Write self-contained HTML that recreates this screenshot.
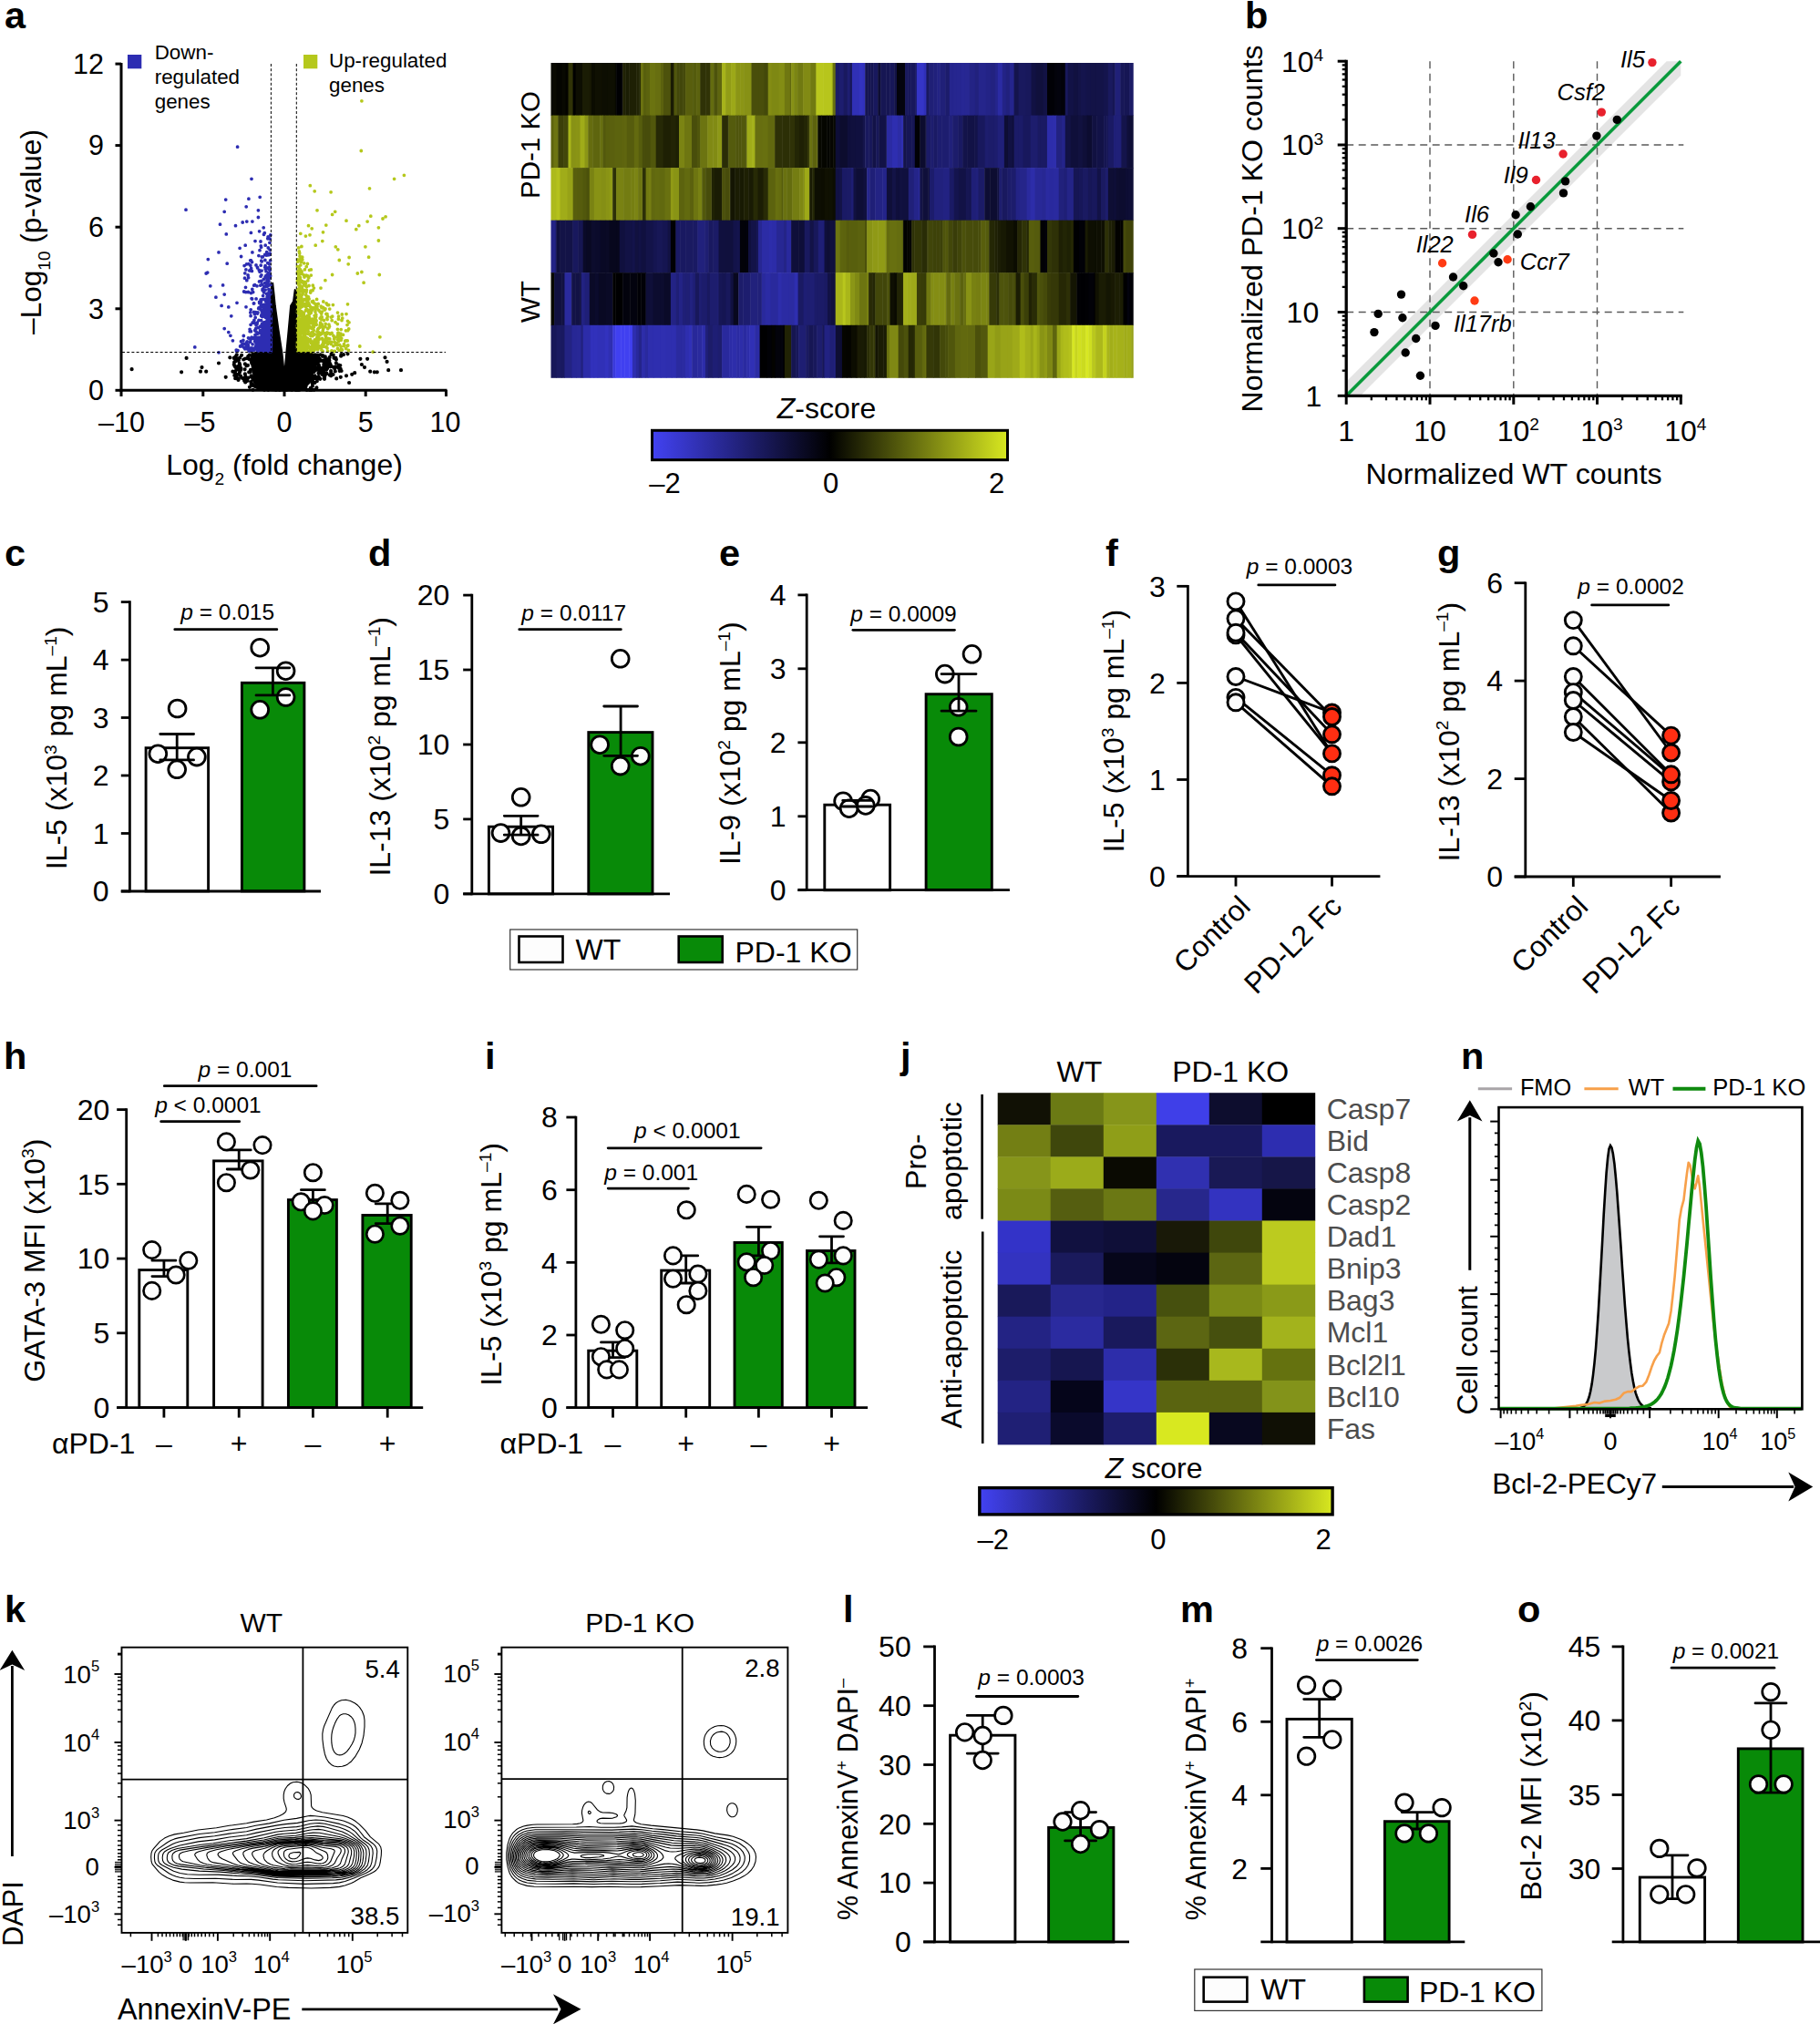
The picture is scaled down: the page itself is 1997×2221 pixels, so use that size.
<!DOCTYPE html>
<html><head><meta charset="utf-8"><title>Figure</title>
<style>html,body{margin:0;padding:0;background:#fff}svg{display:block}text{font-family:"Liberation Sans", sans-serif}</style>
</head><body>
<svg width="1997" height="2221" viewBox="0 0 1997 2221" fill="#000">
<rect width="1997" height="2221" fill="#fff"/>
<g>
<text x="5" y="31" font-size="41.5" font-weight="bold">a</text>
<path d="M297.9 314.4L299.2 310.7L300.5 322.3L301.8 335.5L305.5 361.9L309.5 388.2L312.1 412.6L314.2 388.2L316.7 361.9L319.1 335.5L322 330.9L323.7 318.1L325.3 322.3L325.3 386.9L342.4 387.6L345.1 396.2L343.7 408L339.8 419.9L331.9 427.5L318.7 428.6L300.2 428.6L284.4 427.5L279.1 419.9L277.8 408L275.2 394.8L276.5 387.6L297.9 386.9Z" fill="#000" stroke="#000" stroke-width="2" stroke-linejoin="round"/>
<path d="M272.2 391.2h0M258.1 402.4h0M258.4 391.3h0M259.6 395h0M270.4 401.4h0M277.1 398.8h0M264 412.6h0M271.9 400.9h0M258.1 394.4h0M264.2 405.9h0M275.6 412.4h0M269.2 416.1h0M280 393.1h0M260.3 402.4h0M274.9 408h0M273.2 408.4h0M276.6 421.1h0M258.1 407.6h0M276.2 398.6h0M257.2 401.1h0M258.1 409.4h0M266 414.9h0M269.7 416.6h0M263.3 400.8h0M279.4 394.2h0M262.2 402.6h0M256.8 399.9h0M279.3 413.2h0M272.8 390.7h0M277.5 416.4h0M259.2 406.1h0M261.7 393.5h0M256.7 392.9h0M257.3 411.9h0M262.7 398.8h0M276.9 422.8h0M258.7 391.7h0M276.4 394.4h0M269.2 393.5h0M269.2 419.4h0M262.9 399.4h0M269.3 413.2h0M276 422.2h0M276.1 414h0M265.1 389.8h0M262.9 408.7h0M278.9 423.5h0M261.9 395.3h0M271.5 417.8h0M272.2 414.7h0M278.3 416.1h0M260.9 410.9h0M279.8 402.9h0M273.9 394.5h0M278.2 416.9h0M280 412.2h0M259.8 389.3h0M269.2 418h0M276.3 396.1h0M262.4 405.6h0M259.8 413.8h0M270.6 417.5h0M268.6 405.3h0M267.2 394.5h0M260.8 402h0M264.4 404h0M259.2 404.1h0M275 405.9h0M278.4 404.3h0M268.9 410.4h0M268.1 417.8h0M279.1 398h0M276.6 393.6h0M258.4 395.4h0M275.3 419h0M272.4 393.5h0M261.9 415.8h0M280.2 418.5h0M268.9 399.4h0M273.8 389.6h0M257.1 397.6h0M258.2 415.2h0M259.2 396.1h0M263.1 392.6h0M276.1 397.7h0M343.7 419.5h0M351.8 409.1h0M342.9 390.8h0M355.6 400.3h0M342.7 420.6h0M353.7 411.1h0M342.8 417.8h0M342.6 418.1h0M348.9 399.2h0M351.3 415.8h0M345.5 393.1h0M350.6 395.9h0M343.1 394.3h0M342.4 395.8h0M346.2 398.6h0M358.7 396.2h0M350 394.2h0M346.8 389.5h0M345.2 389.4h0M357.4 403.1h0M344.3 404.5h0M374.1 390.7h0M362 398.9h0M349.9 413.8h0M347.7 404.6h0M355.6 415.1h0M346.7 415.2h0M356.3 405.6h0M347.9 399.6h0M342.4 393.3h0M342.6 414h0M345.3 394.2h0M342.8 417.3h0M366 403h0M345.7 396.7h0M345.9 403.6h0M343.8 403.7h0M345.4 420h0M351.2 396h0M346.2 400.3h0M341.8 402h0M349.4 404h0M344.4 405.5h0M341.8 398h0M342.9 402.4h0M342.3 389.7h0M346.1 396.3h0M352.2 404h0M358.2 405.5h0M356.7 411.8h0M347.6 399h0M343.7 413h0M354 390.1h0M363.2 409h0M353.5 409.3h0M361.6 392.2h0M350.6 403.8h0M363.1 407h0M362.5 402.3h0M368.3 402.4h0M355.8 395h0M342.1 393.4h0M347.1 392.2h0M363.2 401.5h0M353.5 406.3h0M355.3 402h0M341.8 416.2h0M358.1 401.6h0M350.9 408.2h0M342.6 413.8h0M345.2 391.3h0M345.4 412.4h0M344.5 413.2h0M349.8 400.3h0M349.5 409.4h0M359.1 404.2h0M354 391h0M343.7 397.4h0M357.9 396.6h0M351.7 389.3h0M342.5 398h0M355 407.6h0M355.1 396.7h0M350.4 402.6h0M349.2 392.5h0M368.4 392.8h0M374.4 389.2h0M349.1 413.7h0M348.8 397.1h0M344.6 419.9h0M344.6 407.9h0M343.6 406.4h0M343.5 416.3h0M350.2 415.2h0M356.2 395h0M368.8 398.3h0M342.1 389h0M349.8 402.4h0M346 393.4h0M346.8 398.9h0M363.5 388.9h0M358.3 410.1h0M343.3 419.9h0M326.5 427.8h0M295.3 424.7h0M302.9 427.8h0M317.4 424.5h0M305.5 423.8h0M277.4 422.2h0M335.5 423.9h0M342.9 423.5h0M293.5 425.9h0M287.9 424.7h0M344.5 427.8h0M333.8 427h0M341.3 427.8h0M314.4 427.8h0M277.5 427.8h0M307.1 427.8h0M321.4 423.9h0M277.5 427.8h0M283.3 425.6h0M299.2 424h0M328.4 427.8h0M293.1 427.3h0M296.1 426.4h0M303 422.8h0M285.8 423.1h0M340.8 425.8h0M290.1 427.8h0M347.4 425.4h0M284.2 423h0M280.5 424.4h0M280.6 423.4h0M292.9 426.5h0M339.4 427.8h0M304.3 425h0M312.6 424.7h0M298.8 421.8h0M294.3 427.8h0M283.1 425.9h0M320.3 427.8h0M289.8 423.7h0M292.2 424.9h0M306.8 427.8h0M336.5 427.8h0M275.5 421.5h0M326.2 427.8h0M308.8 426.6h0M273.9 424.8h0M342.3 427.8h0M337 427.8h0M292.2 422.2h0M285.3 426h0M324.2 427.8h0M327.1 427.2h0M330.3 425.4h0M314.6 421.6h0M331.6 423.4h0M341.8 427.2h0M296.3 422.4h0M292.4 427.1h0M325.4 422.3h0M144.6 405.2h0M204.6 392.9h0M199.1 408.3h0M221.5 403.1h0M220 407.7h0M226.2 407.7h0M240 398.5h0M247.7 413.8h0M383.1 420h0M395.4 393.8h0M403.1 393.8h0M396.9 400h0M400 403.1h0M406.2 407.7h0M410.8 408.3h0M413.8 408.3h0M422.5 392.3h0M424.6 396.9h0M426.2 406.2h0M440 406.2h0M381.5 388.3h0M376.9 389.2h0M389.2 409.2h0M386.2 410.8h0M380 412.3h0M373.8 413.8h0M369.2 415.4h0M363.1 412.3h0M252.3 392.3h0M255.4 407.7h0M261.5 416.9h0M359.6 401.6h0M356.1 413.5h0M355.7 403.6h0M373.3 401h0M359.5 397.5h0M356.8 405.4h0M368.9 394.4h0M356.3 399.5h0M356.1 414h0M361.4 395.7h0M355.1 411.8h0M349.9 410h0M345.7 395.2h0M346.9 414.7h0M349.5 395.9h0M346.8 397.4h0M367.3 404.6h0M372.7 407.1h0M361.8 411.6h0M347.8 418.2h0M358.2 394h0M367.8 407.5h0M356.8 391.4h0M371.5 403.8h0M363.2 412.3h0M346.2 390.7h0M348.8 389.6h0M366.5 402.9h0M348.5 394h0M350.5 407.3h0M365.5 411h0M356 415.8h0M358.2 399.2h0M352.7 395.7h0M374.6 407h0M366.5 392.8h0M350.5 393.5h0M355.7 409.3h0M346.8 405.9h0M365.7 389.7h0M358.4 409.7h0M362.5 399.9h0M371.8 400.7h0M355.3 399.9h0M373.7 404.9h0" stroke="#000" stroke-width="4.2" stroke-linecap="round" fill="none"/>
<path d="M260.6 161.2h0M276 196.3h0M204 230.2h0M247.7 219.1h0M272.9 218.2h0M285.2 216.3h0M270.2 226.8h0M246.2 232.3h0M283.4 230.8h0M283.4 238.5h0M241.5 246.2h0M258.5 247.7h0M266.2 244h0M270.8 243.1h0M276.9 243.1h0M248.3 256.9h0M275.4 255.4h0M284.6 253.8h0M289.2 249.8h0M240 276.9h0M228.3 284.6h0M227.7 299.1h0M226.2 300h0M230.8 313.8h0M249.2 289.2h0M264.6 281.5h0M263.1 272.3h0M269.2 269.2h0M244.6 312.9h0M246.2 323.1h0M236.9 326.2h0M243.1 335.4h0M250.8 336.9h0M253.8 346.8h0M260 332.3h0M246.2 360.6h0M250.8 364.6h0M252.9 368.3h0M255.4 373.8h0M213.8 380.9h0M240 386.8h0M280 264.6h0M276.9 276.9h0M273.8 296.9h0M270.8 307.7h0M267.7 320h0M296.6 367h0M292.5 379.3h0M297.2 376.6h0M290.9 378.9h0M297.1 368.3h0M291.9 378.2h0M271.7 379.2h0M293.2 371.9h0M295.1 345.7h0M290.4 379.9h0M293.6 342.6h0M294.8 349.8h0M267.3 368.5h0M294.8 372.1h0M267.9 381.6h0M296.8 384.1h0M270.8 375.6h0M286.5 373.7h0M293.3 381h0M294.1 374.8h0M293 342.4h0M291.7 384.3h0M292.7 322.5h0M292.8 328.7h0M292.1 343.8h0M296.9 384.7h0M272.3 378.2h0M274.7 375.2h0M284.9 376.1h0M297.3 350.3h0M294.7 369.5h0M266.9 373.4h0M291.8 368.6h0M295.3 345h0M280.2 348.5h0M293.4 376h0M282.2 383.5h0M283.5 378.5h0M297 365.5h0M296.5 383.1h0M285.1 370.8h0M292 361.3h0M283.7 338.6h0M296 339.6h0M289 373.9h0M295.1 378.5h0M295.7 331.6h0M293.4 373h0M290.3 379h0M291 342.8h0M273 384.6h0M296.1 380.3h0M288.7 318.9h0M277.4 370.7h0M288.4 361.4h0M292.8 381.8h0M294.4 362.7h0M295.1 385.3h0M286.1 380.5h0M295.1 345.9h0M296.7 382.9h0M289.4 360.1h0M295.6 355.8h0M294 376.4h0M293.6 364.7h0M292 335.6h0M292.9 380.1h0M295.1 385.5h0M291.9 342.6h0M276.1 370.1h0M297.2 365.5h0M273.5 383.3h0M292.7 368h0M294 367.2h0M296.2 368.7h0M263.6 380.1h0M296.8 320.3h0M274.1 361.3h0M295.6 347h0M292.2 338.7h0M295.3 379.4h0M290.1 373.5h0M294.5 353.3h0M296.9 364.9h0M296.9 340h0M288.3 365.6h0M293.7 372h0M291.8 358.7h0M291.6 385h0M290.7 378.9h0M282.3 370.3h0M291 382.8h0M291.8 383.2h0M290.3 384.6h0M296.5 352.5h0M290.2 384.2h0M280.6 380.2h0M295.5 346.7h0M296.7 374.8h0M295.6 328.8h0M280.6 381.7h0M272.4 379.8h0M290.3 376h0M295.3 381.2h0M286.1 329h0M282.1 382.5h0M287.3 374.4h0M289.3 363.9h0M292.4 345.6h0M288.8 374.4h0M291.5 380.7h0M296.8 342.7h0M286.5 376.2h0M297 381.6h0M291.7 367.6h0M295.9 379.2h0M297.1 385.5h0M296.2 374.5h0M288.7 363.3h0M287.7 369.5h0M270 378.6h0M296.3 360.1h0M282.2 372.7h0M297.2 359.7h0M293.1 359.6h0M274.2 384.5h0M292.2 378.8h0M282.4 385.3h0M269.3 381.8h0M288.1 367.9h0M280.7 380.8h0M293.8 384.4h0M282.2 354.1h0M278.9 351.4h0M283.9 370.5h0M296.2 379h0M293.3 350.9h0M278.9 354.4h0M289.3 371.3h0M290 377.9h0M264.1 379.5h0M297.2 378.1h0M293.4 332.5h0M294.6 325.9h0M285.6 358.2h0M291.1 339.7h0M278.1 371.2h0M289 376.4h0M287.7 383.6h0M295.8 384.9h0M271.2 375h0M297 384.5h0M287.4 355.7h0M296.7 363.2h0M280.5 342.7h0M296.6 334.9h0M268.8 382.8h0M296.1 384.7h0M280.8 360.4h0M287.4 377.1h0M296.3 350.1h0M293.5 371.8h0M294.4 377.3h0M292.8 375.9h0M290.4 337.8h0M297 372.3h0M282.7 374.9h0M289.7 379.5h0M296.4 342.7h0M297.3 380h0M259.6 385.5h0M290.6 345.7h0M290.6 374.9h0M294.3 313.4h0M294.9 355.5h0M296.2 360.3h0M282 355.7h0M287.5 374.6h0M292.4 330.2h0M275.6 385h0M294.3 327.6h0M292.6 331.6h0M291.2 366.6h0M283.5 359.6h0M293.4 381.4h0M286.6 351.7h0M291.6 348.4h0M296 370.1h0M294.6 380.3h0M285.3 339.1h0M295.6 378.5h0M290 381.2h0M296.3 303.4h0M284.3 371.3h0M287.3 382.8h0M292.5 384.7h0M281.8 356h0M287.4 370h0M288.2 372.6h0M273.7 371.5h0M283.6 371.9h0M284.7 332.5h0M285.4 337.7h0M287.2 370.5h0M287.5 383h0M282.2 354.3h0M294.5 371.8h0M287.7 372.4h0M271 380.5h0M282.4 373.3h0M261 384.6h0M295.6 347.5h0M290.1 382.9h0M289.6 354h0M287.2 341.4h0M292.1 311.5h0M285.9 373.1h0M296.7 377.6h0M297.2 372h0M285.5 374.7h0M294.8 351.7h0M289.9 379.4h0M292.4 379.6h0M282.5 344.1h0M291.1 364.9h0M264.5 374.7h0M280.4 343.2h0M293.9 365.7h0M279.6 374.6h0M294.2 373.8h0M291.8 380.5h0M284.7 377.3h0M293.8 369.2h0M287.3 358.6h0M295.8 341h0M297.2 385.3h0M286.8 378.4h0M295.8 378.9h0M293.1 381.5h0M281.8 381h0M288.1 347.5h0M275.1 346.7h0M295.1 356h0M283.9 371.1h0M289.3 377.9h0M295.8 368.6h0M291.1 381.7h0M290.5 366.2h0M297.3 339.6h0M289.1 358.2h0M292.7 372h0M296.5 360.2h0M297 362h0M270.8 375.6h0M290.3 369h0M297 353.9h0M293.2 336h0M291 366.9h0M295 371.3h0M289.3 341.7h0M279.9 372.7h0M294.2 367.9h0M286.8 346.3h0M293.6 376.7h0M287.4 347.2h0M284.6 331.3h0M296.8 376.7h0M295.2 321.9h0M286.7 346.6h0M288 361.6h0M285.5 362.9h0M295 358.1h0M283.1 382.9h0M297 348.3h0M286.8 374.1h0M282 364.9h0M293.8 371.9h0M291.8 359.9h0M296.8 364.6h0M296.1 344h0M272.5 370.8h0M292.5 363.2h0M290.9 372.3h0M287.1 379.6h0M297.2 385.5h0M277.2 382.2h0M284.8 378.7h0M295.3 384.3h0M285 337.1h0M296.5 360.8h0M291.2 318.1h0M297.2 359.3h0M296.5 376.3h0M295.5 336.2h0M296.7 374.1h0M291.6 357.3h0M281.5 374.3h0M287.5 372.1h0M289 376.9h0M293.3 362.3h0M279.7 362.6h0M291.8 330.7h0M285.9 362.5h0M281 377.3h0M294.3 371.9h0M279.6 343.8h0M288.9 377.6h0M281.1 356.7h0M293.1 383.4h0M281.5 380h0M270.8 378.9h0M286.1 369.9h0M294.4 350.8h0M291.2 383.3h0M282.7 379h0M290.9 363.3h0M295.2 380.6h0M292.9 364.8h0M290.1 381.6h0M292.7 382.8h0M282 381.4h0M293.1 367.2h0M290.7 364.6h0M282.4 371.7h0M282.9 342.8h0M294.4 384.6h0M295.4 383.4h0M289.3 334.4h0M288.3 372.9h0M265.7 378.2h0M292.4 370.7h0M296.9 378.2h0M296.8 346.9h0M295.8 350.4h0M286.1 376.7h0M283.3 382.8h0M294.4 382.3h0M295.5 378.8h0M286.1 385.3h0M295.2 384.7h0M294.9 317.5h0M275.6 381.8h0M296.3 319.4h0M287.5 370.5h0M280.2 369.3h0M295.8 379.3h0M285 365.4h0M277.1 377.8h0M295.6 377.7h0M293.3 381h0M293.5 327.1h0M259.3 384.1h0M286.4 379.7h0M294 378.1h0M271.7 383h0M274.9 384.1h0M281.1 375.2h0M297.3 340.9h0M295.3 371.3h0M294.9 364.4h0M295.4 348.7h0M295.2 383.5h0M288 368.5h0M295 361.9h0M280.8 363.7h0M296.7 352.6h0M284.7 384.2h0M293.3 339.4h0M290.6 385.2h0M290.9 334.1h0M295.3 341h0M295.6 374h0M297.3 367.2h0M290.2 382.4h0M285 373.6h0M296.7 333.9h0M290.6 367.6h0M289.7 385.1h0M294.8 380.6h0M294.5 343h0M296.3 355.5h0M297.1 362.7h0M290 355.2h0M277.2 354h0M296 368.6h0M294.1 382.4h0M295.9 363.2h0M295.7 364.3h0M295.5 341.8h0M292.5 371.9h0M289.9 373h0M282.5 375.3h0M293.3 371.3h0M278.7 384.2h0M291.9 360.5h0M289.8 383.8h0M290.4 385.1h0M287.4 344.1h0M276 384.7h0M294.3 357.2h0M289.6 320.9h0M294.5 367.2h0M267.5 377.1h0M287 382.4h0M291.1 366.5h0M296 382.1h0M292.2 377.1h0M296.4 365.8h0M288 364.5h0M295.1 354.6h0M289.5 361.8h0M293.6 378.7h0M290.2 373.5h0M297.2 374.7h0M294.6 365.2h0M282.7 381.3h0M277 371.1h0M292.5 371.1h0M296.2 379.2h0M284.1 381.4h0M293 357.4h0M278.6 342.5h0M284 351.5h0M290.9 347.1h0M273 382.2h0M297.3 349.3h0M292 347.2h0M288.1 373.7h0M291.3 353.4h0M292.4 365.3h0M293.5 346.9h0M290.5 370.9h0M293.7 381.7h0M288.7 383.3h0M293.5 339.2h0M265.8 379.9h0M273.4 385.3h0M289.1 368.4h0M282.6 366.2h0M290.1 367.4h0M292.4 374.5h0M293 311.6h0M290 383h0M292.3 365h0M291.6 361.1h0M293.2 366.7h0M295.5 376h0M280 367.6h0M275.1 356.3h0M275.7 371.9h0M293.9 367.7h0M295.3 380.6h0M288.2 374.7h0M287.3 384.5h0M282 376.4h0M297.3 376.5h0M288.6 358h0M290.5 365.4h0M287 366.6h0M288.9 372.3h0M295.6 349.9h0M296.3 380.9h0M280.2 361.8h0M296.7 385.3h0M293.5 354.1h0M295.5 377.8h0M274.2 363.7h0M291.4 373.4h0M275.4 363.7h0M291.6 361.4h0M296.9 318.7h0M293.6 328.2h0M293.7 362.5h0M292.4 353.9h0M293.7 333.4h0M281.8 378.6h0M292.9 380.4h0M293.9 365h0M289.8 373.4h0M296.7 382.3h0M293 378.6h0M294 378.8h0M286.5 375.1h0M285.2 383.2h0M279.5 382.2h0M279.4 344.7h0M293 353.5h0M265.9 379.8h0M290.4 379.2h0M295.9 354.9h0M274.6 363.4h0M294.5 362.1h0M277 382.3h0M289.6 377.7h0M292.5 358.8h0M293.6 373.2h0M295.4 337.9h0M286.6 382.7h0M292.9 368.2h0M296.6 376.3h0M293.3 294.1h0M288.7 316.8h0M270.6 289.8h0M293.1 326h0M296.1 296.8h0M277.7 320.6h0M285 298.2h0M276.6 328h0M272.4 320.5h0M278.7 332.9h0M293.6 279.9h0M275.6 294.4h0M295.8 343.1h0M292.2 331.7h0M288.1 318.4h0M295.8 323.5h0M278.4 333h0M272.6 304.7h0M276.1 327.6h0M284.3 296.4h0M286.8 346h0M272.7 289.7h0M288.6 342.9h0M272.1 302h0M295.6 328.3h0M293.7 288.6h0M290.8 279.7h0M275.2 339.8h0M276.8 317.5h0M275.2 285.9h0M288.8 339.5h0M269.5 315.3h0M269.9 295.9h0M275.5 285.8h0M278.7 313.2h0M295.4 295.4h0M284.5 308.9h0M270 336.8h0M274.8 342.9h0M276.5 287.6h0M289.3 306.4h0M268.8 299.8h0M281.1 327.9h0M295.2 320.1h0M285 331.4h0M287.9 336.1h0M276.4 297.4h0M290 328.5h0M282 313.8h0M269.8 320.6h0M288.2 281.9h0M292.8 305.2h0M287.2 286.9h0M281 290.9h0M292 297.7h0M279.6 312.6h0M274.7 285.8h0M293.6 325.1h0M286.5 331.1h0M295.2 325.7h0M291.2 295.2h0M283.9 337.9h0M287.5 312.1h0M286.4 333.9h0M294.8 345.3h0M268.1 291.6h0M294.5 294h0M268.5 305.2h0M293.8 310.6h0M295.5 325.6h0M295.9 266.3h0M288.1 317.3h0M288.6 324.6h0M291 304.1h0M296.1 274.1h0M286.2 291.2h0M295.5 279.5h0M292.2 280.1h0M296.2 262.2h0M297 312.5h0M292.7 314.3h0M296.3 278.1h0M294.4 279.4h0M294.9 299.3h0M287.1 297.1h0M295.6 323.7h0M290.3 255.7h0M275.4 321.5h0M291.1 292.8h0M295.2 279.4h0M291.2 269.2h0M294.1 259.9h0M282.6 293.9h0M295.8 293.2h0M295.9 278.3h0M286.8 286.2h0M286.3 269.8h0M296 305.1h0M296.6 285.9h0M286.1 303.2h0M286.9 301.8h0M286.4 308.5h0M297 322.2h0M286 265h0M288.4 317.4h0M296 300.8h0M287.5 328.6h0M296.7 302.8h0M293.8 261.8h0M289.5 257.3h0M289.9 314.4h0M290.8 293.2h0M293.5 301.3h0M290.9 285.5h0M294.9 308.4h0M291.1 291.7h0M292.4 279.9h0M295.3 289.6h0M294.3 272h0M286.6 271.2h0M290.8 310.5h0M274.8 291.2h0M293 307.5h0M292.7 276.6h0M282.4 293.3h0M285.8 313.2h0M291.9 302.5h0M293.9 302.4h0M285 274.7h0M295.1 311.6h0M283.9 280.6h0M287.4 282h0M286.9 308.8h0M296.5 302.3h0M296.8 257.9h0M290.7 279.4h0" stroke="#2d2db2" stroke-width="3.8" stroke-linecap="round" fill="none"/>
<path d="M396.9 110.8h0M396.3 165.5h0M443.4 192.3h0M432.6 196.3h0M340.3 203.7h0M345.2 209.8h0M363.1 210.8h0M405.5 206.8h0M348 230.8h0M367.7 232.3h0M364.6 235.4h0M380 242.2h0M406.8 237.2h0M423.1 237.8h0M420 240h0M403.1 243.1h0M393.8 247.7h0M390.8 251.7h0M415.4 249.8h0M357.8 247.1h0M354.5 254.8h0M338.5 247.7h0M342.2 250.8h0M415.4 264h0M400.9 270.8h0M404.6 282.2h0M383.1 282.5h0M382.2 289.8h0M396.9 298.5h0M392.3 300h0M416.3 301.5h0M399.1 310.2h0M416.9 369.8h0M394.8 380h0M409.2 386.2h0M329.8 256.3h0M335.4 259.1h0M340 257.8h0M346.2 269.2h0M353.8 264.6h0M368.3 270.8h0M370.8 273.8h0M372.3 285.5h0M364.6 301.5h0M356.9 307.7h0M381.5 333.8h0M380 344.6h0M381.5 352.3h0M373.8 366.2h0M369.2 376.9h0M332.7 379.2h0M326.4 309.2h0M337.4 302.6h0M329.6 377h0M326.6 340.4h0M330.3 379.4h0M343.5 331.8h0M330.8 379.4h0M330.7 371.7h0M331.5 331.6h0M326.8 360.2h0M345.5 348.5h0M358.8 364.9h0M328.3 374.8h0M327.3 350.3h0M326.8 368.1h0M340.7 385.5h0M348 338.7h0M330.1 352.7h0M332.5 373.1h0M338.6 332.6h0M328.3 375h0M335.6 372.6h0M327.3 373.7h0M345 383.7h0M336.9 374.9h0M360.6 365.7h0M330.3 372.9h0M326.7 379.3h0M333 382.9h0M331.6 359.2h0M334.8 360.4h0M327.7 379.6h0M335.2 382h0M329.6 382.6h0M329.6 365.2h0M329.2 359.8h0M334.4 358.7h0M332.2 383.3h0M348.7 361.4h0M342.2 381.9h0M340.7 382.3h0M331.9 379.9h0M335.6 340.4h0M343.1 383.8h0M331.6 385.1h0M329 374.8h0M332.6 319h0M349.4 360.5h0M349.3 380h0M331 341.9h0M345.9 381.6h0M341.3 295.9h0M326.8 357.5h0M335.3 336.3h0M355.4 351.5h0M328.7 367.7h0M336.1 382h0M327.6 336.7h0M335.4 375.2h0M331.7 380.9h0M335 350.1h0M359.6 385.2h0M328.2 364.5h0M344.4 384.5h0M345.5 351.1h0M333.6 380.4h0M331.9 323h0M327.2 373.5h0M351.5 358.6h0M328.4 372h0M336 370.7h0M326.4 359.4h0M326.6 367h0M326.9 380.8h0M329.9 375.9h0M329.7 360.1h0M335.6 340.9h0M343 355.2h0M331.4 375.6h0M330.4 341.9h0M334.3 355h0M335.3 369.8h0M330.9 373.8h0M333.7 371.7h0M329.3 372.6h0M326.4 323.5h0M332.9 360.1h0M328.4 383.5h0M330.5 346.3h0M357.4 373h0M336.1 383.1h0M343 368.7h0M327.1 365.5h0M330 376.6h0M328.4 376.1h0M329.1 370.1h0M336.7 325.1h0M328.8 345.5h0M336.6 383.1h0M349.7 373h0M328.7 362.3h0M337.8 307.9h0M330.8 343.6h0M332.2 351.1h0M327 369.4h0M337.4 373.3h0M336.5 376.6h0M326.5 306.9h0M375.5 383.9h0M340.8 373.5h0M328.2 380.9h0M327.4 334.6h0M335 358.7h0M338.3 357.7h0M341.5 376.6h0M342.5 340.2h0M330 363.1h0M327.9 385.3h0M338.3 340.5h0M377.4 377.8h0M327.4 384.8h0M327 364.5h0M328.6 300.4h0M328.1 379.7h0M354.9 380.2h0M343.2 377.2h0M334.1 354.9h0M344.4 366.9h0M352.5 382.2h0M327.1 354.2h0M348.7 383.7h0M332.2 309.3h0M337.4 377.9h0M329.7 368.4h0M328.9 342.4h0M335.8 380.4h0M349.1 376.2h0M345.7 375.5h0M333.8 318.4h0M339.2 358h0M336 320.6h0M350.4 372.1h0M348.6 379.5h0M330.3 384.9h0M367.4 385.3h0M328.2 345.2h0M328.4 350.8h0M331 309.6h0M329.3 338h0M326.8 364.3h0M332.6 382.3h0M378.9 374.1h0M327.8 365.3h0M332.6 379.6h0M328.1 345h0M327.7 372.4h0M354.5 372.6h0M329.9 379.7h0M327.1 384.3h0M332.2 360.9h0M326.5 350.3h0M335.1 361.5h0M332 374h0M366.8 370.8h0M332.2 380.9h0M326.4 357.2h0M329.6 357h0M329.4 378.9h0M347.1 339.1h0M326.9 349.7h0M338 361.5h0M366.3 385.6h0M347.9 364h0M329.3 355.5h0M331.7 347.8h0M334.7 356.8h0M330.7 355.5h0M329.2 356.9h0M353.2 366.2h0M334.6 366h0M328.1 306.1h0M334.7 362.9h0M329.4 379.9h0M333.2 354.6h0M331.7 331.5h0M327.8 380.5h0M327.6 372.2h0M334.6 367.3h0M333 365.9h0M342.3 380.7h0M331.5 363.3h0M331.5 373h0M326.5 378.8h0M327 379.7h0M329.9 373.7h0M346.5 382.7h0M348.3 378.8h0M344 356.4h0M326.8 367.9h0M340.3 375h0M338 335.1h0M331.8 359.4h0M328.7 277.8h0M331.6 352.4h0M327.2 342.8h0M334.7 364.8h0M342.2 384.8h0M333.3 366.8h0M332.3 366.1h0M332.8 365.1h0M345.9 351.9h0M332.1 384.4h0M335.4 341.1h0M327.7 378h0M345.4 382.4h0M342 360.4h0M339.1 348h0M327 350h0M349.4 380.8h0M334.5 385.4h0M329.9 376.4h0M329.6 326.2h0M334.4 369.1h0M330.4 324.5h0M348.1 376.6h0M326.9 362.3h0M333.3 365.2h0M331.4 336.6h0M354.6 361h0M330.6 362.5h0M335.7 373.8h0M344.2 375.2h0M344.5 358.4h0M357 367.8h0M327 368.4h0M326.9 325.4h0M336.5 379.6h0M335.6 336.7h0M338.9 351.5h0M329 330.3h0M354.4 378.6h0M327.5 339.1h0M332.3 353h0M352.8 350.5h0M327 349.5h0M346.6 375.1h0M336.1 374h0M328.2 311.9h0M347 380.6h0M331.7 354.6h0M335.2 382.6h0M340.9 368.6h0M327.7 332.1h0M334.7 375.2h0M341.9 364.8h0M327.4 365.5h0M336.5 362h0M328 376h0M347.3 377.8h0M326.7 357.9h0M331.1 298h0M326.9 373.3h0M329.5 344.5h0M343.7 374.9h0M335.5 382.6h0M343.7 358.2h0M326.7 363.8h0M338 381.3h0M331.2 371.4h0M328.3 380h0M330.9 329.6h0M333.7 380.7h0M350 381.8h0M334.9 381.8h0M328.3 362.4h0M331.5 378.9h0M328.9 381.5h0M349.3 364.5h0M326.5 298.6h0M343.9 360h0M329.3 343.6h0M329.8 384.7h0M334.5 375.1h0M327.3 359.4h0M336.5 339.1h0M327.1 377.1h0M372 384.3h0M339.5 334.5h0M345 366.8h0M326.5 300.1h0M332.2 382.8h0M341.2 351.2h0M331.1 381h0M329.1 373.4h0M343.9 365.8h0M343.3 313.2h0M337.7 378.9h0M347.3 338.8h0M340.5 372.6h0M364.2 351.7h0M328 332.1h0M352.7 344.2h0M344.5 358.5h0M345.9 339.1h0M330.3 287.3h0M359 381.9h0M343.7 376.8h0M329.3 378.9h0M329.4 365h0M339.3 348h0M343.5 337.7h0M327.4 353.6h0M331 358.2h0M344 385.5h0M326.5 382.1h0M332.4 357.5h0M330.9 378.3h0M347.2 356.3h0M327.4 376h0M332.9 352.8h0M327.8 350.8h0M345.7 379.4h0M361.8 372h0M351.1 357h0M332 364.6h0M346.2 380.2h0M326.3 379.8h0M333.1 335.3h0M331.2 382.4h0M348.6 363.7h0M327.2 355.9h0M361.8 372h0M337.5 371.3h0M339 313.5h0M346.5 350.7h0M333 343.4h0M341 343.6h0M330.7 381.1h0M351.2 380.9h0M336 384.2h0M341.8 354.5h0M342.4 375.2h0M344.7 351.4h0M363.3 348.1h0M330 380.3h0M345.9 337.7h0M328 363.6h0M328.3 344.9h0M330.5 383.9h0M331.7 282.2h0M328.7 374.4h0M328.8 373.9h0M327.6 376.5h0M331.8 285.1h0M328.9 313h0M346.7 354.9h0M330.6 380.6h0M333.5 360.8h0M342 375.8h0M354.3 362.8h0M337.5 376.5h0M326.8 332.5h0M331.2 300.3h0M329.5 383.4h0M342 351.2h0M344.8 382h0M339.5 340.4h0M357.9 344.5h0M331.9 335.9h0M328.6 323.3h0M334.6 352h0M327.9 373.1h0M332.3 364.5h0M338.7 359.5h0M335.9 375.9h0M343.7 330.3h0M338.8 343.1h0M352 316.1h0M345.6 353.9h0M327.9 348.7h0M337 375.9h0M336.7 332.9h0M329 377.9h0M331.3 349.2h0M346.8 373.7h0M337.5 381.1h0M327 367.7h0M344.8 384.4h0M327.6 377.9h0M331 373.4h0M329.1 337.8h0M346.8 335.4h0M326.7 339.9h0M334.2 368.9h0M337.5 346.5h0M332.1 363.8h0M329.2 324.3h0M374.4 383.4h0M327.9 367.3h0M340.1 367.2h0M328.7 370h0M328.8 345.2h0M332.8 378.9h0M328.8 376.2h0M340.6 383.6h0M326.5 325.2h0M337.5 376.3h0M328.3 355.3h0M330.4 384.2h0M331.3 316.1h0M333.1 382.3h0M328.2 340h0M333.6 333.3h0M327.6 360.5h0M329 376.8h0M353.2 348h0M370.5 368.2h0M331.8 334.9h0M327.9 385.2h0M336.2 371.2h0M346.2 338.8h0M326.8 318.9h0M327.2 373.8h0M350.6 365.5h0M328.9 377.2h0M331.7 382.3h0M327.8 378.8h0M336.2 354.9h0M332.8 383.5h0M327 366.3h0M338.9 347.7h0M338.1 349.9h0M328 312.9h0M327.1 377.3h0M329.2 370.5h0M345.8 355.1h0M326.8 382.6h0M344.5 384.4h0M329.4 304.7h0M338.8 304.8h0M354.5 376.4h0M326.5 342.7h0M344.8 380.2h0M327.6 338.7h0M354.1 385.5h0M335.4 333.4h0M337.2 358.2h0M327.2 383.9h0M330.2 370.3h0M341.7 384.9h0M345 367h0M338.1 378.6h0M327.6 271.9h0M331.2 382.6h0M347.6 328.4h0M331.5 374.7h0M328.1 357.3h0M342.8 385.4h0M327.7 349.8h0M334.6 367.2h0M336.9 353.9h0M341.1 337.3h0M346.7 347.4h0M339.1 328.1h0M349.9 379.6h0M332.9 348.4h0M330.3 372.6h0M327.5 367.9h0M338.2 304h0M329.9 376.9h0M326.6 377.7h0M354.8 373.5h0M343.1 318.7h0M334.8 382.3h0M330.6 355.7h0M334.8 353.8h0M357.5 369.7h0M329 375.3h0M326.5 376.5h0M377.6 379.7h0M339.4 350h0M342 376.9h0M326.6 350h0M329.7 284.5h0M336.4 353.2h0M339.6 374.6h0M327.1 385.2h0M328.1 382h0M342.8 379.7h0M330.4 369.7h0M332.9 346.1h0M356.5 372.9h0M326.7 332.1h0M348 336.4h0M330 385.3h0M352.7 380.4h0M336.2 352.8h0M328.1 382.5h0M331.7 353.6h0M329.2 383.6h0M347.8 381.4h0M331.4 346.7h0M343.7 376.8h0M334.6 382h0M344.2 375.4h0M342.6 377.9h0M329.1 370.9h0M337.8 366.3h0M326.9 352.6h0M329.3 384.7h0M327.7 366.9h0M327.4 381.8h0M328.5 377.7h0M327.7 383.5h0M333.4 302h0M327.2 378h0M335.6 323.7h0M348.2 382.1h0M334.7 377.3h0M348.8 378.4h0M329.8 307.4h0M341.1 383.3h0M330.6 378.6h0M331.4 381.7h0M333.7 379.6h0M338.2 363.7h0M333.5 344.7h0M329.3 364.6h0M338.1 380.9h0M359 344.7h0M331.5 314.9h0M329.2 358h0M327.3 378.2h0M332.8 381h0M341.8 359.1h0M332.1 351.1h0M359.6 377.6h0M334.4 295.8h0M346.5 378.8h0M333.2 377.8h0M330.7 369.8h0M338.7 384.9h0M328.3 332.2h0M336.8 376.6h0M335.6 347.9h0M329.4 381.7h0M328.1 381.1h0M336.1 319.6h0M329.3 380.1h0M333.1 369.7h0M338.5 325.9h0M329.8 299.2h0M326.9 310.9h0M326.5 375.2h0M334.8 328.3h0M338.2 363.8h0M329.5 353.1h0M344.4 316.1h0M328.7 383.2h0M363.8 375.3h0M349.7 372.2h0M371.4 350.2h0M359.5 347.2h0M367.2 375.4h0M373.4 372.4h0M381.2 373.9h0M371.2 365.2h0M372.6 378.4h0M347.8 370.5h0M344.3 362.6h0M341.7 352.6h0M364.1 365.4h0M357.8 375.7h0M339 347.3h0M354.8 331h0M375.7 349.2h0M372.6 368.6h0M375 351.5h0M338.9 355.3h0M350.4 381.6h0M346 346.2h0M348.5 370.6h0M382.5 384.5h0M353.2 356h0M356.9 358.5h0M340.7 380.9h0M342.3 350.2h0M350 340.7h0M353.5 357.7h0M345.1 346.3h0M370.4 372.6h0M374.2 380.3h0M346.8 345.5h0M373.7 372.5h0M368 353.6h0M346.8 352.6h0M366.6 371.9h0M357.2 355.4h0M339.6 344.5h0M351.2 349.3h0M352.2 348h0M345.3 372.8h0M375.3 345h0M373.8 368.1h0M370.5 382.5h0M342.2 382.8h0M345 332.8h0M358.9 374.4h0M360.9 356.1h0M370.3 355.6h0M343 381.6h0M359.9 371.3h0M348.2 367.6h0M358.2 333h0M365.9 379.7h0M366.8 369.8h0M359.1 350.5h0M341.3 343h0M357.8 380.8h0M342.4 331h0M351.1 342.1h0M343 381.6h0M346 342.2h0M353.4 378.6h0M381.8 379h0M351.1 359.2h0M371.1 378.3h0M381.2 379.5h0M353.4 371.6h0M376.5 367.4h0M371.6 366.2h0M357 339h0M364 385h0M365.4 334.6h0M352.9 337.5h0M350.1 364.9h0M354 364.2h0M348.4 334h0M349.2 333.5h0M374.7 371.3h0M362.4 366.5h0M353.7 337.8h0M377.6 377.7h0M371.6 347.2h0M340.4 336.3h0M358.6 366.4h0M353.5 371.5h0M352.9 384.1h0M348.4 381.6h0M371.4 374.4h0M356.2 340.1h0M352.1 349.8h0M359.3 334.6h0M352.2 336.1h0M343 352.3h0M361.5 358.2h0M354.5 365h0M369.4 378.5h0M339.8 352.1h0M370.4 361.3h0M361.7 339.1h0M354.2 373h0M374.2 373.2h0M382.7 361h0M351.7 367h0M346.6 354.6h0M368.2 377.5h0M383 353.8h0M346.4 334h0M379.6 373.9h0M360.7 334.7h0M381 356.6h0M363.3 377.5h0M374.2 361.6h0M349.8 370h0M361.2 359.1h0M338.5 366.3h0M371.8 372.2h0M361.4 375.7h0M378.7 374.2h0M370.5 343.1h0M370.1 370.2h0M379.7 382.6h0M358 380.7h0M358.8 349.4h0M353.3 342.1h0M347.1 376.5h0M365.9 368.4h0M348 380.8h0M352.4 357h0M359.7 360.7h0M347.1 352h0M345.8 381.5h0M381.6 362.7h0M357.3 365.7h0M355.8 377h0M363.9 385.2h0M370.9 365.5h0M379.5 362.8h0M351.6 354.2h0M354.6 337.3h0M364.7 347.2h0M346.4 379.1h0M374.1 384.1h0M336.7 330h0M327.1 317.3h0M326.4 292.3h0M329.4 335.2h0M328.6 309.3h0M331.8 308.6h0M339.5 296.3h0M327.9 328.6h0M336.2 292.7h0M333.6 288.8h0M328 321.9h0M330.3 326.2h0M329.2 318.1h0M326.7 287.2h0M327 305.6h0M336.4 318.3h0M337.8 330.8h0M326.8 333.3h0M335 313.5h0M327.6 303h0M326.8 311.1h0M327.4 323h0M328.3 276h0M333.3 311.8h0M334.7 309.4h0M329 329.4h0M327 333h0M326.9 319.1h0M327.5 333.6h0M329.1 330.4h0M335.8 334.4h0M329 299.6h0M328.1 323.6h0M327 328.8h0M327.2 324h0M327.1 305.3h0M332.8 319.8h0M327.4 297.4h0M341.3 302.1h0M329.5 309.5h0M326.8 285h0M331.2 323.6h0M329 281.2h0M337.2 328h0M329.7 330.8h0M327 319.6h0M327.7 321.5h0M332.4 328.9h0M335.5 311.3h0M340.7 321h0M327.9 335.1h0M326.9 323.2h0M329.8 290.9h0M328.2 294.2h0M329.6 295.9h0M328.2 323h0M341 319.2h0M326.6 335.1h0M327.3 331.4h0M334 304.1h0M337.4 289.4h0M331.6 335.5h0M328.7 314.7h0M329.9 335.2h0M336.2 302.2h0M326.4 333h0M333.9 329h0M327.6 304.4h0M328 308.7h0M331.4 331.7h0M327.7 331.8h0M330.9 270.5h0M327.1 308.1h0M328.2 319.8h0M327 333.9h0M330.1 326.7h0M329.3 313.4h0M328.6 334.9h0M326.6 328.6h0M332.3 321.8h0M327.5 332.5h0M328.4 317.9h0M327.4 297.1h0M328.9 303.6h0M330.2 334.6h0M326.7 333.5h0M330.8 326.5h0M329.4 319.8h0M327 328.7h0M336.5 314.7h0" stroke="#b5c81c" stroke-width="3.8" stroke-linecap="round" fill="none"/>
<path d="M297.4 70L297.4 387" stroke="#000" stroke-width="1" stroke-dasharray="3 2.2"/>
<path d="M325.3 70L325.3 387" stroke="#000" stroke-width="1" stroke-dasharray="3 2.2"/>
<path d="M134 386.5L489 386.5" stroke="#000" stroke-width="1" stroke-dasharray="3 2.2"/>
<path d="M133 69L133 429.8" stroke="#000" stroke-width="3"/>
<path d="M131.5 428.3L490.5 428.3" stroke="#000" stroke-width="3"/>
<path d="M126.5 70.1L133 70.1" stroke="#000" stroke-width="3"/>
<path d="M126.5 159.6L133 159.6" stroke="#000" stroke-width="3"/>
<path d="M126.5 249.2L133 249.2" stroke="#000" stroke-width="3"/>
<path d="M126.5 338.8L133 338.8" stroke="#000" stroke-width="3"/>
<path d="M126.5 428.3L133 428.3" stroke="#000" stroke-width="3"/>
<text x="114" y="80.9" font-size="30.5" text-anchor="end">12</text>
<text x="114" y="170.4" font-size="30.5" text-anchor="end">9</text>
<text x="114" y="260" font-size="30.5" text-anchor="end">6</text>
<text x="114" y="349.6" font-size="30.5" text-anchor="end">3</text>
<text x="114" y="439.1" font-size="30.5" text-anchor="end">0</text>
<path d="M133 428L133 435" stroke="#000" stroke-width="3"/>
<path d="M222.8 428L222.8 435" stroke="#000" stroke-width="3"/>
<path d="M312 428L312 435" stroke="#000" stroke-width="3"/>
<path d="M401.2 428L401.2 435" stroke="#000" stroke-width="3"/>
<path d="M489.5 428L489.5 435" stroke="#000" stroke-width="3"/>
<text x="133.5" y="473.5" font-size="30.5" text-anchor="middle">–10</text>
<text x="219.4" y="473.5" font-size="30.5" text-anchor="middle">–5</text>
<text x="312" y="473.5" font-size="30.5" text-anchor="middle">0</text>
<text x="401.2" y="473.5" font-size="30.5" text-anchor="middle">5</text>
<text x="488.5" y="473.5" font-size="30.5" text-anchor="middle">10</text>
<text x="312" y="521" font-size="32" text-anchor="middle">Log<tspan dy="10.6" font-size="19.2">2</tspan><tspan dy="-10.6"> (fold change)</tspan></text>
<text font-size="31.6" text-anchor="middle" transform="translate(45 254.5) rotate(-90)">–Log<tspan dy="10.4" font-size="19">10</tspan><tspan dy="-10.4"> (p-value)</tspan></text>
<rect x="140" y="60" width="15.3" height="15.3" fill="#2d2db2"/>
<text x="169.7" y="64.8" font-size="22.4" >Down-</text>
<text x="169.7" y="92.1" font-size="22.4" >regulated</text>
<text x="169.7" y="119.4" font-size="22.4" >genes</text>
<rect x="333" y="60" width="15.3" height="15.3" fill="#b5c81c"/>
<text x="361" y="74" font-size="22.4" >Up-regulated</text>
<text x="361" y="101" font-size="22.4" >genes</text>
<rect x="604.5" y="69" width="6.5" height="58" fill="#090a01"/>
<rect x="610.5" y="69" width="6.5" height="58" fill="#040500"/>
<rect x="616.5" y="69" width="4.5" height="58" fill="#080901"/>
<rect x="620.5" y="69" width="3.5" height="58" fill="#040400"/>
<rect x="623.5" y="69" width="4.5" height="58" fill="#303307"/>
<rect x="627.5" y="69" width="1.6" height="58" fill="#303307"/>
<rect x="628.6" y="69" width="3.5" height="58" fill="#000000"/>
<rect x="631.6" y="69" width="7.8" height="58" fill="#0d0e02"/>
<rect x="638.9" y="69" width="8.5" height="58" fill="#1a1c04"/>
<rect x="646.9" y="69" width="2.4" height="58" fill="#181903"/>
<rect x="648.8" y="69" width="4.5" height="58" fill="#0b0c01"/>
<rect x="652.8" y="69" width="8.5" height="58" fill="#0f1002"/>
<rect x="660.8" y="69" width="6.5" height="58" fill="#0d0e02"/>
<rect x="666.8" y="69" width="8.5" height="58" fill="#0e0f02"/>
<rect x="674.8" y="69" width="1.8" height="58" fill="#070801"/>
<rect x="676.1" y="69" width="6.5" height="58" fill="#000003"/>
<rect x="682.1" y="69" width="1.6" height="58" fill="#010105"/>
<rect x="683.2" y="69" width="3.5" height="58" fill="#212305"/>
<rect x="686.2" y="69" width="4.5" height="58" fill="#1b1e04"/>
<rect x="690.2" y="69" width="8.5" height="58" fill="#1e2004"/>
<rect x="698.2" y="69" width="3.5" height="58" fill="#212405"/>
<rect x="701.2" y="69" width="2.3" height="58" fill="#242705"/>
<rect x="703" y="69" width="3.5" height="58" fill="#6a7110"/>
<rect x="706" y="69" width="3.5" height="58" fill="#585f0d"/>
<rect x="709" y="69" width="4.5" height="58" fill="#5c630e"/>
<rect x="713" y="69" width="6.5" height="58" fill="#6b7310"/>
<rect x="719" y="69" width="6.5" height="58" fill="#676e10"/>
<rect x="725" y="69" width="3.5" height="58" fill="#5b610e"/>
<rect x="728" y="69" width="8.3" height="58" fill="#4d520c"/>
<rect x="735.9" y="69" width="4.1" height="58" fill="#1a1b04"/>
<rect x="739.4" y="69" width="3.5" height="58" fill="#50560c"/>
<rect x="742.4" y="69" width="3.5" height="58" fill="#43480a"/>
<rect x="745.4" y="69" width="4.5" height="58" fill="#41460a"/>
<rect x="749.4" y="69" width="3.2" height="58" fill="#44490a"/>
<rect x="752.1" y="69" width="8.5" height="58" fill="#585e0d"/>
<rect x="760.1" y="69" width="4.5" height="58" fill="#545b0d"/>
<rect x="764.1" y="69" width="4.5" height="58" fill="#5b620e"/>
<rect x="768.1" y="69" width="0.7" height="58" fill="#585f0d"/>
<rect x="768.3" y="69" width="6.5" height="58" fill="#2f3207"/>
<rect x="774.3" y="69" width="5.6" height="58" fill="#303307"/>
<rect x="779.4" y="69" width="4.5" height="58" fill="#646c0f"/>
<rect x="783.4" y="69" width="4.5" height="58" fill="#4d530c"/>
<rect x="787.4" y="69" width="5.2" height="58" fill="#5e650e"/>
<rect x="792.1" y="69" width="4.5" height="58" fill="#a7b31a"/>
<rect x="796.1" y="69" width="6.5" height="58" fill="#919c16"/>
<rect x="802.1" y="69" width="5.5" height="58" fill="#9ca818"/>
<rect x="807.1" y="69" width="5.5" height="58" fill="#8b9515"/>
<rect x="812.1" y="69" width="4.5" height="58" fill="#8b9515"/>
<rect x="816.1" y="69" width="8.5" height="58" fill="#879115"/>
<rect x="824.1" y="69" width="0.9" height="58" fill="#858f15"/>
<rect x="824.5" y="69" width="8.5" height="58" fill="#494e0b"/>
<rect x="832.5" y="69" width="6.5" height="58" fill="#494e0b"/>
<rect x="838.5" y="69" width="4.7" height="58" fill="#43480a"/>
<rect x="842.7" y="69" width="4.5" height="58" fill="#838c14"/>
<rect x="846.7" y="69" width="8.5" height="58" fill="#7e8813"/>
<rect x="854.7" y="69" width="6.7" height="58" fill="#838d14"/>
<rect x="860.9" y="69" width="6.5" height="58" fill="#6f7711"/>
<rect x="866.9" y="69" width="1.6" height="58" fill="#61680f"/>
<rect x="868.1" y="69" width="3.5" height="58" fill="#879115"/>
<rect x="871.1" y="69" width="4.5" height="58" fill="#7b8513"/>
<rect x="875.1" y="69" width="6.5" height="58" fill="#707911"/>
<rect x="881.1" y="69" width="8.5" height="58" fill="#818a14"/>
<rect x="889.1" y="69" width="6.5" height="58" fill="#717a11"/>
<rect x="895.1" y="69" width="0.8" height="58" fill="#747c12"/>
<rect x="895.4" y="69" width="8.5" height="58" fill="#b9c71d"/>
<rect x="903.4" y="69" width="8.5" height="58" fill="#b7c51c"/>
<rect x="911.4" y="69" width="2.7" height="58" fill="#b3c11c"/>
<rect x="913.6" y="69" width="3.7" height="58" fill="#676f10"/>
<rect x="916.7" y="69" width="4.5" height="58" fill="#1b1b66"/>
<rect x="920.7" y="69" width="5.5" height="58" fill="#1d1d6f"/>
<rect x="925.7" y="69" width="4.5" height="58" fill="#19195f"/>
<rect x="929.7" y="69" width="3.5" height="58" fill="#1e1e72"/>
<rect x="932.7" y="69" width="2.7" height="58" fill="#171759"/>
<rect x="934.9" y="69" width="8.5" height="58" fill="#3030b6"/>
<rect x="942.9" y="69" width="4.5" height="58" fill="#3333bf"/>
<rect x="946.9" y="69" width="2.7" height="58" fill="#3131ba"/>
<rect x="949.2" y="69" width="3.5" height="58" fill="#15154f"/>
<rect x="952.2" y="69" width="3.5" height="58" fill="#151551"/>
<rect x="955.2" y="69" width="3.5" height="58" fill="#151551"/>
<rect x="958.2" y="69" width="5.5" height="58" fill="#18185d"/>
<rect x="963.2" y="69" width="3.5" height="58" fill="#0d0d34"/>
<rect x="966.2" y="69" width="6.5" height="58" fill="#161653"/>
<rect x="972.2" y="69" width="4.5" height="58" fill="#161653"/>
<rect x="976.2" y="69" width="5.5" height="58" fill="#171758"/>
<rect x="981.2" y="69" width="3.3" height="58" fill="#121246"/>
<rect x="984" y="69" width="3.5" height="58" fill="#03030b"/>
<rect x="987" y="69" width="6.5" height="58" fill="#04040f"/>
<rect x="993" y="69" width="0.6" height="58" fill="#03030e"/>
<rect x="993.1" y="69" width="3.5" height="58" fill="#19195f"/>
<rect x="996.1" y="69" width="3.5" height="58" fill="#18185b"/>
<rect x="999.1" y="69" width="5.5" height="58" fill="#18185b"/>
<rect x="1004.1" y="69" width="2.2" height="58" fill="#19195f"/>
<rect x="1005.8" y="69" width="8.5" height="58" fill="#3535c6"/>
<rect x="1013.8" y="69" width="3.2" height="58" fill="#3030b7"/>
<rect x="1016.4" y="69" width="3.5" height="58" fill="#19195f"/>
<rect x="1019.4" y="69" width="5.5" height="58" fill="#1f1f76"/>
<rect x="1024.4" y="69" width="4.5" height="58" fill="#20207b"/>
<rect x="1028.4" y="69" width="3.5" height="58" fill="#232384"/>
<rect x="1031.4" y="69" width="6.5" height="58" fill="#202078"/>
<rect x="1037.4" y="69" width="4.8" height="58" fill="#1c1c6b"/>
<rect x="1041.8" y="69" width="4.5" height="58" fill="#25258d"/>
<rect x="1045.8" y="69" width="4.5" height="58" fill="#26268f"/>
<rect x="1049.8" y="69" width="5.5" height="58" fill="#262690"/>
<rect x="1054.8" y="69" width="4.5" height="58" fill="#272794"/>
<rect x="1058.8" y="69" width="5.5" height="58" fill="#272792"/>
<rect x="1063.8" y="69" width="6.5" height="58" fill="#232385"/>
<rect x="1069.8" y="69" width="4.5" height="58" fill="#21217d"/>
<rect x="1073.8" y="69" width="8.5" height="58" fill="#25258b"/>
<rect x="1081.8" y="69" width="5.5" height="58" fill="#232386"/>
<rect x="1086.8" y="69" width="5.5" height="58" fill="#222280"/>
<rect x="1091.8" y="69" width="3.5" height="58" fill="#25258b"/>
<rect x="1094.8" y="69" width="5.5" height="58" fill="#2b2ba3"/>
<rect x="1099.8" y="69" width="4.5" height="58" fill="#232386"/>
<rect x="1103.8" y="69" width="4.5" height="58" fill="#21217d"/>
<rect x="1107.8" y="69" width="5.3" height="58" fill="#25258d"/>
<rect x="1112.6" y="69" width="5.5" height="58" fill="#14144d"/>
<rect x="1117.6" y="69" width="8.5" height="58" fill="#19195e"/>
<rect x="1125.6" y="69" width="6.5" height="58" fill="#18185b"/>
<rect x="1131.6" y="69" width="5.5" height="58" fill="#111143"/>
<rect x="1136.6" y="69" width="8.5" height="58" fill="#10103c"/>
<rect x="1144.6" y="69" width="4.9" height="58" fill="#121244"/>
<rect x="1149" y="69" width="8.5" height="58" fill="#010106"/>
<rect x="1157" y="69" width="3.5" height="58" fill="#03030b"/>
<rect x="1160" y="69" width="4.5" height="58" fill="#03030d"/>
<rect x="1164" y="69" width="3.5" height="58" fill="#02020a"/>
<rect x="1167" y="69" width="2.3" height="58" fill="#03030d"/>
<rect x="1168.8" y="69" width="3.5" height="58" fill="#18185b"/>
<rect x="1171.8" y="69" width="6.5" height="58" fill="#121246"/>
<rect x="1177.8" y="69" width="5.5" height="58" fill="#111140"/>
<rect x="1182.8" y="69" width="3.5" height="58" fill="#131347"/>
<rect x="1185.8" y="69" width="6.5" height="58" fill="#14144d"/>
<rect x="1191.8" y="69" width="5.5" height="58" fill="#131349"/>
<rect x="1196.8" y="69" width="6.5" height="58" fill="#131347"/>
<rect x="1202.8" y="69" width="8.5" height="58" fill="#131348"/>
<rect x="1210.8" y="69" width="5.5" height="58" fill="#14144d"/>
<rect x="1215.8" y="69" width="5.5" height="58" fill="#19195e"/>
<rect x="1220.8" y="69" width="3.1" height="58" fill="#161654"/>
<rect x="1223.4" y="69" width="6.5" height="58" fill="#202078"/>
<rect x="1229.4" y="69" width="4.5" height="58" fill="#171757"/>
<rect x="1233.4" y="69" width="6.5" height="58" fill="#161654"/>
<rect x="1239.4" y="69" width="4.3" height="58" fill="#1b1b66"/>
<rect x="604.5" y="126.6" width="3.5" height="58" fill="#5e650e"/>
<rect x="607.5" y="126.6" width="5.4" height="58" fill="#6c7411"/>
<rect x="612.4" y="126.6" width="6.5" height="58" fill="#3b3f09"/>
<rect x="618.4" y="126.6" width="5.5" height="58" fill="#42470a"/>
<rect x="623.4" y="126.6" width="0.6" height="58" fill="#43480a"/>
<rect x="623.5" y="126.6" width="3.5" height="58" fill="#aab71a"/>
<rect x="626.5" y="126.6" width="5.5" height="58" fill="#889215"/>
<rect x="631.5" y="126.6" width="5.5" height="58" fill="#8a9415"/>
<rect x="636.5" y="126.6" width="5.5" height="58" fill="#a0ac19"/>
<rect x="641.5" y="126.6" width="4.3" height="58" fill="#8b9616"/>
<rect x="645.3" y="126.6" width="5.5" height="58" fill="#656c0f"/>
<rect x="650.3" y="126.6" width="8.5" height="58" fill="#5e650e"/>
<rect x="658.3" y="126.6" width="3.5" height="58" fill="#676f10"/>
<rect x="661.3" y="126.6" width="0.7" height="58" fill="#687010"/>
<rect x="661.5" y="126.6" width="3.5" height="58" fill="#53590d"/>
<rect x="664.5" y="126.6" width="4.5" height="58" fill="#585f0d"/>
<rect x="668.5" y="126.6" width="6.5" height="58" fill="#5a600e"/>
<rect x="674.5" y="126.6" width="8.5" height="58" fill="#5c630e"/>
<rect x="682.5" y="126.6" width="2.8" height="58" fill="#5e650e"/>
<rect x="684.8" y="126.6" width="3.5" height="58" fill="#5f660f"/>
<rect x="687.8" y="126.6" width="8.5" height="58" fill="#565c0d"/>
<rect x="695.8" y="126.6" width="5.5" height="58" fill="#636a0f"/>
<rect x="700.8" y="126.6" width="4.5" height="58" fill="#565d0d"/>
<rect x="704.8" y="126.6" width="4.2" height="58" fill="#484d0b"/>
<rect x="708.6" y="126.6" width="5.5" height="58" fill="#474c0b"/>
<rect x="713.6" y="126.6" width="6.6" height="58" fill="#51570c"/>
<rect x="719.7" y="126.6" width="8.5" height="58" fill="#262906"/>
<rect x="727.7" y="126.6" width="8.5" height="58" fill="#1e2004"/>
<rect x="735.7" y="126.6" width="6.5" height="58" fill="#222405"/>
<rect x="741.7" y="126.6" width="3.8" height="58" fill="#1d2004"/>
<rect x="745" y="126.6" width="6.5" height="58" fill="#7b8413"/>
<rect x="751" y="126.6" width="8.5" height="58" fill="#6e7611"/>
<rect x="759" y="126.6" width="6.5" height="58" fill="#494e0b"/>
<rect x="765" y="126.6" width="3.5" height="58" fill="#50560c"/>
<rect x="768" y="126.6" width="0.8" height="58" fill="#60670f"/>
<rect x="768.3" y="126.6" width="8.5" height="58" fill="#6c7411"/>
<rect x="776.3" y="126.6" width="6.5" height="58" fill="#808914"/>
<rect x="782.3" y="126.6" width="5.5" height="58" fill="#818b14"/>
<rect x="787.3" y="126.6" width="5.2" height="58" fill="#8d9816"/>
<rect x="792.1" y="126.6" width="6.5" height="58" fill="#2a2d06"/>
<rect x="798.1" y="126.6" width="1.6" height="58" fill="#292c06"/>
<rect x="799.2" y="126.6" width="8.5" height="58" fill="#545b0d"/>
<rect x="807.2" y="126.6" width="3.5" height="58" fill="#4f550c"/>
<rect x="810.2" y="126.6" width="3.5" height="58" fill="#4f550c"/>
<rect x="813.2" y="126.6" width="5.5" height="58" fill="#52580c"/>
<rect x="818.2" y="126.6" width="1.7" height="58" fill="#4c520c"/>
<rect x="819.4" y="126.6" width="6.5" height="58" fill="#a0ac19"/>
<rect x="825.4" y="126.6" width="3.5" height="58" fill="#a4b119"/>
<rect x="828.4" y="126.6" width="0.6" height="58" fill="#909a16"/>
<rect x="828.5" y="126.6" width="8.5" height="58" fill="#676e10"/>
<rect x="836.5" y="126.6" width="6.5" height="58" fill="#687010"/>
<rect x="842.5" y="126.6" width="8.3" height="58" fill="#61680f"/>
<rect x="850.2" y="126.6" width="8.5" height="58" fill="#2d3007"/>
<rect x="858.2" y="126.6" width="8.5" height="58" fill="#2c2f06"/>
<rect x="866.2" y="126.6" width="6.3" height="58" fill="#2f3207"/>
<rect x="872" y="126.6" width="5.5" height="58" fill="#232605"/>
<rect x="877" y="126.6" width="5.5" height="58" fill="#1e2004"/>
<rect x="882" y="126.6" width="4.5" height="58" fill="#232605"/>
<rect x="886" y="126.6" width="2.7" height="58" fill="#353908"/>
<rect x="888.2" y="126.6" width="3.5" height="58" fill="#697110"/>
<rect x="891.2" y="126.6" width="5.5" height="58" fill="#5c620e"/>
<rect x="896.2" y="126.6" width="1.6" height="58" fill="#666d10"/>
<rect x="897.3" y="126.6" width="4.5" height="58" fill="#070801"/>
<rect x="901.3" y="126.6" width="6.5" height="58" fill="#050600"/>
<rect x="907.3" y="126.6" width="3.5" height="58" fill="#040500"/>
<rect x="910.3" y="126.6" width="4.5" height="58" fill="#060601"/>
<rect x="914.3" y="126.6" width="2.9" height="58" fill="#080901"/>
<rect x="916.7" y="126.6" width="5.5" height="58" fill="#0e0e37"/>
<rect x="921.7" y="126.6" width="8.5" height="58" fill="#0c0c2e"/>
<rect x="929.7" y="126.6" width="3.5" height="58" fill="#0f0f3b"/>
<rect x="932.7" y="126.6" width="6.5" height="58" fill="#10103d"/>
<rect x="938.7" y="126.6" width="8.5" height="58" fill="#10103f"/>
<rect x="946.7" y="126.6" width="2.9" height="58" fill="#14144b"/>
<rect x="949.2" y="126.6" width="4.5" height="58" fill="#19195e"/>
<rect x="953.2" y="126.6" width="4.5" height="58" fill="#18185a"/>
<rect x="957.2" y="126.6" width="4.5" height="58" fill="#121247"/>
<rect x="961.2" y="126.6" width="3.5" height="58" fill="#171758"/>
<rect x="964.2" y="126.6" width="8.5" height="58" fill="#121246"/>
<rect x="972.2" y="126.6" width="1.2" height="58" fill="#14144d"/>
<rect x="972.9" y="126.6" width="6.5" height="58" fill="#2b2ba3"/>
<rect x="978.9" y="126.6" width="6.5" height="58" fill="#2e2eb0"/>
<rect x="984.9" y="126.6" width="4.5" height="58" fill="#2c2ca5"/>
<rect x="988.9" y="126.6" width="2.7" height="58" fill="#2f2fb2"/>
<rect x="991.1" y="126.6" width="3.5" height="58" fill="#14144b"/>
<rect x="994.1" y="126.6" width="6.5" height="58" fill="#161655"/>
<rect x="1000.1" y="126.6" width="4.2" height="58" fill="#161655"/>
<rect x="1003.8" y="126.6" width="4.5" height="58" fill="#010106"/>
<rect x="1007.8" y="126.6" width="2" height="58" fill="#010104"/>
<rect x="1009.3" y="126.6" width="6.5" height="58" fill="#0c0c2e"/>
<rect x="1015.3" y="126.6" width="1.6" height="58" fill="#0e0e36"/>
<rect x="1016.4" y="126.6" width="5.5" height="58" fill="#1b1b67"/>
<rect x="1021.4" y="126.6" width="3.5" height="58" fill="#1d1d6e"/>
<rect x="1024.4" y="126.6" width="4.5" height="58" fill="#1a1a64"/>
<rect x="1028.4" y="126.6" width="5.5" height="58" fill="#1d1d6f"/>
<rect x="1033.4" y="126.6" width="8.5" height="58" fill="#1d1d6f"/>
<rect x="1041.4" y="126.6" width="4.5" height="58" fill="#20207a"/>
<rect x="1045.4" y="126.6" width="6.5" height="58" fill="#1c1c6b"/>
<rect x="1051.4" y="126.6" width="5.5" height="58" fill="#191961"/>
<rect x="1056.4" y="126.6" width="5.5" height="58" fill="#13134a"/>
<rect x="1061.4" y="126.6" width="8.5" height="58" fill="#121246"/>
<rect x="1069.4" y="126.6" width="3.7" height="58" fill="#131349"/>
<rect x="1072.6" y="126.6" width="8.5" height="58" fill="#18185d"/>
<rect x="1080.6" y="126.6" width="4.5" height="58" fill="#1d1d6d"/>
<rect x="1084.6" y="126.6" width="6.5" height="58" fill="#1c1c6a"/>
<rect x="1090.6" y="126.6" width="4.5" height="58" fill="#1d1d6d"/>
<rect x="1094.6" y="126.6" width="7.8" height="58" fill="#202079"/>
<rect x="1101.9" y="126.6" width="4.5" height="58" fill="#0e0e34"/>
<rect x="1105.9" y="126.6" width="5.5" height="58" fill="#111142"/>
<rect x="1110.9" y="126.6" width="2.2" height="58" fill="#0f0f3a"/>
<rect x="1112.6" y="126.6" width="5.5" height="58" fill="#1b1b67"/>
<rect x="1117.6" y="126.6" width="5.5" height="58" fill="#1b1b68"/>
<rect x="1122.6" y="126.6" width="8.5" height="58" fill="#18185d"/>
<rect x="1130.6" y="126.6" width="8.5" height="58" fill="#1d1d6d"/>
<rect x="1138.6" y="126.6" width="3.5" height="58" fill="#1a1a62"/>
<rect x="1141.6" y="126.6" width="6.5" height="58" fill="#1a1a63"/>
<rect x="1147.6" y="126.6" width="1.9" height="58" fill="#1b1b68"/>
<rect x="1149" y="126.6" width="6.5" height="58" fill="#2d2dab"/>
<rect x="1155" y="126.6" width="4.5" height="58" fill="#2e2eac"/>
<rect x="1159" y="126.6" width="6.5" height="58" fill="#222281"/>
<rect x="1165" y="126.6" width="4.3" height="58" fill="#24248a"/>
<rect x="1168.8" y="126.6" width="6.5" height="58" fill="#121245"/>
<rect x="1174.8" y="126.6" width="8.5" height="58" fill="#0f0f3a"/>
<rect x="1182.8" y="126.6" width="5.5" height="58" fill="#11113f"/>
<rect x="1187.8" y="126.6" width="5.5" height="58" fill="#0f0f38"/>
<rect x="1192.8" y="126.6" width="5.8" height="58" fill="#0c0c30"/>
<rect x="1198.1" y="126.6" width="5.5" height="58" fill="#111141"/>
<rect x="1203.1" y="126.6" width="8.5" height="58" fill="#121247"/>
<rect x="1211.1" y="126.6" width="3.5" height="58" fill="#151551"/>
<rect x="1214.1" y="126.6" width="2.3" height="58" fill="#161656"/>
<rect x="1215.9" y="126.6" width="6.5" height="58" fill="#1a1a64"/>
<rect x="1221.9" y="126.6" width="3.5" height="58" fill="#202078"/>
<rect x="1224.9" y="126.6" width="5.5" height="58" fill="#202078"/>
<rect x="1229.9" y="126.6" width="1.1" height="58" fill="#1d1d6e"/>
<rect x="1230.5" y="126.6" width="6.5" height="58" fill="#14144b"/>
<rect x="1236.5" y="126.6" width="3.5" height="58" fill="#0f0f3a"/>
<rect x="1239.5" y="126.6" width="4.2" height="58" fill="#0e0e36"/>
<rect x="604.5" y="184.1" width="6.5" height="58" fill="#adba1b"/>
<rect x="610.5" y="184.1" width="4.5" height="58" fill="#b4c11c"/>
<rect x="614.5" y="184.1" width="8.5" height="58" fill="#a0ac19"/>
<rect x="622.5" y="184.1" width="6.5" height="58" fill="#97a217"/>
<rect x="628.5" y="184.1" width="0.6" height="58" fill="#a6b21a"/>
<rect x="628.6" y="184.1" width="5.5" height="58" fill="#585e0d"/>
<rect x="633.6" y="184.1" width="6.5" height="58" fill="#565c0d"/>
<rect x="639.6" y="184.1" width="4.5" height="58" fill="#51570c"/>
<rect x="643.6" y="184.1" width="3.7" height="58" fill="#4b510b"/>
<rect x="646.8" y="184.1" width="5.5" height="58" fill="#7a8313"/>
<rect x="651.8" y="184.1" width="8.5" height="58" fill="#889215"/>
<rect x="659.8" y="184.1" width="5.5" height="58" fill="#858f15"/>
<rect x="664.8" y="184.1" width="4.5" height="58" fill="#8a9415"/>
<rect x="668.8" y="184.1" width="3.8" height="58" fill="#909b16"/>
<rect x="672.2" y="184.1" width="4.5" height="58" fill="#2d3007"/>
<rect x="676.1" y="184.1" width="8.5" height="58" fill="#798213"/>
<rect x="684.1" y="184.1" width="8.5" height="58" fill="#737c12"/>
<rect x="692.1" y="184.1" width="4.5" height="58" fill="#767f12"/>
<rect x="696.1" y="184.1" width="4.5" height="58" fill="#7b8413"/>
<rect x="700.1" y="184.1" width="4.5" height="58" fill="#6d7511"/>
<rect x="704.1" y="184.1" width="1.4" height="58" fill="#6b7310"/>
<rect x="705" y="184.1" width="4.1" height="58" fill="#2c3007"/>
<rect x="708.6" y="184.1" width="3.5" height="58" fill="#717911"/>
<rect x="711.6" y="184.1" width="3.5" height="58" fill="#767e12"/>
<rect x="714.6" y="184.1" width="4.5" height="58" fill="#61680f"/>
<rect x="718.6" y="184.1" width="5.5" height="58" fill="#636b0f"/>
<rect x="723.6" y="184.1" width="6.5" height="58" fill="#61690f"/>
<rect x="729.6" y="184.1" width="5.5" height="58" fill="#697110"/>
<rect x="734.6" y="184.1" width="1.8" height="58" fill="#6a7210"/>
<rect x="735.9" y="184.1" width="3.5" height="58" fill="#909a16"/>
<rect x="738.9" y="184.1" width="6.6" height="58" fill="#899415"/>
<rect x="745" y="184.1" width="6.5" height="58" fill="#5c630e"/>
<rect x="751" y="184.1" width="6.5" height="58" fill="#626a0f"/>
<rect x="757" y="184.1" width="4.5" height="58" fill="#5b610e"/>
<rect x="761" y="184.1" width="5.5" height="58" fill="#6d7511"/>
<rect x="766" y="184.1" width="4.8" height="58" fill="#788113"/>
<rect x="770.3" y="184.1" width="4.5" height="58" fill="#52580c"/>
<rect x="774.3" y="184.1" width="6.5" height="58" fill="#474c0b"/>
<rect x="780.3" y="184.1" width="1.2" height="58" fill="#41450a"/>
<rect x="781" y="184.1" width="3.5" height="58" fill="#1f2204"/>
<rect x="784" y="184.1" width="6.5" height="58" fill="#1a1c04"/>
<rect x="790" y="184.1" width="2.6" height="58" fill="#1b1d04"/>
<rect x="792.1" y="184.1" width="3.5" height="58" fill="#4b500b"/>
<rect x="795.1" y="184.1" width="5.5" height="58" fill="#474c0b"/>
<rect x="800.1" y="184.1" width="1.6" height="58" fill="#4e530c"/>
<rect x="801.2" y="184.1" width="5.5" height="58" fill="#141503"/>
<rect x="806.2" y="184.1" width="5.5" height="58" fill="#1b1d04"/>
<rect x="811.2" y="184.1" width="5.5" height="58" fill="#181a03"/>
<rect x="816.2" y="184.1" width="5.5" height="58" fill="#1e2004"/>
<rect x="821.2" y="184.1" width="5.8" height="58" fill="#191b04"/>
<rect x="826.5" y="184.1" width="5.5" height="58" fill="#272a06"/>
<rect x="831.5" y="184.1" width="6.5" height="58" fill="#1b1d04"/>
<rect x="837.5" y="184.1" width="5.7" height="58" fill="#282b06"/>
<rect x="842.7" y="184.1" width="8.5" height="58" fill="#5c630e"/>
<rect x="850.7" y="184.1" width="4.5" height="58" fill="#676f10"/>
<rect x="854.7" y="184.1" width="3.5" height="58" fill="#656c0f"/>
<rect x="857.7" y="184.1" width="2.1" height="58" fill="#565c0d"/>
<rect x="859.3" y="184.1" width="4.5" height="58" fill="#697110"/>
<rect x="863.3" y="184.1" width="6.5" height="58" fill="#646c0f"/>
<rect x="869.3" y="184.1" width="8.5" height="58" fill="#747d12"/>
<rect x="877.3" y="184.1" width="4.5" height="58" fill="#7e8713"/>
<rect x="881.3" y="184.1" width="1.8" height="58" fill="#7f8914"/>
<rect x="882.7" y="184.1" width="5.5" height="58" fill="#9da918"/>
<rect x="887.7" y="184.1" width="1" height="58" fill="#929d17"/>
<rect x="888.2" y="184.1" width="3.5" height="58" fill="#1a1c04"/>
<rect x="891.2" y="184.1" width="3" height="58" fill="#242705"/>
<rect x="893.8" y="184.1" width="8.5" height="58" fill="#0d0e02"/>
<rect x="901.8" y="184.1" width="3.5" height="58" fill="#0c0d01"/>
<rect x="904.8" y="184.1" width="5.5" height="58" fill="#101102"/>
<rect x="909.8" y="184.1" width="4.5" height="58" fill="#0f1102"/>
<rect x="913.8" y="184.1" width="3.5" height="58" fill="#0c0d01"/>
<rect x="916.7" y="184.1" width="4.5" height="58" fill="#121244"/>
<rect x="920.7" y="184.1" width="3.6" height="58" fill="#131347"/>
<rect x="923.9" y="184.1" width="5.5" height="58" fill="#1a1a65"/>
<rect x="928.9" y="184.1" width="5.5" height="58" fill="#1b1b66"/>
<rect x="933.9" y="184.1" width="3.2" height="58" fill="#1e1e73"/>
<rect x="936.5" y="184.1" width="3.5" height="58" fill="#111140"/>
<rect x="939.5" y="184.1" width="8.5" height="58" fill="#0e0e36"/>
<rect x="947.5" y="184.1" width="4.1" height="58" fill="#10103e"/>
<rect x="951.2" y="184.1" width="3.5" height="58" fill="#25258d"/>
<rect x="954.2" y="184.1" width="6.5" height="58" fill="#1f1f77"/>
<rect x="960.2" y="184.1" width="8.5" height="58" fill="#232383"/>
<rect x="968.2" y="184.1" width="5.3" height="58" fill="#242489"/>
<rect x="972.9" y="184.1" width="6.5" height="58" fill="#0f0f39"/>
<rect x="978.9" y="184.1" width="4.5" height="58" fill="#131347"/>
<rect x="982.9" y="184.1" width="4.5" height="58" fill="#0f0f3b"/>
<rect x="986.9" y="184.1" width="4.5" height="58" fill="#111140"/>
<rect x="990.9" y="184.1" width="5.5" height="58" fill="#10103e"/>
<rect x="995.9" y="184.1" width="1.2" height="58" fill="#0f0f38"/>
<rect x="996.7" y="184.1" width="6.5" height="58" fill="#202079"/>
<rect x="1002.7" y="184.1" width="5.5" height="58" fill="#242489"/>
<rect x="1007.7" y="184.1" width="2.2" height="58" fill="#282897"/>
<rect x="1009.3" y="184.1" width="3.5" height="58" fill="#121246"/>
<rect x="1012.3" y="184.1" width="6.5" height="58" fill="#0f0f3a"/>
<rect x="1018.3" y="184.1" width="2.2" height="58" fill="#10103e"/>
<rect x="1020" y="184.1" width="5.5" height="58" fill="#1c1c6c"/>
<rect x="1025" y="184.1" width="4.5" height="58" fill="#21217d"/>
<rect x="1029" y="184.1" width="6.5" height="58" fill="#21217d"/>
<rect x="1035" y="184.1" width="7.3" height="58" fill="#222282"/>
<rect x="1041.8" y="184.1" width="5.5" height="58" fill="#1a1a65"/>
<rect x="1046.8" y="184.1" width="5.5" height="58" fill="#14144e"/>
<rect x="1051.8" y="184.1" width="8.5" height="58" fill="#121246"/>
<rect x="1059.8" y="184.1" width="5.5" height="58" fill="#161653"/>
<rect x="1064.8" y="184.1" width="1.2" height="58" fill="#121244"/>
<rect x="1065.5" y="184.1" width="5.5" height="58" fill="#1f1f77"/>
<rect x="1070.5" y="184.1" width="3.5" height="58" fill="#20207b"/>
<rect x="1073.5" y="184.1" width="6.5" height="58" fill="#1b1b66"/>
<rect x="1079.5" y="184.1" width="1.1" height="58" fill="#1d1d6e"/>
<rect x="1080.2" y="184.1" width="6.5" height="58" fill="#0d0d33"/>
<rect x="1086.2" y="184.1" width="8.5" height="58" fill="#0d0d31"/>
<rect x="1094.2" y="184.1" width="2.7" height="58" fill="#111140"/>
<rect x="1096.4" y="184.1" width="3.5" height="58" fill="#1d1d6e"/>
<rect x="1099.4" y="184.1" width="6.5" height="58" fill="#19195f"/>
<rect x="1105.4" y="184.1" width="4.5" height="58" fill="#1c1c6a"/>
<rect x="1109.4" y="184.1" width="5.7" height="58" fill="#1c1c6c"/>
<rect x="1114.6" y="184.1" width="4.5" height="58" fill="#232385"/>
<rect x="1118.6" y="184.1" width="8.5" height="58" fill="#25258a"/>
<rect x="1126.6" y="184.1" width="4.5" height="58" fill="#2a2a9e"/>
<rect x="1130.6" y="184.1" width="5.5" height="58" fill="#2d2da9"/>
<rect x="1135.6" y="184.1" width="8.4" height="58" fill="#282897"/>
<rect x="1143.5" y="184.1" width="4.5" height="58" fill="#272793"/>
<rect x="1147.5" y="184.1" width="4.5" height="58" fill="#2a2aa0"/>
<rect x="1151.5" y="184.1" width="4.5" height="58" fill="#29299d"/>
<rect x="1155.5" y="184.1" width="6.7" height="58" fill="#2a2a9f"/>
<rect x="1161.7" y="184.1" width="6.5" height="58" fill="#21217c"/>
<rect x="1167.7" y="184.1" width="3.5" height="58" fill="#1f1f76"/>
<rect x="1170.7" y="184.1" width="7.7" height="58" fill="#242487"/>
<rect x="1177.9" y="184.1" width="6.5" height="58" fill="#161654"/>
<rect x="1183.9" y="184.1" width="4.5" height="58" fill="#171759"/>
<rect x="1187.9" y="184.1" width="6.5" height="58" fill="#1a1a61"/>
<rect x="1193.9" y="184.1" width="4.5" height="58" fill="#171757"/>
<rect x="1197.9" y="184.1" width="6.5" height="58" fill="#18185c"/>
<rect x="1203.9" y="184.1" width="4.5" height="58" fill="#121247"/>
<rect x="1207.9" y="184.1" width="5.5" height="58" fill="#1a1a61"/>
<rect x="1212.9" y="184.1" width="3.5" height="58" fill="#1d1d6d"/>
<rect x="1215.9" y="184.1" width="6.5" height="58" fill="#0e0e34"/>
<rect x="1221.9" y="184.1" width="3.5" height="58" fill="#0e0e37"/>
<rect x="1224.9" y="184.1" width="4.5" height="58" fill="#0d0d30"/>
<rect x="1228.9" y="184.1" width="6.5" height="58" fill="#0c0c2f"/>
<rect x="1234.9" y="184.1" width="3.5" height="58" fill="#0d0d34"/>
<rect x="1237.9" y="184.1" width="5.8" height="58" fill="#0e0e36"/>
<rect x="604.5" y="241.7" width="5.5" height="58" fill="#232386"/>
<rect x="609.5" y="241.7" width="1.4" height="58" fill="#1d1d6d"/>
<rect x="610.4" y="241.7" width="4.5" height="58" fill="#10103e"/>
<rect x="614.4" y="241.7" width="6.5" height="58" fill="#131347"/>
<rect x="620.4" y="241.7" width="8.5" height="58" fill="#131347"/>
<rect x="628.4" y="241.7" width="6.5" height="58" fill="#18185d"/>
<rect x="634.4" y="241.7" width="5.8" height="58" fill="#161652"/>
<rect x="639.7" y="241.7" width="4.5" height="58" fill="#0a0a28"/>
<rect x="643.7" y="241.7" width="5.5" height="58" fill="#090923"/>
<rect x="648.7" y="241.7" width="5.5" height="58" fill="#0c0c2d"/>
<rect x="653.7" y="241.7" width="5.5" height="58" fill="#0b0b2b"/>
<rect x="658.7" y="241.7" width="6.5" height="58" fill="#090925"/>
<rect x="664.7" y="241.7" width="4.5" height="58" fill="#0a0a26"/>
<rect x="668.7" y="241.7" width="8.5" height="58" fill="#07071d"/>
<rect x="676.7" y="241.7" width="3.5" height="58" fill="#07071c"/>
<rect x="679.7" y="241.7" width="6.5" height="58" fill="#10103e"/>
<rect x="685.7" y="241.7" width="8.5" height="58" fill="#121245"/>
<rect x="693.7" y="241.7" width="3.5" height="58" fill="#13134a"/>
<rect x="696.7" y="241.7" width="4.5" height="58" fill="#11113f"/>
<rect x="700.7" y="241.7" width="3.5" height="58" fill="#121245"/>
<rect x="703.7" y="241.7" width="5.5" height="58" fill="#10103f"/>
<rect x="708.7" y="241.7" width="8.5" height="58" fill="#131349"/>
<rect x="716.7" y="241.7" width="4.5" height="58" fill="#151551"/>
<rect x="720.7" y="241.7" width="6.5" height="58" fill="#171756"/>
<rect x="726.7" y="241.7" width="6.5" height="58" fill="#151551"/>
<rect x="732.7" y="241.7" width="3.5" height="58" fill="#121243"/>
<rect x="735.7" y="241.7" width="0.7" height="58" fill="#14144c"/>
<rect x="735.9" y="241.7" width="4.5" height="58" fill="#010104"/>
<rect x="739.9" y="241.7" width="2" height="58" fill="#010105"/>
<rect x="741.4" y="241.7" width="5.5" height="58" fill="#1a1a65"/>
<rect x="746.4" y="241.7" width="6.5" height="58" fill="#191961"/>
<rect x="752.4" y="241.7" width="8.5" height="58" fill="#1a1a61"/>
<rect x="760.4" y="241.7" width="5.5" height="58" fill="#1a1a63"/>
<rect x="765.4" y="241.7" width="8.5" height="58" fill="#21217c"/>
<rect x="773.4" y="241.7" width="4.5" height="58" fill="#1e1e72"/>
<rect x="777.4" y="241.7" width="5.5" height="58" fill="#191960"/>
<rect x="782.4" y="241.7" width="6.6" height="58" fill="#1b1b66"/>
<rect x="788.5" y="241.7" width="8.5" height="58" fill="#10103e"/>
<rect x="796.5" y="241.7" width="8.5" height="58" fill="#10103d"/>
<rect x="804.5" y="241.7" width="4.5" height="58" fill="#13134a"/>
<rect x="808.5" y="241.7" width="3.8" height="58" fill="#14144d"/>
<rect x="811.9" y="241.7" width="6.5" height="58" fill="#020208"/>
<rect x="817.9" y="241.7" width="3.6" height="58" fill="#02020a"/>
<rect x="821" y="241.7" width="3.5" height="58" fill="#10103e"/>
<rect x="824" y="241.7" width="6.5" height="58" fill="#131348"/>
<rect x="830" y="241.7" width="2.6" height="58" fill="#161655"/>
<rect x="832" y="241.7" width="4.5" height="58" fill="#272792"/>
<rect x="836" y="241.7" width="8.5" height="58" fill="#2c2ca5"/>
<rect x="844" y="241.7" width="3.5" height="58" fill="#2d2dab"/>
<rect x="847" y="241.7" width="5.5" height="58" fill="#2c2ca8"/>
<rect x="852" y="241.7" width="8.5" height="58" fill="#272793"/>
<rect x="860" y="241.7" width="3.5" height="58" fill="#242487"/>
<rect x="863" y="241.7" width="5.5" height="58" fill="#29299d"/>
<rect x="868" y="241.7" width="0.5" height="58" fill="#2d2daa"/>
<rect x="868.1" y="241.7" width="8.5" height="58" fill="#0f0f3a"/>
<rect x="876.1" y="241.7" width="7.1" height="58" fill="#0e0e38"/>
<rect x="882.7" y="241.7" width="6.5" height="58" fill="#19195e"/>
<rect x="888.7" y="241.7" width="4.5" height="58" fill="#131347"/>
<rect x="892.7" y="241.7" width="5.5" height="58" fill="#18185a"/>
<rect x="897.7" y="241.7" width="6.5" height="58" fill="#1f1f76"/>
<rect x="903.7" y="241.7" width="1.3" height="58" fill="#20207b"/>
<rect x="904.5" y="241.7" width="3.5" height="58" fill="#0f0f3b"/>
<rect x="907.5" y="241.7" width="3.5" height="58" fill="#0e0e35"/>
<rect x="910.5" y="241.7" width="4.5" height="58" fill="#10103d"/>
<rect x="914.5" y="241.7" width="2.8" height="58" fill="#10103d"/>
<rect x="916.7" y="241.7" width="5.5" height="58" fill="#6e7611"/>
<rect x="921.7" y="241.7" width="4.5" height="58" fill="#5d640e"/>
<rect x="925.7" y="241.7" width="3.5" height="58" fill="#5c630e"/>
<rect x="928.7" y="241.7" width="4.5" height="58" fill="#565c0d"/>
<rect x="932.7" y="241.7" width="0.7" height="58" fill="#636b0f"/>
<rect x="933" y="241.7" width="8.5" height="58" fill="#585f0d"/>
<rect x="941" y="241.7" width="8.5" height="58" fill="#5b620e"/>
<rect x="949" y="241.7" width="2.7" height="58" fill="#4b510b"/>
<rect x="951.2" y="241.7" width="6.5" height="58" fill="#899315"/>
<rect x="957.2" y="241.7" width="6.5" height="58" fill="#8f9916"/>
<rect x="963.2" y="241.7" width="8.5" height="58" fill="#909b16"/>
<rect x="971.2" y="241.7" width="2.3" height="58" fill="#828c14"/>
<rect x="972.9" y="241.7" width="3.5" height="58" fill="#646b0f"/>
<rect x="975.9" y="241.7" width="8.5" height="58" fill="#687010"/>
<rect x="983.9" y="241.7" width="6.5" height="58" fill="#656d10"/>
<rect x="989.9" y="241.7" width="1.7" height="58" fill="#585f0d"/>
<rect x="991.1" y="241.7" width="4.5" height="58" fill="#010100"/>
<rect x="995.1" y="241.7" width="3.5" height="58" fill="#040400"/>
<rect x="998.1" y="241.7" width="2.6" height="58" fill="#010100"/>
<rect x="1000.2" y="241.7" width="3.5" height="58" fill="#2d3107"/>
<rect x="1003.2" y="241.7" width="8.5" height="58" fill="#323607"/>
<rect x="1011.2" y="241.7" width="6.5" height="58" fill="#292c06"/>
<rect x="1017.2" y="241.7" width="1.7" height="58" fill="#3c4009"/>
<rect x="1018.4" y="241.7" width="5.5" height="58" fill="#40450a"/>
<rect x="1023.4" y="241.7" width="4.5" height="58" fill="#3d4209"/>
<rect x="1027.4" y="241.7" width="4.5" height="58" fill="#3e4209"/>
<rect x="1031.4" y="241.7" width="3.5" height="58" fill="#3c4109"/>
<rect x="1034.4" y="241.7" width="3.5" height="58" fill="#4e540c"/>
<rect x="1037.4" y="241.7" width="3.5" height="58" fill="#51570c"/>
<rect x="1040.4" y="241.7" width="5.4" height="58" fill="#42470a"/>
<rect x="1045.3" y="241.7" width="5.5" height="58" fill="#393d09"/>
<rect x="1050.3" y="241.7" width="5.5" height="58" fill="#40450a"/>
<rect x="1055.3" y="241.7" width="4.5" height="58" fill="#4b510b"/>
<rect x="1059.3" y="241.7" width="8.5" height="58" fill="#474c0b"/>
<rect x="1067.3" y="241.7" width="6.5" height="58" fill="#464b0b"/>
<rect x="1073.3" y="241.7" width="3.4" height="58" fill="#484d0b"/>
<rect x="1076.2" y="241.7" width="5.5" height="58" fill="#585e0d"/>
<rect x="1081.2" y="241.7" width="4.6" height="58" fill="#545b0d"/>
<rect x="1085.3" y="241.7" width="6.5" height="58" fill="#242705"/>
<rect x="1091.3" y="241.7" width="3.5" height="58" fill="#1f2104"/>
<rect x="1094.3" y="241.7" width="4.2" height="58" fill="#1b1d04"/>
<rect x="1098" y="241.7" width="6.5" height="58" fill="#171903"/>
<rect x="1104" y="241.7" width="8.5" height="58" fill="#111202"/>
<rect x="1112" y="241.7" width="4.5" height="58" fill="#0b0c01"/>
<rect x="1116" y="241.7" width="0.7" height="58" fill="#0b0c01"/>
<rect x="1116.2" y="241.7" width="5.5" height="58" fill="#252705"/>
<rect x="1121.2" y="241.7" width="5.5" height="58" fill="#2f3307"/>
<rect x="1126.2" y="241.7" width="3.2" height="58" fill="#252805"/>
<rect x="1128.8" y="241.7" width="6.5" height="58" fill="#585e0d"/>
<rect x="1134.8" y="241.7" width="6.5" height="58" fill="#555b0d"/>
<rect x="1140.8" y="241.7" width="1.2" height="58" fill="#51570c"/>
<rect x="1141.5" y="241.7" width="5.5" height="58" fill="#010104"/>
<rect x="1146.5" y="241.7" width="3" height="58" fill="#02020a"/>
<rect x="1149" y="241.7" width="5.5" height="58" fill="#333708"/>
<rect x="1154" y="241.7" width="8.2" height="58" fill="#2e3107"/>
<rect x="1161.7" y="241.7" width="4.5" height="58" fill="#1e2004"/>
<rect x="1165.7" y="241.7" width="5.5" height="58" fill="#222505"/>
<rect x="1170.7" y="241.7" width="4.5" height="58" fill="#1e2104"/>
<rect x="1174.7" y="241.7" width="3.7" height="58" fill="#252805"/>
<rect x="1177.9" y="241.7" width="6.5" height="58" fill="#000002"/>
<rect x="1183.9" y="241.7" width="7.2" height="58" fill="#010107"/>
<rect x="1190.6" y="241.7" width="3.5" height="58" fill="#191b04"/>
<rect x="1193.6" y="241.7" width="8.5" height="58" fill="#0e0f02"/>
<rect x="1201.6" y="241.7" width="2.2" height="58" fill="#0c0d01"/>
<rect x="1203.2" y="241.7" width="5.5" height="58" fill="#0e0f02"/>
<rect x="1208.2" y="241.7" width="4.5" height="58" fill="#0f1002"/>
<rect x="1212.2" y="241.7" width="0.6" height="58" fill="#131503"/>
<rect x="1212.3" y="241.7" width="4.5" height="58" fill="#2d3007"/>
<rect x="1216.3" y="241.7" width="3.5" height="58" fill="#1e2104"/>
<rect x="1219.3" y="241.7" width="4.6" height="58" fill="#1a1c04"/>
<rect x="1223.4" y="241.7" width="6.5" height="58" fill="#020200"/>
<rect x="1229.4" y="241.7" width="3.5" height="58" fill="#020200"/>
<rect x="1232.4" y="241.7" width="0.6" height="58" fill="#040500"/>
<rect x="1232.5" y="241.7" width="3.5" height="58" fill="#464b0b"/>
<rect x="1235.5" y="241.7" width="8.2" height="58" fill="#3f4309"/>
<rect x="604.5" y="299.2" width="4.1" height="58" fill="#080901"/>
<rect x="608.1" y="299.2" width="8.5" height="58" fill="#111140"/>
<rect x="616.1" y="299.2" width="4" height="58" fill="#111142"/>
<rect x="619.5" y="299.2" width="8" height="58" fill="#2a2a9d"/>
<rect x="627.1" y="299.2" width="4.5" height="58" fill="#131348"/>
<rect x="631.1" y="299.2" width="5.5" height="58" fill="#121245"/>
<rect x="636.1" y="299.2" width="2.2" height="58" fill="#10103f"/>
<rect x="637.7" y="299.2" width="4.5" height="58" fill="#222281"/>
<rect x="641.7" y="299.2" width="5.6" height="58" fill="#1f1f77"/>
<rect x="646.8" y="299.2" width="6.5" height="58" fill="#0a0a27"/>
<rect x="652.8" y="299.2" width="4.5" height="58" fill="#0b0b2c"/>
<rect x="656.8" y="299.2" width="8.5" height="58" fill="#090923"/>
<rect x="664.8" y="299.2" width="6.5" height="58" fill="#0a0a26"/>
<rect x="670.8" y="299.2" width="1.8" height="58" fill="#0c0c2d"/>
<rect x="672.2" y="299.2" width="3.5" height="58" fill="#000000"/>
<rect x="675.2" y="299.2" width="8.5" height="58" fill="#000001"/>
<rect x="683.2" y="299.2" width="8.5" height="58" fill="#03030d"/>
<rect x="691.2" y="299.2" width="8.5" height="58" fill="#03030e"/>
<rect x="699.2" y="299.2" width="4.5" height="58" fill="#010106"/>
<rect x="703.2" y="299.2" width="5.5" height="58" fill="#010107"/>
<rect x="708.2" y="299.2" width="0.9" height="58" fill="#020209"/>
<rect x="708.6" y="299.2" width="8.5" height="58" fill="#0f0f39"/>
<rect x="716.6" y="299.2" width="8.5" height="58" fill="#0c0c2f"/>
<rect x="724.6" y="299.2" width="4.5" height="58" fill="#0c0c2f"/>
<rect x="728.6" y="299.2" width="6.5" height="58" fill="#0a0a28"/>
<rect x="734.6" y="299.2" width="1.8" height="58" fill="#0a0a28"/>
<rect x="735.9" y="299.2" width="6.5" height="58" fill="#232385"/>
<rect x="741.9" y="299.2" width="3.5" height="58" fill="#1f1f75"/>
<rect x="744.9" y="299.2" width="4.5" height="58" fill="#232386"/>
<rect x="748.9" y="299.2" width="4.5" height="58" fill="#1f1f77"/>
<rect x="752.9" y="299.2" width="4.5" height="58" fill="#1f1f74"/>
<rect x="756.9" y="299.2" width="3.5" height="58" fill="#222280"/>
<rect x="759.9" y="299.2" width="3.5" height="58" fill="#1f1f75"/>
<rect x="762.9" y="299.2" width="4.5" height="58" fill="#18185b"/>
<rect x="766.9" y="299.2" width="3.5" height="58" fill="#1e1e71"/>
<rect x="769.9" y="299.2" width="6.5" height="58" fill="#1c1c6b"/>
<rect x="775.9" y="299.2" width="3.5" height="58" fill="#19195f"/>
<rect x="778.9" y="299.2" width="8.5" height="58" fill="#1d1d6e"/>
<rect x="786.9" y="299.2" width="2.1" height="58" fill="#1e1e72"/>
<rect x="788.5" y="299.2" width="4.5" height="58" fill="#161655"/>
<rect x="792.5" y="299.2" width="4.5" height="58" fill="#151552"/>
<rect x="796.5" y="299.2" width="5.5" height="58" fill="#18185b"/>
<rect x="801.5" y="299.2" width="3.7" height="58" fill="#111141"/>
<rect x="804.7" y="299.2" width="6" height="58" fill="#08081f"/>
<rect x="810.3" y="299.2" width="5.5" height="58" fill="#1c1c6a"/>
<rect x="815.3" y="299.2" width="8.5" height="58" fill="#1d1d6e"/>
<rect x="823.3" y="299.2" width="8.5" height="58" fill="#21217c"/>
<rect x="831.3" y="299.2" width="4.5" height="58" fill="#202078"/>
<rect x="835.3" y="299.2" width="0.8" height="58" fill="#1c1c69"/>
<rect x="835.6" y="299.2" width="4.5" height="58" fill="#29299c"/>
<rect x="839.6" y="299.2" width="6.5" height="58" fill="#2b2ba4"/>
<rect x="845.6" y="299.2" width="8.5" height="58" fill="#29299c"/>
<rect x="853.6" y="299.2" width="4.5" height="58" fill="#2d2dab"/>
<rect x="857.6" y="299.2" width="8.5" height="58" fill="#2b2ba3"/>
<rect x="865.6" y="299.2" width="6.5" height="58" fill="#2b2ba1"/>
<rect x="871.6" y="299.2" width="4.5" height="58" fill="#2e2eaf"/>
<rect x="875.6" y="299.2" width="6.5" height="58" fill="#1a1a63"/>
<rect x="881.6" y="299.2" width="4.5" height="58" fill="#1e1e74"/>
<rect x="885.6" y="299.2" width="3.5" height="58" fill="#1e1e71"/>
<rect x="888.6" y="299.2" width="5.5" height="58" fill="#1e1e73"/>
<rect x="893.6" y="299.2" width="3.5" height="58" fill="#1b1b68"/>
<rect x="896.6" y="299.2" width="8.5" height="58" fill="#1b1b67"/>
<rect x="904.6" y="299.2" width="3.9" height="58" fill="#1a1a62"/>
<rect x="908" y="299.2" width="4.5" height="58" fill="#121246"/>
<rect x="912" y="299.2" width="5.2" height="58" fill="#10103d"/>
<rect x="916.7" y="299.2" width="5.5" height="58" fill="#a8b41a"/>
<rect x="921.7" y="299.2" width="3.5" height="58" fill="#aab61a"/>
<rect x="924.7" y="299.2" width="3.5" height="58" fill="#b8c61d"/>
<rect x="927.7" y="299.2" width="5.7" height="58" fill="#a9b61a"/>
<rect x="933" y="299.2" width="5.5" height="58" fill="#8b9616"/>
<rect x="938" y="299.2" width="5.5" height="58" fill="#7f8914"/>
<rect x="943" y="299.2" width="3.5" height="58" fill="#6d7511"/>
<rect x="946" y="299.2" width="5.5" height="58" fill="#6d7511"/>
<rect x="951" y="299.2" width="2.7" height="58" fill="#788112"/>
<rect x="953.1" y="299.2" width="4.5" height="58" fill="#282a06"/>
<rect x="957.1" y="299.2" width="3.5" height="58" fill="#242705"/>
<rect x="960.1" y="299.2" width="0.6" height="58" fill="#272a06"/>
<rect x="960.3" y="299.2" width="8.5" height="58" fill="#42470a"/>
<rect x="968.3" y="299.2" width="5.5" height="58" fill="#41460a"/>
<rect x="973.3" y="299.2" width="3.7" height="58" fill="#4c520c"/>
<rect x="976.5" y="299.2" width="5.5" height="58" fill="#0e0f02"/>
<rect x="981.5" y="299.2" width="3" height="58" fill="#0a0b01"/>
<rect x="984" y="299.2" width="6.5" height="58" fill="#212405"/>
<rect x="990" y="299.2" width="1.6" height="58" fill="#272a06"/>
<rect x="991.1" y="299.2" width="4.5" height="58" fill="#a4b019"/>
<rect x="995.1" y="299.2" width="4.5" height="58" fill="#a1ad19"/>
<rect x="999.1" y="299.2" width="6.5" height="58" fill="#9eaa19"/>
<rect x="1005.1" y="299.2" width="1.1" height="58" fill="#afbc1b"/>
<rect x="1005.8" y="299.2" width="5.5" height="58" fill="#3a3e09"/>
<rect x="1010.8" y="299.2" width="4.5" height="58" fill="#383c08"/>
<rect x="1014.8" y="299.2" width="2.2" height="58" fill="#363a08"/>
<rect x="1016.4" y="299.2" width="5.5" height="58" fill="#707811"/>
<rect x="1021.4" y="299.2" width="3.5" height="58" fill="#838d14"/>
<rect x="1024.4" y="299.2" width="6.5" height="58" fill="#848d14"/>
<rect x="1030.4" y="299.2" width="6.5" height="58" fill="#838d14"/>
<rect x="1036.4" y="299.2" width="2.3" height="58" fill="#838c14"/>
<rect x="1038.2" y="299.2" width="5.5" height="58" fill="#636a0f"/>
<rect x="1043.2" y="299.2" width="4.5" height="58" fill="#778012"/>
<rect x="1047.2" y="299.2" width="6.5" height="58" fill="#6a7210"/>
<rect x="1053.2" y="299.2" width="4.5" height="58" fill="#5b620e"/>
<rect x="1057.2" y="299.2" width="3.3" height="58" fill="#666e10"/>
<rect x="1060" y="299.2" width="6.5" height="58" fill="#889215"/>
<rect x="1066" y="299.2" width="5.5" height="58" fill="#788112"/>
<rect x="1071" y="299.2" width="5.7" height="58" fill="#767e12"/>
<rect x="1076.2" y="299.2" width="6.5" height="58" fill="#7b8513"/>
<rect x="1082.2" y="299.2" width="3.6" height="58" fill="#798213"/>
<rect x="1085.3" y="299.2" width="8.5" height="58" fill="#363a08"/>
<rect x="1093.3" y="299.2" width="3.6" height="58" fill="#2c3007"/>
<rect x="1096.4" y="299.2" width="5.5" height="58" fill="#4e540c"/>
<rect x="1101.4" y="299.2" width="5.5" height="58" fill="#4d530c"/>
<rect x="1106.4" y="299.2" width="5.5" height="58" fill="#464b0b"/>
<rect x="1111.4" y="299.2" width="3.7" height="58" fill="#474c0b"/>
<rect x="1114.6" y="299.2" width="5.5" height="58" fill="#1a1c04"/>
<rect x="1119.6" y="299.2" width="0.6" height="58" fill="#262906"/>
<rect x="1119.7" y="299.2" width="4.5" height="58" fill="#494e0b"/>
<rect x="1123.7" y="299.2" width="5.6" height="58" fill="#3b4009"/>
<rect x="1128.8" y="299.2" width="3.5" height="58" fill="#1f2104"/>
<rect x="1131.8" y="299.2" width="5.5" height="58" fill="#292c06"/>
<rect x="1136.8" y="299.2" width="1.6" height="58" fill="#292d06"/>
<rect x="1137.9" y="299.2" width="3.5" height="58" fill="#50560c"/>
<rect x="1140.9" y="299.2" width="4.5" height="58" fill="#4a500b"/>
<rect x="1144.9" y="299.2" width="4.6" height="58" fill="#454a0a"/>
<rect x="1149" y="299.2" width="4.5" height="58" fill="#383c08"/>
<rect x="1153" y="299.2" width="8.5" height="58" fill="#353808"/>
<rect x="1161" y="299.2" width="1.2" height="58" fill="#363a08"/>
<rect x="1161.7" y="299.2" width="8.5" height="58" fill="#262805"/>
<rect x="1169.7" y="299.2" width="5.2" height="58" fill="#2d3007"/>
<rect x="1174.3" y="299.2" width="7.6" height="58" fill="#141503"/>
<rect x="1181.5" y="299.2" width="5.5" height="58" fill="#010104"/>
<rect x="1186.5" y="299.2" width="3.5" height="58" fill="#000003"/>
<rect x="1189.5" y="299.2" width="5.5" height="58" fill="#010104"/>
<rect x="1194.5" y="299.2" width="6.5" height="58" fill="#020208"/>
<rect x="1200.5" y="299.2" width="1.7" height="58" fill="#000100"/>
<rect x="1201.6" y="299.2" width="4.5" height="58" fill="#101102"/>
<rect x="1205.6" y="299.2" width="8.5" height="58" fill="#1a1c04"/>
<rect x="1213.6" y="299.2" width="5.5" height="58" fill="#141603"/>
<rect x="1218.6" y="299.2" width="5.3" height="58" fill="#181903"/>
<rect x="1223.4" y="299.2" width="5.5" height="58" fill="#1c1e04"/>
<rect x="1228.4" y="299.2" width="4.6" height="58" fill="#1b1d04"/>
<rect x="1232.5" y="299.2" width="4.5" height="58" fill="#000001"/>
<rect x="1236.5" y="299.2" width="3.5" height="58" fill="#03030d"/>
<rect x="1239.5" y="299.2" width="4.2" height="58" fill="#010105"/>
<rect x="604.5" y="356.8" width="6.5" height="58" fill="#171759"/>
<rect x="610.5" y="356.8" width="6.5" height="58" fill="#1a1a61"/>
<rect x="616.5" y="356.8" width="3.5" height="58" fill="#191960"/>
<rect x="619.5" y="356.8" width="8.5" height="58" fill="#232383"/>
<rect x="627.5" y="356.8" width="5.5" height="58" fill="#272795"/>
<rect x="632.5" y="356.8" width="5.5" height="58" fill="#282896"/>
<rect x="637.5" y="356.8" width="2.7" height="58" fill="#21217d"/>
<rect x="639.7" y="356.8" width="8.5" height="58" fill="#2c2ca8"/>
<rect x="647.7" y="356.8" width="4.5" height="58" fill="#3131bb"/>
<rect x="651.7" y="356.8" width="4.5" height="58" fill="#3131bb"/>
<rect x="655.7" y="356.8" width="8.5" height="58" fill="#3030b7"/>
<rect x="663.7" y="356.8" width="4.5" height="58" fill="#3232be"/>
<rect x="667.7" y="356.8" width="4.5" height="58" fill="#2f2fb2"/>
<rect x="671.7" y="356.8" width="0.9" height="58" fill="#2b2ba4"/>
<rect x="672.2" y="356.8" width="3.5" height="58" fill="#3a3adc"/>
<rect x="675.2" y="356.8" width="6.5" height="58" fill="#4040f0"/>
<rect x="681.2" y="356.8" width="4.5" height="58" fill="#4040f0"/>
<rect x="685.2" y="356.8" width="5.5" height="58" fill="#4040f0"/>
<rect x="690.2" y="356.8" width="4.3" height="58" fill="#4040f0"/>
<rect x="693.9" y="356.8" width="4.5" height="58" fill="#2e2eaf"/>
<rect x="697.9" y="356.8" width="3.5" height="58" fill="#29299c"/>
<rect x="700.9" y="356.8" width="3.5" height="58" fill="#24248a"/>
<rect x="703.9" y="356.8" width="4.5" height="58" fill="#2d2da9"/>
<rect x="707.9" y="356.8" width="3.5" height="58" fill="#2a2a9d"/>
<rect x="710.9" y="356.8" width="6.5" height="58" fill="#2e2ead"/>
<rect x="716.9" y="356.8" width="8.5" height="58" fill="#2e2eaf"/>
<rect x="724.9" y="356.8" width="6.5" height="58" fill="#2f2fb0"/>
<rect x="730.9" y="356.8" width="6.5" height="58" fill="#2e2eae"/>
<rect x="736.9" y="356.8" width="5.5" height="58" fill="#2e2eaf"/>
<rect x="741.9" y="356.8" width="6.5" height="58" fill="#2a2a9f"/>
<rect x="747.9" y="356.8" width="4.5" height="58" fill="#2b2ba1"/>
<rect x="751.9" y="356.8" width="4.5" height="58" fill="#2e2eae"/>
<rect x="755.9" y="356.8" width="3.8" height="58" fill="#3030b6"/>
<rect x="759.2" y="356.8" width="6.5" height="58" fill="#282899"/>
<rect x="765.2" y="356.8" width="5.5" height="58" fill="#2a2a9d"/>
<rect x="770.2" y="356.8" width="4.1" height="58" fill="#2d2daa"/>
<rect x="773.9" y="356.8" width="3.5" height="58" fill="#202078"/>
<rect x="776.9" y="356.8" width="5.5" height="58" fill="#1c1c69"/>
<rect x="781.9" y="356.8" width="6.5" height="58" fill="#1e1e74"/>
<rect x="787.9" y="356.8" width="4.7" height="58" fill="#1d1d6e"/>
<rect x="792.1" y="356.8" width="8.5" height="58" fill="#29299d"/>
<rect x="800.1" y="356.8" width="3.5" height="58" fill="#2c2ca7"/>
<rect x="803.1" y="356.8" width="5.5" height="58" fill="#2d2daa"/>
<rect x="808.1" y="356.8" width="3.5" height="58" fill="#2b2ba2"/>
<rect x="811.1" y="356.8" width="4.5" height="58" fill="#2d2da9"/>
<rect x="815.1" y="356.8" width="4.5" height="58" fill="#2a2aa0"/>
<rect x="819.1" y="356.8" width="3.5" height="58" fill="#2d2da9"/>
<rect x="822.1" y="356.8" width="6.5" height="58" fill="#3030b5"/>
<rect x="828.1" y="356.8" width="6.1" height="58" fill="#2b2ba4"/>
<rect x="833.6" y="356.8" width="8.5" height="58" fill="#000001"/>
<rect x="841.6" y="356.8" width="5.5" height="58" fill="#010106"/>
<rect x="846.6" y="356.8" width="4.5" height="58" fill="#030300"/>
<rect x="850.6" y="356.8" width="6.5" height="58" fill="#03030b"/>
<rect x="856.6" y="356.8" width="3.5" height="58" fill="#03030c"/>
<rect x="859.6" y="356.8" width="1.8" height="58" fill="#000001"/>
<rect x="860.9" y="356.8" width="7.6" height="58" fill="#212305"/>
<rect x="868.1" y="356.8" width="5.5" height="58" fill="#151551"/>
<rect x="873.1" y="356.8" width="3.5" height="58" fill="#171759"/>
<rect x="876.1" y="356.8" width="8.5" height="58" fill="#1e1e72"/>
<rect x="884.1" y="356.8" width="3.5" height="58" fill="#1a1a61"/>
<rect x="887.1" y="356.8" width="5.5" height="58" fill="#161654"/>
<rect x="892.1" y="356.8" width="4.5" height="58" fill="#18185b"/>
<rect x="896.1" y="356.8" width="6.5" height="58" fill="#1d1d6d"/>
<rect x="902.1" y="356.8" width="2.9" height="58" fill="#171759"/>
<rect x="904.5" y="356.8" width="6.5" height="58" fill="#222282"/>
<rect x="910.5" y="356.8" width="5.5" height="58" fill="#1f1f76"/>
<rect x="915.5" y="356.8" width="1.8" height="58" fill="#242488"/>
<rect x="916.7" y="356.8" width="6.5" height="58" fill="#0e0e34"/>
<rect x="922.7" y="356.8" width="1.6" height="58" fill="#0e0e37"/>
<rect x="923.9" y="356.8" width="5.5" height="58" fill="#050500"/>
<rect x="928.9" y="356.8" width="5.5" height="58" fill="#040400"/>
<rect x="933.9" y="356.8" width="5.5" height="58" fill="#0c0d01"/>
<rect x="938.9" y="356.8" width="2.1" height="58" fill="#0c0d01"/>
<rect x="940.5" y="356.8" width="4.5" height="58" fill="#1a1b04"/>
<rect x="944.5" y="356.8" width="4.5" height="58" fill="#191b04"/>
<rect x="948.5" y="356.8" width="3.2" height="58" fill="#171903"/>
<rect x="951.2" y="356.8" width="3.5" height="58" fill="#2b2f06"/>
<rect x="954.2" y="356.8" width="4.5" height="58" fill="#323607"/>
<rect x="958.2" y="356.8" width="2.6" height="58" fill="#363a08"/>
<rect x="960.3" y="356.8" width="3.5" height="58" fill="#131403"/>
<rect x="963.3" y="356.8" width="6.5" height="58" fill="#1a1c04"/>
<rect x="969.3" y="356.8" width="4.2" height="58" fill="#1a1c04"/>
<rect x="972.9" y="356.8" width="3.5" height="58" fill="#6a7210"/>
<rect x="975.9" y="356.8" width="8.5" height="58" fill="#7f8814"/>
<rect x="983.9" y="356.8" width="2.2" height="58" fill="#828b14"/>
<rect x="985.6" y="356.8" width="6.5" height="58" fill="#44490a"/>
<rect x="991.6" y="356.8" width="5.6" height="58" fill="#4c520c"/>
<rect x="996.7" y="356.8" width="5.5" height="58" fill="#242705"/>
<rect x="1001.7" y="356.8" width="2.6" height="58" fill="#272a06"/>
<rect x="1003.8" y="356.8" width="8.5" height="58" fill="#575d0d"/>
<rect x="1011.8" y="356.8" width="3.5" height="58" fill="#62690f"/>
<rect x="1014.8" y="356.8" width="2.2" height="58" fill="#687010"/>
<rect x="1016.4" y="356.8" width="8.5" height="58" fill="#353908"/>
<rect x="1024.4" y="356.8" width="7.1" height="58" fill="#313507"/>
<rect x="1031.1" y="356.8" width="6.5" height="58" fill="#44490a"/>
<rect x="1037.1" y="356.8" width="3.5" height="58" fill="#484e0b"/>
<rect x="1040.1" y="356.8" width="2.2" height="58" fill="#51570c"/>
<rect x="1041.8" y="356.8" width="6.5" height="58" fill="#50560c"/>
<rect x="1047.8" y="356.8" width="6.5" height="58" fill="#5f660f"/>
<rect x="1053.8" y="356.8" width="8.5" height="58" fill="#62690f"/>
<rect x="1061.8" y="356.8" width="0.7" height="58" fill="#6e7611"/>
<rect x="1062" y="356.8" width="8.5" height="58" fill="#60670f"/>
<rect x="1070" y="356.8" width="6.5" height="58" fill="#4b500b"/>
<rect x="1076" y="356.8" width="8.3" height="58" fill="#52580d"/>
<rect x="1083.7" y="356.8" width="8.5" height="58" fill="#99a518"/>
<rect x="1091.7" y="356.8" width="6.5" height="58" fill="#909b16"/>
<rect x="1097.7" y="356.8" width="8.5" height="58" fill="#98a318"/>
<rect x="1105.7" y="356.8" width="5.5" height="58" fill="#98a318"/>
<rect x="1110.7" y="356.8" width="8.5" height="58" fill="#9faa19"/>
<rect x="1118.7" y="356.8" width="6.5" height="58" fill="#b0bd1b"/>
<rect x="1124.7" y="356.8" width="6.5" height="58" fill="#a5b11a"/>
<rect x="1130.7" y="356.8" width="3.5" height="58" fill="#9aa618"/>
<rect x="1133.7" y="356.8" width="4.5" height="58" fill="#a8b51a"/>
<rect x="1137.7" y="356.8" width="3.5" height="58" fill="#9da918"/>
<rect x="1140.7" y="356.8" width="5.5" height="58" fill="#899415"/>
<rect x="1145.7" y="356.8" width="3.5" height="58" fill="#909a16"/>
<rect x="1148.7" y="356.8" width="0.8" height="58" fill="#939e17"/>
<rect x="1149" y="356.8" width="6.5" height="58" fill="#7f8814"/>
<rect x="1155" y="356.8" width="4.5" height="58" fill="#5e650e"/>
<rect x="1159" y="356.8" width="1.2" height="58" fill="#62690f"/>
<rect x="1159.7" y="356.8" width="4.5" height="58" fill="#9aa618"/>
<rect x="1163.7" y="356.8" width="3.5" height="58" fill="#abb81b"/>
<rect x="1166.7" y="356.8" width="6.5" height="58" fill="#b0bd1b"/>
<rect x="1172.7" y="356.8" width="4.1" height="58" fill="#b5c21c"/>
<rect x="1176.3" y="356.8" width="3.5" height="58" fill="#d7e721"/>
<rect x="1179.3" y="356.8" width="3.5" height="58" fill="#c7d51f"/>
<rect x="1182.3" y="356.8" width="4.5" height="58" fill="#d1e020"/>
<rect x="1186.3" y="356.8" width="5.5" height="58" fill="#cbdb20"/>
<rect x="1191.3" y="356.8" width="3.5" height="58" fill="#d8e822"/>
<rect x="1194.3" y="356.8" width="4.3" height="58" fill="#cede20"/>
<rect x="1198.1" y="356.8" width="4.5" height="58" fill="#b9c71d"/>
<rect x="1202.1" y="356.8" width="8.5" height="58" fill="#acb81b"/>
<rect x="1210.1" y="356.8" width="4.7" height="58" fill="#c4d21e"/>
<rect x="1214.3" y="356.8" width="3.5" height="58" fill="#a8b51a"/>
<rect x="1217.3" y="356.8" width="4.5" height="58" fill="#a2ae19"/>
<rect x="1221.3" y="356.8" width="4.5" height="58" fill="#a7b31a"/>
<rect x="1225.3" y="356.8" width="8.5" height="58" fill="#a5b11a"/>
<rect x="1233.3" y="356.8" width="3.5" height="58" fill="#a0ac19"/>
<rect x="1236.3" y="356.8" width="5.5" height="58" fill="#a2ae19"/>
<rect x="1241.3" y="356.8" width="2.4" height="58" fill="#95a017"/>
<text font-size="29.5" text-anchor="middle" transform="translate(592 159) rotate(-90)">PD-1 KO</text>
<text font-size="29.5" text-anchor="middle" transform="translate(592 331) rotate(-90)">WT</text>
<text x="907" y="458.5" font-size="32" text-anchor="middle"><tspan font-style="italic">Z</tspan>-score</text>
<defs><linearGradient id="zg"><stop offset="0" stop-color="#4242f2"/><stop offset="0.5" stop-color="#000"/><stop offset="1" stop-color="#d8e820"/></linearGradient></defs>
<rect x="715.5" y="472.3" width="390" height="32.4" fill="url(#zg)" stroke="#000" stroke-width="3"/>
<text x="729.5" y="540.5" font-size="31" text-anchor="middle">–2</text>
<text x="911.5" y="540.5" font-size="31" text-anchor="middle">0</text>
<text x="1093.5" y="540.5" font-size="31" text-anchor="middle">2</text>
</g>
<g>
<text x="1366" y="31" font-size="41.5" font-weight="bold">b</text>
<path d="M1477.2 418.7L1828.7 67.2L1844.3 67.2L1844.3 82.8L1492.8 434.3L1477.2 434.3Z" fill="#e4e4e4"/>
<path d="M1569 67.2L1569 434.3" stroke="#5a5a5a" stroke-width="1.4" stroke-dasharray="8 5.5"/>
<path d="M1477.2 342.5L1847.3 342.5" stroke="#5a5a5a" stroke-width="1.4" stroke-dasharray="8 5.5"/>
<path d="M1660.8 67.2L1660.8 434.3" stroke="#5a5a5a" stroke-width="1.4" stroke-dasharray="8 5.5"/>
<path d="M1477.2 250.7L1847.3 250.7" stroke="#5a5a5a" stroke-width="1.4" stroke-dasharray="8 5.5"/>
<path d="M1752.5 67.2L1752.5 434.3" stroke="#5a5a5a" stroke-width="1.4" stroke-dasharray="8 5.5"/>
<path d="M1477.2 159L1847.3 159" stroke="#5a5a5a" stroke-width="1.4" stroke-dasharray="8 5.5"/>
<path d="M1477.2 434.3L1844.3 67.2" stroke="#0a9a3c" stroke-width="3.6"/>
<path d="M1477.2 65.7L1477.2 435.9" stroke="#000" stroke-width="3.3"/>
<path d="M1475.6 434.3L1845.8 434.3" stroke="#000" stroke-width="3.3"/>
<path d="M1467.7 434.3L1477.2 434.3" stroke="#000" stroke-width="3"/>
<path d="M1477.2 434.3L1477.2 443.8" stroke="#000" stroke-width="3"/>
<path d="M1472.7 406.7L1477.2 406.7" stroke="#000" stroke-width="2.3"/>
<path d="M1504.8 434.3L1504.8 439.3" stroke="#000" stroke-width="2.3"/>
<path d="M1472.7 390.5L1477.2 390.5" stroke="#000" stroke-width="2.3"/>
<path d="M1521 434.3L1521 439.3" stroke="#000" stroke-width="2.3"/>
<path d="M1472.7 379L1477.2 379" stroke="#000" stroke-width="2.3"/>
<path d="M1532.5 434.3L1532.5 439.3" stroke="#000" stroke-width="2.3"/>
<path d="M1472.7 370.1L1477.2 370.1" stroke="#000" stroke-width="2.3"/>
<path d="M1541.4 434.3L1541.4 439.3" stroke="#000" stroke-width="2.3"/>
<path d="M1472.7 362.9L1477.2 362.9" stroke="#000" stroke-width="2.3"/>
<path d="M1548.6 434.3L1548.6 439.3" stroke="#000" stroke-width="2.3"/>
<path d="M1472.7 356.7L1477.2 356.7" stroke="#000" stroke-width="2.3"/>
<path d="M1554.8 434.3L1554.8 439.3" stroke="#000" stroke-width="2.3"/>
<path d="M1472.7 351.4L1477.2 351.4" stroke="#000" stroke-width="2.3"/>
<path d="M1560.1 434.3L1560.1 439.3" stroke="#000" stroke-width="2.3"/>
<path d="M1472.7 346.7L1477.2 346.7" stroke="#000" stroke-width="2.3"/>
<path d="M1564.8 434.3L1564.8 439.3" stroke="#000" stroke-width="2.3"/>
<path d="M1467.7 342.5L1477.2 342.5" stroke="#000" stroke-width="3"/>
<path d="M1569 434.3L1569 443.8" stroke="#000" stroke-width="3"/>
<path d="M1472.7 314.9L1477.2 314.9" stroke="#000" stroke-width="2.3"/>
<path d="M1596.6 434.3L1596.6 439.3" stroke="#000" stroke-width="2.3"/>
<path d="M1472.7 298.7L1477.2 298.7" stroke="#000" stroke-width="2.3"/>
<path d="M1612.8 434.3L1612.8 439.3" stroke="#000" stroke-width="2.3"/>
<path d="M1472.7 287.3L1477.2 287.3" stroke="#000" stroke-width="2.3"/>
<path d="M1624.2 434.3L1624.2 439.3" stroke="#000" stroke-width="2.3"/>
<path d="M1472.7 278.4L1477.2 278.4" stroke="#000" stroke-width="2.3"/>
<path d="M1633.1 434.3L1633.1 439.3" stroke="#000" stroke-width="2.3"/>
<path d="M1472.7 271.1L1477.2 271.1" stroke="#000" stroke-width="2.3"/>
<path d="M1640.4 434.3L1640.4 439.3" stroke="#000" stroke-width="2.3"/>
<path d="M1472.7 265L1477.2 265" stroke="#000" stroke-width="2.3"/>
<path d="M1646.5 434.3L1646.5 439.3" stroke="#000" stroke-width="2.3"/>
<path d="M1472.7 259.6L1477.2 259.6" stroke="#000" stroke-width="2.3"/>
<path d="M1651.9 434.3L1651.9 439.3" stroke="#000" stroke-width="2.3"/>
<path d="M1472.7 254.9L1477.2 254.9" stroke="#000" stroke-width="2.3"/>
<path d="M1656.6 434.3L1656.6 439.3" stroke="#000" stroke-width="2.3"/>
<path d="M1467.7 250.7L1477.2 250.7" stroke="#000" stroke-width="3"/>
<path d="M1660.8 434.3L1660.8 443.8" stroke="#000" stroke-width="3"/>
<path d="M1472.7 223.1L1477.2 223.1" stroke="#000" stroke-width="2.3"/>
<path d="M1688.4 434.3L1688.4 439.3" stroke="#000" stroke-width="2.3"/>
<path d="M1472.7 206.9L1477.2 206.9" stroke="#000" stroke-width="2.3"/>
<path d="M1704.6 434.3L1704.6 439.3" stroke="#000" stroke-width="2.3"/>
<path d="M1472.7 195.5L1477.2 195.5" stroke="#000" stroke-width="2.3"/>
<path d="M1716 434.3L1716 439.3" stroke="#000" stroke-width="2.3"/>
<path d="M1472.7 186.6L1477.2 186.6" stroke="#000" stroke-width="2.3"/>
<path d="M1724.9 434.3L1724.9 439.3" stroke="#000" stroke-width="2.3"/>
<path d="M1472.7 179.3L1477.2 179.3" stroke="#000" stroke-width="2.3"/>
<path d="M1732.2 434.3L1732.2 439.3" stroke="#000" stroke-width="2.3"/>
<path d="M1472.7 173.2L1477.2 173.2" stroke="#000" stroke-width="2.3"/>
<path d="M1738.3 434.3L1738.3 439.3" stroke="#000" stroke-width="2.3"/>
<path d="M1472.7 167.9L1477.2 167.9" stroke="#000" stroke-width="2.3"/>
<path d="M1743.6 434.3L1743.6 439.3" stroke="#000" stroke-width="2.3"/>
<path d="M1472.7 163.2L1477.2 163.2" stroke="#000" stroke-width="2.3"/>
<path d="M1748.3 434.3L1748.3 439.3" stroke="#000" stroke-width="2.3"/>
<path d="M1467.7 159L1477.2 159" stroke="#000" stroke-width="3"/>
<path d="M1752.5 434.3L1752.5 443.8" stroke="#000" stroke-width="3"/>
<path d="M1472.7 131.3L1477.2 131.3" stroke="#000" stroke-width="2.3"/>
<path d="M1780.2 434.3L1780.2 439.3" stroke="#000" stroke-width="2.3"/>
<path d="M1472.7 115.2L1477.2 115.2" stroke="#000" stroke-width="2.3"/>
<path d="M1796.3 434.3L1796.3 439.3" stroke="#000" stroke-width="2.3"/>
<path d="M1472.7 103.7L1477.2 103.7" stroke="#000" stroke-width="2.3"/>
<path d="M1807.8 434.3L1807.8 439.3" stroke="#000" stroke-width="2.3"/>
<path d="M1472.7 94.8L1477.2 94.8" stroke="#000" stroke-width="2.3"/>
<path d="M1816.7 434.3L1816.7 439.3" stroke="#000" stroke-width="2.3"/>
<path d="M1472.7 87.5L1477.2 87.5" stroke="#000" stroke-width="2.3"/>
<path d="M1824 434.3L1824 439.3" stroke="#000" stroke-width="2.3"/>
<path d="M1472.7 81.4L1477.2 81.4" stroke="#000" stroke-width="2.3"/>
<path d="M1830.1 434.3L1830.1 439.3" stroke="#000" stroke-width="2.3"/>
<path d="M1472.7 76.1L1477.2 76.1" stroke="#000" stroke-width="2.3"/>
<path d="M1835.4 434.3L1835.4 439.3" stroke="#000" stroke-width="2.3"/>
<path d="M1472.7 71.4L1477.2 71.4" stroke="#000" stroke-width="2.3"/>
<path d="M1840.1 434.3L1840.1 439.3" stroke="#000" stroke-width="2.3"/>
<path d="M1467.7 67.2L1477.2 67.2" stroke="#000" stroke-width="3"/>
<path d="M1844.3 434.3L1844.3 443.8" stroke="#000" stroke-width="3"/>
<text x="1450.2" y="445.6" font-size="32" text-anchor="end">1</text>
<text x="1477.2" y="483.8" font-size="32" text-anchor="middle">1</text>
<text x="1447.2" y="353.8" font-size="32" text-anchor="end">10</text>
<text x="1569" y="483.8" font-size="32" text-anchor="middle">10</text>
<text x="1452.2" y="262" font-size="32" text-anchor="end">10<tspan dy="-11.5" font-size="19.2">2</tspan></text>
<text x="1665.8" y="483.8" font-size="32" text-anchor="middle">10<tspan dy="-11.5" font-size="19.2">2</tspan></text>
<text x="1452.2" y="170.3" font-size="32" text-anchor="end">10<tspan dy="-11.5" font-size="19.2">3</tspan></text>
<text x="1757.5" y="483.8" font-size="32" text-anchor="middle">10<tspan dy="-11.5" font-size="19.2">3</tspan></text>
<text x="1452.2" y="78.5" font-size="32" text-anchor="end">10<tspan dy="-11.5" font-size="19.2">4</tspan></text>
<text x="1849.3" y="483.8" font-size="32" text-anchor="middle">10<tspan dy="-11.5" font-size="19.2">4</tspan></text>
<text x="1661" y="530.5" font-size="32.2" text-anchor="middle">Normalized WT counts</text>
<text font-size="32.1" text-anchor="middle" transform="translate(1385 251) rotate(-90)">Normalized PD-1 KO counts</text>
<circle cx="1507.9" cy="364.6" r="4.7" fill="#000"/>
<circle cx="1512.2" cy="344.4" r="4.7" fill="#000"/>
<circle cx="1537.5" cy="323.1" r="4.7" fill="#000"/>
<circle cx="1538.9" cy="348.7" r="4.7" fill="#000"/>
<circle cx="1553.7" cy="371.5" r="4.7" fill="#000"/>
<circle cx="1542.2" cy="387" r="4.7" fill="#000"/>
<circle cx="1558.4" cy="412.3" r="4.7" fill="#000"/>
<circle cx="1575" cy="357.4" r="4.7" fill="#000"/>
<circle cx="1594.5" cy="304" r="4.7" fill="#000"/>
<circle cx="1605.7" cy="313.7" r="4.7" fill="#000"/>
<circle cx="1638.9" cy="278" r="4.7" fill="#000"/>
<circle cx="1644" cy="287.7" r="4.7" fill="#000"/>
<circle cx="1663.1" cy="235.7" r="4.7" fill="#000"/>
<circle cx="1665.3" cy="257" r="4.7" fill="#000"/>
<circle cx="1679.4" cy="226.7" r="4.7" fill="#000"/>
<circle cx="1715.5" cy="211.9" r="4.7" fill="#000"/>
<circle cx="1717.6" cy="198.9" r="4.7" fill="#000"/>
<circle cx="1751.9" cy="149.1" r="4.7" fill="#000"/>
<circle cx="1774.3" cy="131.4" r="4.7" fill="#000"/>
<circle cx="1812.9" cy="68.6" r="4.7" fill="#e8212d"/>
<circle cx="1757.3" cy="123.1" r="4.7" fill="#e8212d"/>
<circle cx="1715.1" cy="169" r="4.7" fill="#e8212d"/>
<circle cx="1685.5" cy="197.5" r="4.7" fill="#e8212d"/>
<circle cx="1615.5" cy="257.4" r="4.7" fill="#e8212d"/>
<circle cx="1582.6" cy="288.8" r="4.7" fill="#ff3b14"/>
<circle cx="1654.1" cy="284.8" r="4.7" fill="#ff3b14"/>
<circle cx="1618" cy="330" r="4.7" fill="#ff3b14"/>
<text x="1777.9" y="74" font-size="25.5" font-style="italic">Il5</text>
<text x="1708.6" y="110.1" font-size="25.5" font-style="italic">Csf2</text>
<text x="1665.6" y="163.2" font-size="25.5" font-style="italic">Il13</text>
<text x="1649.7" y="201.1" font-size="25.5" font-style="italic">Il9</text>
<text x="1607.1" y="244.4" font-size="25.5" font-style="italic">Il6</text>
<text x="1553.7" y="276.5" font-size="25.5" font-style="italic">Il22</text>
<text x="1667.8" y="296" font-size="25.5" font-style="italic">Ccr7</text>
<text x="1594.9" y="363.9" font-size="25.5" font-style="italic">Il17rb</text>
</g>
<g>
<text x="5" y="621" font-size="41.5" font-weight="bold">c</text>
<rect x="160.1" y="820.7" width="68.5" height="157.2" fill="#fff" stroke="#000" stroke-width="2.9"/>
<rect x="265.4" y="749.3" width="68.5" height="228.6" fill="#088a08" stroke="#000" stroke-width="2.9"/>
<path d="M142.4 659.3L142.4 979.3" stroke="#000" stroke-width="2.8"/>
<path d="M132.8 978L352 978" stroke="#000" stroke-width="2.8"/>
<path d="M132.8 978L142.4 978" stroke="#000" stroke-width="2.8"/>
<text x="119.5" y="989.3" font-size="32" text-anchor="end">0</text>
<path d="M132.8 914.5L142.4 914.5" stroke="#000" stroke-width="2.8"/>
<text x="119.5" y="925.8" font-size="32" text-anchor="end">1</text>
<path d="M132.8 851L142.4 851" stroke="#000" stroke-width="2.8"/>
<text x="119.5" y="862.3" font-size="32" text-anchor="end">2</text>
<path d="M132.8 787.5L142.4 787.5" stroke="#000" stroke-width="2.8"/>
<text x="119.5" y="798.8" font-size="32" text-anchor="end">3</text>
<path d="M132.8 724.1L142.4 724.1" stroke="#000" stroke-width="2.8"/>
<text x="119.5" y="735.4" font-size="32" text-anchor="end">4</text>
<path d="M132.8 660.6L142.4 660.6" stroke="#000" stroke-width="2.8"/>
<text x="119.5" y="671.9" font-size="32" text-anchor="end">5</text>
<circle cx="194.6" cy="777.5" r="9.4" fill="#fdfdfd" stroke="#000" stroke-width="2.8"/>
<circle cx="173.3" cy="827.2" r="9.4" fill="#fdfdfd" stroke="#000" stroke-width="2.8"/>
<circle cx="215.9" cy="830.6" r="9.4" fill="#fdfdfd" stroke="#000" stroke-width="2.8"/>
<circle cx="194.2" cy="844.3" r="9.4" fill="#fdfdfd" stroke="#000" stroke-width="2.8"/>
<circle cx="285.2" cy="710.7" r="9.4" fill="#fdfdfd" stroke="#000" stroke-width="2.8"/>
<circle cx="313.6" cy="736.2" r="9.4" fill="#fdfdfd" stroke="#000" stroke-width="2.8"/>
<circle cx="313.6" cy="765" r="9.4" fill="#fdfdfd" stroke="#000" stroke-width="2.8"/>
<circle cx="285.2" cy="778.8" r="9.4" fill="#fdfdfd" stroke="#000" stroke-width="2.8"/>
<path d="M194.2 805.5V833.9M175.8 805.5H212.6M175.8 833.9H212.6" stroke="#000" stroke-width="2.8" stroke-linecap="round" fill="none"/>
<path d="M299.4 732.8V762.9M281 732.8H317.8M281 762.9H317.8" stroke="#000" stroke-width="2.8" stroke-linecap="round" fill="none"/>
<path d="M191.8 690.7L303.8 690.7" stroke="#000" stroke-width="2.8" stroke-linecap="round"/>
<text x="249.7" y="680.2" font-size="24.5" text-anchor="middle"><tspan font-style="italic">p</tspan> = 0.015</text>
<text font-size="32" text-anchor="middle" transform="translate(73.1 820.9) rotate(-90)">IL-5 (x10<tspan dy="-11.5" font-size="19.2">3</tspan><tspan dy="11.5"> pg mL</tspan><tspan dy="-11.5" font-size="19.2">–1</tspan><tspan dy="11.5">)</tspan></text>
<text x="404" y="621" font-size="41.5" font-weight="bold">d</text>
<rect x="536.4" y="907.2" width="70.2" height="73.7" fill="#fff" stroke="#000" stroke-width="2.9"/>
<rect x="645.8" y="803.6" width="70.2" height="177.3" fill="#088a08" stroke="#000" stroke-width="2.9"/>
<path d="M517.8 651.8L517.8 982.2" stroke="#000" stroke-width="2.8"/>
<path d="M508.2 980.9L735 980.9" stroke="#000" stroke-width="2.8"/>
<path d="M508.2 980.9L517.8 980.9" stroke="#000" stroke-width="2.8"/>
<text x="493.3" y="992.2" font-size="32" text-anchor="end">0</text>
<path d="M508.2 898.9L517.8 898.9" stroke="#000" stroke-width="2.8"/>
<text x="493.3" y="910.2" font-size="32" text-anchor="end">5</text>
<path d="M508.2 817L517.8 817" stroke="#000" stroke-width="2.8"/>
<text x="493.3" y="828.3" font-size="32" text-anchor="end">10</text>
<path d="M508.2 735L517.8 735" stroke="#000" stroke-width="2.8"/>
<text x="493.3" y="746.3" font-size="32" text-anchor="end">15</text>
<path d="M508.2 653.1L517.8 653.1" stroke="#000" stroke-width="2.8"/>
<text x="493.3" y="664.4" font-size="32" text-anchor="end">20</text>
<circle cx="571.7" cy="874.8" r="9.4" fill="#fdfdfd" stroke="#000" stroke-width="2.8"/>
<circle cx="549.5" cy="914.1" r="9.4" fill="#fdfdfd" stroke="#000" stroke-width="2.8"/>
<circle cx="571.7" cy="917.4" r="9.4" fill="#fdfdfd" stroke="#000" stroke-width="2.8"/>
<circle cx="593.8" cy="915.3" r="9.4" fill="#fdfdfd" stroke="#000" stroke-width="2.8"/>
<circle cx="680.7" cy="722.8" r="9.4" fill="#fdfdfd" stroke="#000" stroke-width="2.8"/>
<circle cx="658.1" cy="817.2" r="9.4" fill="#fdfdfd" stroke="#000" stroke-width="2.8"/>
<circle cx="702.8" cy="829.7" r="9.4" fill="#fdfdfd" stroke="#000" stroke-width="2.8"/>
<circle cx="680.7" cy="840.6" r="9.4" fill="#fdfdfd" stroke="#000" stroke-width="2.8"/>
<path d="M571.7 895.3V916.2M553.3 895.3H590.1M553.3 916.2H590.1" stroke="#000" stroke-width="2.8" stroke-linecap="round" fill="none"/>
<path d="M681.1 775V829.3M662.7 775H699.5M662.7 829.3H699.5" stroke="#000" stroke-width="2.8" stroke-linecap="round" fill="none"/>
<path d="M569.8 690.7L681.3 690.7" stroke="#000" stroke-width="2.8" stroke-linecap="round"/>
<text x="629.7" y="681.1" font-size="24.5" text-anchor="middle"><tspan font-style="italic">p</tspan> = 0.0117</text>
<text font-size="32" text-anchor="middle" transform="translate(428 819.3) rotate(-90)">IL-13 (x10<tspan dy="-11.5" font-size="19.2">2</tspan><tspan dy="11.5"> pg mL</tspan><tspan dy="-11.5" font-size="19.2">–1</tspan><tspan dy="11.5">)</tspan></text>
<text x="789" y="621" font-size="41.5" font-weight="bold">e</text>
<rect x="904.8" y="883.2" width="71.8" height="93.6" fill="#fff" stroke="#000" stroke-width="2.9"/>
<rect x="1016.1" y="761.7" width="72.2" height="215" fill="#088a08" stroke="#000" stroke-width="2.9"/>
<path d="M885.2 651.6L885.2 978" stroke="#000" stroke-width="2.8"/>
<path d="M875.4 976.7L1107.9 976.7" stroke="#000" stroke-width="2.8"/>
<path d="M875.4 976.7L885.2 976.7" stroke="#000" stroke-width="2.8"/>
<text x="862.5" y="988" font-size="32" text-anchor="end">0</text>
<path d="M875.4 895.8L885.2 895.8" stroke="#000" stroke-width="2.8"/>
<text x="862.5" y="907.1" font-size="32" text-anchor="end">1</text>
<path d="M875.4 814.8L885.2 814.8" stroke="#000" stroke-width="2.8"/>
<text x="862.5" y="826.1" font-size="32" text-anchor="end">2</text>
<path d="M875.4 733.8L885.2 733.8" stroke="#000" stroke-width="2.8"/>
<text x="862.5" y="745.1" font-size="32" text-anchor="end">3</text>
<path d="M875.4 652.9L885.2 652.9" stroke="#000" stroke-width="2.8"/>
<text x="862.5" y="664.2" font-size="32" text-anchor="end">4</text>
<circle cx="925.1" cy="879.2" r="9.4" fill="#fdfdfd" stroke="#000" stroke-width="2.8"/>
<circle cx="955.2" cy="876.6" r="9.4" fill="#fdfdfd" stroke="#000" stroke-width="2.8"/>
<circle cx="931.6" cy="887.2" r="9.4" fill="#fdfdfd" stroke="#000" stroke-width="2.8"/>
<circle cx="949.8" cy="883.9" r="9.4" fill="#fdfdfd" stroke="#000" stroke-width="2.8"/>
<circle cx="1066.5" cy="717.8" r="9.4" fill="#fdfdfd" stroke="#000" stroke-width="2.8"/>
<circle cx="1036.8" cy="739.6" r="9.4" fill="#fdfdfd" stroke="#000" stroke-width="2.8"/>
<circle cx="1051.7" cy="775.8" r="9.4" fill="#fdfdfd" stroke="#000" stroke-width="2.8"/>
<circle cx="1051.7" cy="808.5" r="9.4" fill="#fdfdfd" stroke="#000" stroke-width="2.8"/>
<path d="M940.7 878.4V885M924.7 878.4H956.7M924.7 885H956.7" stroke="#000" stroke-width="2.8" stroke-linecap="round" fill="none"/>
<path d="M1052 739.6V780.2M1033 739.6H1071M1033 780.2H1071" stroke="#000" stroke-width="2.8" stroke-linecap="round" fill="none"/>
<path d="M935.9 691.3L1047.4 691.3" stroke="#000" stroke-width="2.8" stroke-linecap="round"/>
<text x="991.5" y="682.3" font-size="24.5" text-anchor="middle"><tspan font-style="italic">p</tspan> = 0.0009</text>
<text font-size="32" text-anchor="middle" transform="translate(812 815.7) rotate(-90)">IL-9 (x10<tspan dy="-11.5" font-size="19.2">2</tspan><tspan dy="11.5"> pg mL</tspan><tspan dy="-11.5" font-size="19.2">–1</tspan><tspan dy="11.5">)</tspan></text>
<rect x="559.7" y="1020" width="381" height="44" fill="#fff" stroke="#333" stroke-width="1.2"/>
<rect x="569.5" y="1027.5" width="48" height="28.5" fill="#fdfdfd" stroke="#000" stroke-width="2.6"/>
<rect x="744.7" y="1027.5" width="48" height="28.5" fill="#088a08" stroke="#000" stroke-width="2.6"/>
<text x="631.5" y="1052.5" font-size="32" >WT</text>
<text x="806.5" y="1055.5" font-size="32" >PD-1 KO</text>
</g>
<g>
<text x="1213" y="621" font-size="41.5" font-weight="bold">f</text>
<path d="M1303.4 642L1303.4 962.9" stroke="#000" stroke-width="2.8"/>
<path d="M1291.3 961.6L1514.4 961.6" stroke="#000" stroke-width="2.8"/>
<path d="M1291.3 961.6L1303.4 961.6" stroke="#000" stroke-width="2.8"/>
<text x="1278.8" y="972.9" font-size="32" text-anchor="end">0</text>
<path d="M1291.3 855.5L1303.4 855.5" stroke="#000" stroke-width="2.8"/>
<text x="1278.8" y="866.8" font-size="32" text-anchor="end">1</text>
<path d="M1291.3 749.4L1303.4 749.4" stroke="#000" stroke-width="2.8"/>
<text x="1278.8" y="760.7" font-size="32" text-anchor="end">2</text>
<path d="M1291.3 643.3L1303.4 643.3" stroke="#000" stroke-width="2.8"/>
<text x="1278.8" y="654.6" font-size="32" text-anchor="end">3</text>
<path d="M1356 961.6L1356 972.6" stroke="#000" stroke-width="2.8"/>
<path d="M1461.5 961.6L1461.5 972.6" stroke="#000" stroke-width="2.8"/>
<path d="M1356 659.9L1461.5 826.9" stroke="#000" stroke-width="2.9"/>
<path d="M1356 678.8L1461.5 786.5" stroke="#000" stroke-width="2.9"/>
<path d="M1356 696.9L1461.5 826.9" stroke="#000" stroke-width="2.9"/>
<path d="M1356 694.2L1461.5 805.8" stroke="#000" stroke-width="2.9"/>
<path d="M1356 742.5L1461.5 782" stroke="#000" stroke-width="2.9"/>
<path d="M1356 765.4L1461.5 850.7" stroke="#000" stroke-width="2.9"/>
<path d="M1356 770.8L1461.5 862.8" stroke="#000" stroke-width="2.9"/>
<circle cx="1356" cy="659.9" r="9" fill="#fdfdfd" stroke="#000" stroke-width="2.9"/>
<circle cx="1356" cy="678.8" r="9" fill="#fdfdfd" stroke="#000" stroke-width="2.9"/>
<circle cx="1356" cy="696.9" r="9" fill="#fdfdfd" stroke="#000" stroke-width="2.9"/>
<circle cx="1356" cy="694.2" r="9" fill="#fdfdfd" stroke="#000" stroke-width="2.9"/>
<circle cx="1356" cy="742.5" r="9" fill="#fdfdfd" stroke="#000" stroke-width="2.9"/>
<circle cx="1356" cy="765.4" r="9" fill="#fdfdfd" stroke="#000" stroke-width="2.9"/>
<circle cx="1356" cy="770.8" r="9" fill="#fdfdfd" stroke="#000" stroke-width="2.9"/>
<circle cx="1461.5" cy="782" r="9" fill="#ff2e12" stroke="#000" stroke-width="2.9"/>
<circle cx="1461.5" cy="786.5" r="9" fill="#ff2e12" stroke="#000" stroke-width="2.9"/>
<circle cx="1461.5" cy="805.8" r="9" fill="#ff2e12" stroke="#000" stroke-width="2.9"/>
<circle cx="1461.5" cy="826.9" r="9" fill="#ff2e12" stroke="#000" stroke-width="2.9"/>
<circle cx="1461.5" cy="850.7" r="9" fill="#ff2e12" stroke="#000" stroke-width="2.9"/>
<circle cx="1461.5" cy="862.8" r="9" fill="#ff2e12" stroke="#000" stroke-width="2.9"/>
<path d="M1380.8 641.9L1464.9 641.9" stroke="#000" stroke-width="2.8" stroke-linecap="round"/>
<text x="1426" y="629.8" font-size="24.5" text-anchor="middle"><tspan font-style="italic">p</tspan> = 0.0003</text>
<text font-size="32" text-anchor="middle" transform="translate(1233 802.2) rotate(-90)">IL-5 (x10<tspan dy="-11.5" font-size="19.2">3</tspan><tspan dy="11.5"> pg mL</tspan><tspan dy="-11.5" font-size="19.2">–1</tspan><tspan dy="11.5">)</tspan></text>
<text font-size="32" text-anchor="end" transform="translate(1373.9 996.6) rotate(-45)">Control</text>
<text font-size="32" text-anchor="end" transform="translate(1474 996.6) rotate(-45)">PD-L2 Fc</text>
<text x="1577" y="621" font-size="41.5" font-weight="bold">g</text>
<path d="M1673.8 638.4L1673.8 963.3" stroke="#000" stroke-width="2.8"/>
<path d="M1661.7 962L1887.9 962" stroke="#000" stroke-width="2.8"/>
<path d="M1661.7 962L1673.8 962" stroke="#000" stroke-width="2.8"/>
<text x="1649.1" y="973.3" font-size="32" text-anchor="end">0</text>
<path d="M1661.7 854.6L1673.8 854.6" stroke="#000" stroke-width="2.8"/>
<text x="1649.1" y="865.9" font-size="32" text-anchor="end">2</text>
<path d="M1661.7 747.1L1673.8 747.1" stroke="#000" stroke-width="2.8"/>
<text x="1649.1" y="758.4" font-size="32" text-anchor="end">4</text>
<path d="M1661.7 639.7L1673.8 639.7" stroke="#000" stroke-width="2.8"/>
<text x="1649.1" y="651" font-size="32" text-anchor="end">6</text>
<path d="M1726.3 962L1726.3 973" stroke="#000" stroke-width="2.8"/>
<path d="M1833.6 962L1833.6 973" stroke="#000" stroke-width="2.8"/>
<path d="M1726.3 680.6L1833.6 826" stroke="#000" stroke-width="2.9"/>
<path d="M1726.3 708.8L1833.6 807.1" stroke="#000" stroke-width="2.9"/>
<path d="M1726.3 742.5L1833.6 849.8" stroke="#000" stroke-width="2.9"/>
<path d="M1726.3 759.6L1833.6 851.1" stroke="#000" stroke-width="2.9"/>
<path d="M1726.3 768.5L1833.6 857.9" stroke="#000" stroke-width="2.9"/>
<path d="M1726.3 786.5L1833.6 892" stroke="#000" stroke-width="2.9"/>
<path d="M1726.3 803.5L1833.6 878.5" stroke="#000" stroke-width="2.9"/>
<circle cx="1726.3" cy="680.6" r="9" fill="#fdfdfd" stroke="#000" stroke-width="2.9"/>
<circle cx="1726.3" cy="708.8" r="9" fill="#fdfdfd" stroke="#000" stroke-width="2.9"/>
<circle cx="1726.3" cy="742.5" r="9" fill="#fdfdfd" stroke="#000" stroke-width="2.9"/>
<circle cx="1726.3" cy="759.6" r="9" fill="#fdfdfd" stroke="#000" stroke-width="2.9"/>
<circle cx="1726.3" cy="768.5" r="9" fill="#fdfdfd" stroke="#000" stroke-width="2.9"/>
<circle cx="1726.3" cy="786.5" r="9" fill="#fdfdfd" stroke="#000" stroke-width="2.9"/>
<circle cx="1726.3" cy="803.5" r="9" fill="#fdfdfd" stroke="#000" stroke-width="2.9"/>
<circle cx="1833.6" cy="807.1" r="9" fill="#ff2e12" stroke="#000" stroke-width="2.9"/>
<circle cx="1833.6" cy="826" r="9" fill="#ff2e12" stroke="#000" stroke-width="2.9"/>
<circle cx="1833.6" cy="857.9" r="9" fill="#ff2e12" stroke="#000" stroke-width="2.9"/>
<circle cx="1833.6" cy="849.8" r="9" fill="#ff2e12" stroke="#000" stroke-width="2.9"/>
<circle cx="1833.6" cy="892" r="9" fill="#ff2e12" stroke="#000" stroke-width="2.9"/>
<circle cx="1833.6" cy="878.5" r="9" fill="#ff2e12" stroke="#000" stroke-width="2.9"/>
<path d="M1746.6 663.9L1830.8 663.9" stroke="#000" stroke-width="2.8" stroke-linecap="round"/>
<text x="1789.6" y="652.3" font-size="24.5" text-anchor="middle"><tspan font-style="italic">p</tspan> = 0.0002</text>
<text font-size="32" text-anchor="middle" transform="translate(1600.6 803.1) rotate(-90)">IL-13 (x10<tspan dy="-11.5" font-size="19.2">2</tspan><tspan dy="11.5"> pg mL</tspan><tspan dy="-11.5" font-size="19.2">–1</tspan><tspan dy="11.5">)</tspan></text>
<text font-size="32" text-anchor="end" transform="translate(1744.3 996.6) rotate(-45)">Control</text>
<text font-size="32" text-anchor="end" transform="translate(1845.3 996.6) rotate(-45)">PD-L2 Fc</text>
</g>
<g>
<text x="3.9" y="1173" font-size="41.5" font-weight="bold">h</text>
<rect x="152.8" y="1393.6" width="53" height="151" fill="#fff" stroke="#000" stroke-width="2.9"/>
<rect x="234.6" y="1273.9" width="53.5" height="270.7" fill="#fff" stroke="#000" stroke-width="2.9"/>
<rect x="316.4" y="1316.6" width="53" height="228" fill="#088a08" stroke="#000" stroke-width="2.9"/>
<rect x="397.9" y="1333.5" width="53.3" height="211.1" fill="#088a08" stroke="#000" stroke-width="2.9"/>
<path d="M138.7 1216.3L138.7 1545.9" stroke="#000" stroke-width="2.8"/>
<path d="M128.2 1544.6L464.2 1544.6" stroke="#000" stroke-width="2.8"/>
<path d="M128.2 1544.6L138.7 1544.6" stroke="#000" stroke-width="2.8"/>
<text x="120.3" y="1555.9" font-size="32" text-anchor="end">0</text>
<path d="M128.2 1462.8L138.7 1462.8" stroke="#000" stroke-width="2.8"/>
<text x="120.3" y="1474.1" font-size="32" text-anchor="end">5</text>
<path d="M128.2 1381.1L138.7 1381.1" stroke="#000" stroke-width="2.8"/>
<text x="120.3" y="1392.4" font-size="32" text-anchor="end">10</text>
<path d="M128.2 1299.3L138.7 1299.3" stroke="#000" stroke-width="2.8"/>
<text x="120.3" y="1310.6" font-size="32" text-anchor="end">15</text>
<path d="M128.2 1217.6L138.7 1217.6" stroke="#000" stroke-width="2.8"/>
<text x="120.3" y="1228.9" font-size="32" text-anchor="end">20</text>
<path d="M179.9 1544.6L179.9 1555.6" stroke="#000" stroke-width="2.8"/>
<path d="M262.2 1544.6L262.2 1555.6" stroke="#000" stroke-width="2.8"/>
<path d="M343.4 1544.6L343.4 1555.6" stroke="#000" stroke-width="2.8"/>
<path d="M425.2 1544.6L425.2 1555.6" stroke="#000" stroke-width="2.8"/>
<path d="M179.9 1383.2V1400.6M166.9 1383.2H192.9M166.9 1400.6H192.9" stroke="#000" stroke-width="2.8" stroke-linecap="round" fill="none"/>
<path d="M262.2 1261.9V1283M249.2 1261.9H275.2M249.2 1283H275.2" stroke="#000" stroke-width="2.8" stroke-linecap="round" fill="none"/>
<path d="M343.4 1305.7V1324.1M330.4 1305.7H356.4M330.4 1324.1H356.4" stroke="#000" stroke-width="2.8" stroke-linecap="round" fill="none"/>
<path d="M425.2 1320.9V1342.6M412.2 1320.9H438.2M412.2 1342.6H438.2" stroke="#000" stroke-width="2.8" stroke-linecap="round" fill="none"/>
<circle cx="166.7" cy="1371.6" r="9.2" fill="#fdfdfd" stroke="#000" stroke-width="2.7"/>
<circle cx="206.8" cy="1383.2" r="9.2" fill="#fdfdfd" stroke="#000" stroke-width="2.7"/>
<circle cx="193.1" cy="1399" r="9.2" fill="#fdfdfd" stroke="#000" stroke-width="2.7"/>
<circle cx="166.7" cy="1416.4" r="9.2" fill="#fdfdfd" stroke="#000" stroke-width="2.7"/>
<circle cx="248.4" cy="1252.9" r="9.2" fill="#fdfdfd" stroke="#000" stroke-width="2.7"/>
<circle cx="288" cy="1256.6" r="9.2" fill="#fdfdfd" stroke="#000" stroke-width="2.7"/>
<circle cx="274.8" cy="1284" r="9.2" fill="#fdfdfd" stroke="#000" stroke-width="2.7"/>
<circle cx="248.4" cy="1297.7" r="9.2" fill="#fdfdfd" stroke="#000" stroke-width="2.7"/>
<circle cx="343.4" cy="1286.7" r="9.2" fill="#fdfdfd" stroke="#000" stroke-width="2.7"/>
<circle cx="330.2" cy="1318.8" r="9.2" fill="#fdfdfd" stroke="#000" stroke-width="2.7"/>
<circle cx="356.1" cy="1322.5" r="9.2" fill="#fdfdfd" stroke="#000" stroke-width="2.7"/>
<circle cx="343.4" cy="1328.9" r="9.2" fill="#fdfdfd" stroke="#000" stroke-width="2.7"/>
<circle cx="411.4" cy="1309.3" r="9.2" fill="#fdfdfd" stroke="#000" stroke-width="2.7"/>
<circle cx="438.9" cy="1317.3" r="9.2" fill="#fdfdfd" stroke="#000" stroke-width="2.7"/>
<circle cx="438.9" cy="1345.2" r="9.2" fill="#fdfdfd" stroke="#000" stroke-width="2.7"/>
<circle cx="411.4" cy="1354.2" r="9.2" fill="#fdfdfd" stroke="#000" stroke-width="2.7"/>
<path d="M180.3 1191.7L347.1 1191.7" stroke="#000" stroke-width="2.8" stroke-linecap="round"/>
<text x="269" y="1181.7" font-size="24.5" text-anchor="middle"><tspan font-style="italic">p</tspan> = 0.001</text>
<path d="M176.7 1230.7L262.7 1230.7" stroke="#000" stroke-width="2.8" stroke-linecap="round"/>
<text x="228.4" y="1221.3" font-size="24.5" text-anchor="middle"><tspan font-style="italic">p</tspan> &lt; 0.0001</text>
<text font-size="32" text-anchor="middle" transform="translate(48.5 1383.2) rotate(-90)">GATA-3 MFI (x10<tspan dy="-11.5" font-size="19.2">3</tspan><tspan dy="11.5">)</tspan></text>
<text x="57" y="1595.2" font-size="32" >αPD-1</text>
<text x="179.9" y="1595.2" font-size="32" text-anchor="middle">–</text>
<text x="262.2" y="1595.2" font-size="32" text-anchor="middle">+</text>
<text x="343.4" y="1595.2" font-size="32" text-anchor="middle">–</text>
<text x="425.2" y="1595.2" font-size="32" text-anchor="middle">+</text>
<text x="532" y="1173" font-size="41.5" font-weight="bold">i</text>
<rect x="645.7" y="1482.2" width="53.1" height="62.4" fill="#fff" stroke="#000" stroke-width="2.9"/>
<rect x="725.7" y="1394.1" width="53" height="150.5" fill="#fff" stroke="#000" stroke-width="2.9"/>
<rect x="806" y="1363.5" width="52.3" height="181.1" fill="#088a08" stroke="#000" stroke-width="2.9"/>
<rect x="885.5" y="1372.5" width="52.5" height="172.1" fill="#088a08" stroke="#000" stroke-width="2.9"/>
<path d="M631.9 1224.7L631.9 1545.9" stroke="#000" stroke-width="2.8"/>
<path d="M621.4 1544.6L952.1 1544.6" stroke="#000" stroke-width="2.8"/>
<path d="M621.4 1544.6L631.9 1544.6" stroke="#000" stroke-width="2.8"/>
<text x="611.9" y="1555.9" font-size="32" text-anchor="end">0</text>
<path d="M621.4 1465L631.9 1465" stroke="#000" stroke-width="2.8"/>
<text x="611.9" y="1476.3" font-size="32" text-anchor="end">2</text>
<path d="M621.4 1385.3L631.9 1385.3" stroke="#000" stroke-width="2.8"/>
<text x="611.9" y="1396.6" font-size="32" text-anchor="end">4</text>
<path d="M621.4 1305.7L631.9 1305.7" stroke="#000" stroke-width="2.8"/>
<text x="611.9" y="1317" font-size="32" text-anchor="end">6</text>
<path d="M621.4 1226L631.9 1226" stroke="#000" stroke-width="2.8"/>
<text x="611.9" y="1237.3" font-size="32" text-anchor="end">8</text>
<path d="M672.5 1544.6L672.5 1555.6" stroke="#000" stroke-width="2.8"/>
<path d="M752.7 1544.6L752.7 1555.6" stroke="#000" stroke-width="2.8"/>
<path d="M832.4 1544.6L832.4 1555.6" stroke="#000" stroke-width="2.8"/>
<path d="M912.5 1544.6L912.5 1555.6" stroke="#000" stroke-width="2.8"/>
<path d="M672.5 1472.9V1489.7M659.5 1472.9H685.5M659.5 1489.7H685.5" stroke="#000" stroke-width="2.8" stroke-linecap="round" fill="none"/>
<path d="M752.7 1377.9V1408M739.7 1377.9H765.7M739.7 1408H765.7" stroke="#000" stroke-width="2.8" stroke-linecap="round" fill="none"/>
<path d="M832.4 1346.3V1377.9M819.4 1346.3H845.4M819.4 1377.9H845.4" stroke="#000" stroke-width="2.8" stroke-linecap="round" fill="none"/>
<path d="M912.5 1356.8V1385.8M899.5 1356.8H925.5M899.5 1385.8H925.5" stroke="#000" stroke-width="2.8" stroke-linecap="round" fill="none"/>
<circle cx="659.4" cy="1453.3" r="9.2" fill="#fdfdfd" stroke="#000" stroke-width="2.7"/>
<circle cx="685.7" cy="1459.7" r="9.2" fill="#fdfdfd" stroke="#000" stroke-width="2.7"/>
<circle cx="685.7" cy="1479.7" r="9.2" fill="#fdfdfd" stroke="#000" stroke-width="2.7"/>
<circle cx="659.4" cy="1488.7" r="9.2" fill="#fdfdfd" stroke="#000" stroke-width="2.7"/>
<circle cx="665.7" cy="1502.9" r="9.2" fill="#fdfdfd" stroke="#000" stroke-width="2.7"/>
<circle cx="679.4" cy="1502.9" r="9.2" fill="#fdfdfd" stroke="#000" stroke-width="2.7"/>
<circle cx="753.2" cy="1327.8" r="9.2" fill="#fdfdfd" stroke="#000" stroke-width="2.7"/>
<circle cx="738.5" cy="1377.9" r="9.2" fill="#fdfdfd" stroke="#000" stroke-width="2.7"/>
<circle cx="765.9" cy="1398" r="9.2" fill="#fdfdfd" stroke="#000" stroke-width="2.7"/>
<circle cx="738.5" cy="1403.2" r="9.2" fill="#fdfdfd" stroke="#000" stroke-width="2.7"/>
<circle cx="765.9" cy="1416.4" r="9.2" fill="#fdfdfd" stroke="#000" stroke-width="2.7"/>
<circle cx="753.2" cy="1431.7" r="9.2" fill="#fdfdfd" stroke="#000" stroke-width="2.7"/>
<circle cx="819.2" cy="1310.4" r="9.2" fill="#fdfdfd" stroke="#000" stroke-width="2.7"/>
<circle cx="845.6" cy="1316.2" r="9.2" fill="#fdfdfd" stroke="#000" stroke-width="2.7"/>
<circle cx="845.6" cy="1372.6" r="9.2" fill="#fdfdfd" stroke="#000" stroke-width="2.7"/>
<circle cx="819.2" cy="1384.8" r="9.2" fill="#fdfdfd" stroke="#000" stroke-width="2.7"/>
<circle cx="838.7" cy="1388.5" r="9.2" fill="#fdfdfd" stroke="#000" stroke-width="2.7"/>
<circle cx="826.6" cy="1401.7" r="9.2" fill="#fdfdfd" stroke="#000" stroke-width="2.7"/>
<circle cx="898.3" cy="1317.3" r="9.2" fill="#fdfdfd" stroke="#000" stroke-width="2.7"/>
<circle cx="925.2" cy="1339.4" r="9.2" fill="#fdfdfd" stroke="#000" stroke-width="2.7"/>
<circle cx="898.3" cy="1382.1" r="9.2" fill="#fdfdfd" stroke="#000" stroke-width="2.7"/>
<circle cx="925.2" cy="1377.9" r="9.2" fill="#fdfdfd" stroke="#000" stroke-width="2.7"/>
<circle cx="917.8" cy="1401.7" r="9.2" fill="#fdfdfd" stroke="#000" stroke-width="2.7"/>
<circle cx="905.2" cy="1408" r="9.2" fill="#fdfdfd" stroke="#000" stroke-width="2.7"/>
<path d="M667.2 1259.8L835.1 1259.8" stroke="#000" stroke-width="2.8" stroke-linecap="round"/>
<text x="754.3" y="1248.7" font-size="24.5" text-anchor="middle"><tspan font-style="italic">p</tspan> &lt; 0.0001</text>
<path d="M667.2 1304.1L755.4 1304.1" stroke="#000" stroke-width="2.8" stroke-linecap="round"/>
<text x="714.7" y="1294.6" font-size="24.5" text-anchor="middle"><tspan font-style="italic">p</tspan> = 0.001</text>
<text font-size="32" text-anchor="middle" transform="translate(550.2 1387.4) rotate(-90)">IL-5 (x10<tspan dy="-11.5" font-size="19.2">3</tspan><tspan dy="11.5"> pg mL</tspan><tspan dy="-11.5" font-size="19.2">–1</tspan><tspan dy="11.5">)</tspan></text>
<text x="548.6" y="1595.2" font-size="32" >αPD-1</text>
<text x="672.5" y="1595.2" font-size="32" text-anchor="middle">–</text>
<text x="752.7" y="1595.2" font-size="32" text-anchor="middle">+</text>
<text x="832.4" y="1595.2" font-size="32" text-anchor="middle">–</text>
<text x="912.5" y="1595.2" font-size="32" text-anchor="middle">+</text>
</g>
<g>
<text x="988" y="1173" font-size="41.5" font-weight="bold">j</text>
<rect x="1094.7" y="1199.2" width="58.4" height="35.5" fill="#111105"/>
<rect x="1152.7" y="1199.2" width="58.4" height="35.5" fill="#6b7a14"/>
<rect x="1210.8" y="1199.2" width="58.4" height="35.5" fill="#86951a"/>
<rect x="1268.8" y="1199.2" width="58.4" height="35.5" fill="#3f3fe8"/>
<rect x="1326.8" y="1199.2" width="58.4" height="35.5" fill="#0d0d2e"/>
<rect x="1384.8" y="1199.2" width="58.4" height="35.5" fill="#000000"/>
<rect x="1094.7" y="1234.3" width="58.4" height="35.5" fill="#737f14"/>
<rect x="1152.7" y="1234.3" width="58.4" height="35.5" fill="#3f470c"/>
<rect x="1210.8" y="1234.3" width="58.4" height="35.5" fill="#8f9e18"/>
<rect x="1268.8" y="1234.3" width="58.4" height="35.5" fill="#19195e"/>
<rect x="1326.8" y="1234.3" width="58.4" height="35.5" fill="#19195e"/>
<rect x="1384.8" y="1234.3" width="58.4" height="35.5" fill="#2d2db0"/>
<rect x="1094.7" y="1269.4" width="58.4" height="35.5" fill="#86951a"/>
<rect x="1152.7" y="1269.4" width="58.4" height="35.5" fill="#9bab1a"/>
<rect x="1210.8" y="1269.4" width="58.4" height="35.5" fill="#0a0a02"/>
<rect x="1268.8" y="1269.4" width="58.4" height="35.5" fill="#3030b0"/>
<rect x="1326.8" y="1269.4" width="58.4" height="35.5" fill="#191955"/>
<rect x="1384.8" y="1269.4" width="58.4" height="35.5" fill="#161648"/>
<rect x="1094.7" y="1304.4" width="58.4" height="35.5" fill="#7b8a16"/>
<rect x="1152.7" y="1304.4" width="58.4" height="35.5" fill="#555e10"/>
<rect x="1210.8" y="1304.4" width="58.4" height="35.5" fill="#6b7814"/>
<rect x="1268.8" y="1304.4" width="58.4" height="35.5" fill="#27278c"/>
<rect x="1326.8" y="1304.4" width="58.4" height="35.5" fill="#3333c0"/>
<rect x="1384.8" y="1304.4" width="58.4" height="35.5" fill="#04040f"/>
<rect x="1094.7" y="1339.5" width="58.4" height="35.5" fill="#3333c8"/>
<rect x="1152.7" y="1339.5" width="58.4" height="35.5" fill="#111140"/>
<rect x="1210.8" y="1339.5" width="58.4" height="35.5" fill="#0f0f38"/>
<rect x="1268.8" y="1339.5" width="58.4" height="35.5" fill="#191908"/>
<rect x="1326.8" y="1339.5" width="58.4" height="35.5" fill="#3f470c"/>
<rect x="1384.8" y="1339.5" width="58.4" height="35.5" fill="#bccb1f"/>
<rect x="1094.7" y="1374.6" width="58.4" height="35.5" fill="#3333c0"/>
<rect x="1152.7" y="1374.6" width="58.4" height="35.5" fill="#1a1a5c"/>
<rect x="1210.8" y="1374.6" width="58.4" height="35.5" fill="#06061a"/>
<rect x="1268.8" y="1374.6" width="58.4" height="35.5" fill="#04040f"/>
<rect x="1326.8" y="1374.6" width="58.4" height="35.5" fill="#5c6612"/>
<rect x="1384.8" y="1374.6" width="58.4" height="35.5" fill="#bccb1f"/>
<rect x="1094.7" y="1409.6" width="58.4" height="35.5" fill="#19195a"/>
<rect x="1152.7" y="1409.6" width="58.4" height="35.5" fill="#27278e"/>
<rect x="1210.8" y="1409.6" width="58.4" height="35.5" fill="#232388"/>
<rect x="1268.8" y="1409.6" width="58.4" height="35.5" fill="#46500e"/>
<rect x="1326.8" y="1409.6" width="58.4" height="35.5" fill="#7b8a16"/>
<rect x="1384.8" y="1409.6" width="58.4" height="35.5" fill="#8a9a18"/>
<rect x="1094.7" y="1444.7" width="58.4" height="35.5" fill="#232384"/>
<rect x="1152.7" y="1444.7" width="58.4" height="35.5" fill="#2b2ba0"/>
<rect x="1210.8" y="1444.7" width="58.4" height="35.5" fill="#19195c"/>
<rect x="1268.8" y="1444.7" width="58.4" height="35.5" fill="#5c6612"/>
<rect x="1326.8" y="1444.7" width="58.4" height="35.5" fill="#46500e"/>
<rect x="1384.8" y="1444.7" width="58.4" height="35.5" fill="#a3b31c"/>
<rect x="1094.7" y="1479.8" width="58.4" height="35.5" fill="#1d1d6a"/>
<rect x="1152.7" y="1479.8" width="58.4" height="35.5" fill="#161650"/>
<rect x="1210.8" y="1479.8" width="58.4" height="35.5" fill="#2d2daa"/>
<rect x="1268.8" y="1479.8" width="58.4" height="35.5" fill="#2b3008"/>
<rect x="1326.8" y="1479.8" width="58.4" height="35.5" fill="#a8b81d"/>
<rect x="1384.8" y="1479.8" width="58.4" height="35.5" fill="#65720f"/>
<rect x="1094.7" y="1514.8" width="58.4" height="35.5" fill="#232384"/>
<rect x="1152.7" y="1514.8" width="58.4" height="35.5" fill="#05051a"/>
<rect x="1210.8" y="1514.8" width="58.4" height="35.5" fill="#3535c8"/>
<rect x="1268.8" y="1514.8" width="58.4" height="35.5" fill="#5a6410"/>
<rect x="1326.8" y="1514.8" width="58.4" height="35.5" fill="#5a6410"/>
<rect x="1384.8" y="1514.8" width="58.4" height="35.5" fill="#83931a"/>
<rect x="1094.7" y="1549.9" width="58.4" height="35.5" fill="#1f1f74"/>
<rect x="1152.7" y="1549.9" width="58.4" height="35.5" fill="#0a0a2c"/>
<rect x="1210.8" y="1549.9" width="58.4" height="35.5" fill="#1d1d6c"/>
<rect x="1268.8" y="1549.9" width="58.4" height="35.5" fill="#d8e820"/>
<rect x="1326.8" y="1549.9" width="58.4" height="35.5" fill="#08081f"/>
<rect x="1384.8" y="1549.9" width="58.4" height="35.5" fill="#101005"/>
<text x="1455.7" y="1228" font-size="32" fill="#4d4d4d">Casp7</text>
<text x="1455.7" y="1263" font-size="32" fill="#4d4d4d">Bid</text>
<text x="1455.7" y="1298.1" font-size="32" fill="#4d4d4d">Casp8</text>
<text x="1455.7" y="1333.2" font-size="32" fill="#4d4d4d">Casp2</text>
<text x="1455.7" y="1368.2" font-size="32" fill="#4d4d4d">Dad1</text>
<text x="1455.7" y="1403.3" font-size="32" fill="#4d4d4d">Bnip3</text>
<text x="1455.7" y="1438.4" font-size="32" fill="#4d4d4d">Bag3</text>
<text x="1455.7" y="1473.4" font-size="32" fill="#4d4d4d">Mcl1</text>
<text x="1455.7" y="1508.5" font-size="32" fill="#4d4d4d">Bcl2l1</text>
<text x="1455.7" y="1543.6" font-size="32" fill="#4d4d4d">Bcl10</text>
<text x="1455.7" y="1578.6" font-size="32" fill="#4d4d4d">Fas</text>
<text x="1184.4" y="1186.7" font-size="32" text-anchor="middle">WT</text>
<text x="1350.2" y="1186.7" font-size="32" text-anchor="middle">PD-1 KO</text>
<path d="M1077.6 1200.9L1077.6 1337.7" stroke="#000" stroke-width="2.6"/>
<path d="M1078.2 1351.5L1078.2 1584" stroke="#000" stroke-width="2.6"/>
<text font-size="32" text-anchor="middle" transform="translate(1015.6 1274.7) rotate(-90)">Pro-</text>
<text font-size="32" text-anchor="middle" transform="translate(1055.2 1274.1) rotate(-90)">apoptotic</text>
<text font-size="32" text-anchor="middle" transform="translate(1055.2 1469.6) rotate(-90)">Anti-apoptotic</text>
<text x="1266.2" y="1621.9" font-size="32" text-anchor="middle"><tspan font-style="italic">Z</tspan> score</text>
<rect x="1074.8" y="1632.6" width="387.3" height="29.3" fill="url(#zg)" stroke="#000" stroke-width="3.4"/>
<text x="1089.8" y="1699.7" font-size="31" text-anchor="middle">–2</text>
<text x="1270.8" y="1699.7" font-size="31" text-anchor="middle">0</text>
<text x="1452.1" y="1699.7" font-size="31" text-anchor="middle">2</text>
</g>
<g>
<text x="1603" y="1173" font-size="41.5" font-weight="bold">n</text>
<path d="M1621.8 1194.7L1659.1 1194.7" stroke="#a9a5a8" stroke-width="3"/>
<text x="1667.9" y="1202.3" font-size="25.3" >FMO</text>
<path d="M1738.4 1194.7L1775.7 1194.7" stroke="#f7a04a" stroke-width="3"/>
<text x="1786.8" y="1202.3" font-size="25.3" >WT</text>
<path d="M1835.5 1194.7L1871.4 1194.7" stroke="#0f8a0f" stroke-width="4"/>
<text x="1879.2" y="1202.3" font-size="25.5" >PD-1 KO</text>
<path d="M1734.9 1545.5L1734.9 1544.7L1736.4 1544.1L1737.8 1543.3L1739.3 1541.9L1740.8 1539.9L1742.2 1537L1743.7 1532.8L1745.1 1527L1746.6 1519.1L1748 1508.8L1749.5 1495.7L1751 1479.6L1752.4 1460.4L1753.9 1438.2L1755.3 1413.4L1756.8 1386.9L1758.3 1359.7L1759.7 1332.9L1761.2 1308.3L1762.6 1287.1L1764.1 1270.9L1765.5 1260.6L1767 1257.1L1768.5 1259.4L1769.9 1266L1771.4 1276.7L1772.8 1291L1774.3 1308.3L1775.7 1327.8L1777.2 1348.8L1778.7 1370.6L1780.1 1392.3L1781.6 1413.4L1783 1433.4L1784.5 1451.8L1785.9 1468.5L1787.4 1483.1L1788.9 1495.7L1790.3 1506.4L1791.8 1515.3L1793.2 1522.5L1794.7 1528.3L1796.2 1532.8L1797.6 1536.3L1799.1 1538.9L1800.5 1540.8L1802 1542.2L1803.4 1543.3L1804.9 1544L1806.4 1544.5L1807.8 1544.8L1809.3 1545L1810.7 1545.2L1810.7 1545.5Z" fill="#c9cacc" stroke="#000" stroke-width="2.6" stroke-linejoin="miter"/>
<path d="M1705.8 1545.2L1717.4 1544L1729.1 1542.8L1734.9 1541.7L1742.2 1541.1L1749.5 1539L1755.3 1539.6L1761.2 1537.6L1767 1537L1772.8 1535.8L1777.2 1533.8L1781.6 1528.8L1785.9 1527.1L1790.3 1527.1L1794.7 1523.6L1798.5 1521.3L1802.6 1520.7L1806.4 1516.3L1809.3 1509L1812.2 1500.3L1815.1 1493L1818 1488L1820.9 1484.2L1823.3 1474L1825.9 1465.3L1828.8 1458L1831.1 1452.2L1833.5 1439L1835.5 1421.5L1837.6 1401.1L1839.3 1380.7L1841 1360.3L1842.8 1338.5L1845.1 1325.3L1847.5 1316.6L1849.2 1302L1851 1287.4L1852.7 1275.8L1854.5 1278.7L1856.2 1288.9L1858 1299.1L1859.7 1304.3L1861.5 1297.6L1863.2 1290.3L1865 1302L1866.7 1319.5L1869 1342.8L1872 1372L1874.9 1401.1L1877.8 1430.3L1880.7 1456.5L1883.6 1479.9L1886.5 1500.3L1889.4 1517.8L1892.4 1530.9L1895.3 1539.6L1898.2 1544L1902.6 1545.5L1976.9 1545.5" fill="none" stroke="#f7a04a" stroke-width="2.6" stroke-linejoin="round"/>
<path d="M1645.1 1545.7L1787.4 1545.7L1789.7 1545.2L1791.5 1545.2L1793.2 1545.1L1795 1545L1796.7 1544.8L1798.5 1544.6L1800.2 1544.4L1802 1544.2L1803.7 1543.8L1805.5 1543.4L1807.2 1542.9L1809 1542.3L1810.7 1541.5L1812.5 1540.6L1814.2 1539.4L1816 1538L1817.7 1536.4L1819.5 1534.4L1821.2 1532L1823 1529.2L1824.7 1525.8L1826.5 1521.9L1828.2 1517.3L1830 1512L1831.7 1505.8L1833.5 1498.7L1835.2 1490.6L1837 1481.4L1838.7 1471.1L1840.5 1459.5L1842.2 1446.7L1844 1432.6L1845.7 1417.3L1847.5 1400.8L1849.2 1383.2L1851 1364.8L1852.7 1345.7L1854.5 1326.4L1856.2 1307.4L1858 1289.2L1859.7 1272.8L1861.5 1259.5L1863.2 1251.9L1865 1255.2L1866.7 1264.8L1868.5 1280.1L1870.2 1300.2L1872 1323.8L1873.7 1349.6L1875.5 1376.3L1877.2 1402.5L1879 1427.4L1880.7 1450.1L1882.4 1470.2L1884.2 1487.4L1885.9 1501.6L1887.7 1513.1L1889.4 1522.1L1891.2 1529L1892.9 1534.1L1894.7 1537.8L1896.4 1540.4L1898.2 1542.2L1899.9 1543.4L1901.7 1544.2L1903.4 1544.7L1905.2 1545L1906.9 1545.2L1909.9 1545.7L1976.9 1545.7" fill="none" stroke="#0f8a0f" stroke-width="3.8" stroke-linejoin="miter"/>
<rect x="1644.5" y="1215.1" width="332.9" height="331.2" fill="none" stroke="#000" stroke-width="2.6"/>
<path d="M1635.2 1230.6L1644.5 1230.6" stroke="#000" stroke-width="2"/>
<path d="M1639.9 1243.4L1644.5 1243.4" stroke="#000" stroke-width="1.8"/>
<path d="M1639.9 1256.2L1644.5 1256.2" stroke="#000" stroke-width="1.8"/>
<path d="M1639.9 1269.1L1644.5 1269.1" stroke="#000" stroke-width="1.8"/>
<path d="M1639.9 1281.9L1644.5 1281.9" stroke="#000" stroke-width="1.8"/>
<path d="M1635.2 1294.7L1644.5 1294.7" stroke="#000" stroke-width="2"/>
<path d="M1639.9 1307.1L1644.5 1307.1" stroke="#000" stroke-width="1.8"/>
<path d="M1639.9 1319.6L1644.5 1319.6" stroke="#000" stroke-width="1.8"/>
<path d="M1639.9 1332L1644.5 1332" stroke="#000" stroke-width="1.8"/>
<path d="M1639.9 1344.4L1644.5 1344.4" stroke="#000" stroke-width="1.8"/>
<path d="M1635.2 1356.8L1644.5 1356.8" stroke="#000" stroke-width="2"/>
<path d="M1639.9 1369.5L1644.5 1369.5" stroke="#000" stroke-width="1.8"/>
<path d="M1639.9 1382.1L1644.5 1382.1" stroke="#000" stroke-width="1.8"/>
<path d="M1639.9 1394.8L1644.5 1394.8" stroke="#000" stroke-width="1.8"/>
<path d="M1639.9 1407.4L1644.5 1407.4" stroke="#000" stroke-width="1.8"/>
<path d="M1635.2 1420.1L1644.5 1420.1" stroke="#000" stroke-width="2"/>
<path d="M1639.9 1432.6L1644.5 1432.6" stroke="#000" stroke-width="1.8"/>
<path d="M1639.9 1445.2L1644.5 1445.2" stroke="#000" stroke-width="1.8"/>
<path d="M1639.9 1457.7L1644.5 1457.7" stroke="#000" stroke-width="1.8"/>
<path d="M1639.9 1470.2L1644.5 1470.2" stroke="#000" stroke-width="1.8"/>
<path d="M1635.2 1482.8L1644.5 1482.8" stroke="#000" stroke-width="2"/>
<path d="M1639.9 1495.5L1644.5 1495.5" stroke="#000" stroke-width="1.8"/>
<path d="M1639.9 1508.2L1644.5 1508.2" stroke="#000" stroke-width="1.8"/>
<path d="M1639.9 1520.9L1644.5 1520.9" stroke="#000" stroke-width="1.8"/>
<path d="M1639.9 1533.6L1644.5 1533.6" stroke="#000" stroke-width="1.8"/>
<path d="M1635.2 1546.3L1644.5 1546.3" stroke="#000" stroke-width="2"/>
<path d="M1646.6 1546.3L1646.6 1556.2" stroke="#000" stroke-width="2"/>
<path d="M1722.4 1546.3L1722.4 1556.2" stroke="#000" stroke-width="2"/>
<path d="M1767 1546.3L1767 1556.2" stroke="#000" stroke-width="2"/>
<path d="M1810.1 1546.3L1810.1 1556.2" stroke="#000" stroke-width="2"/>
<path d="M1885.7 1546.3L1885.7 1556.2" stroke="#000" stroke-width="2"/>
<path d="M1949.8 1546.3L1949.8 1556.2" stroke="#000" stroke-width="2"/>
<path d="M1699.6 1546.3L1699.6 1551.6" stroke="#000" stroke-width="1.6"/>
<path d="M1686.2 1546.3L1686.2 1551.6" stroke="#000" stroke-width="1.6"/>
<path d="M1676.8 1546.3L1676.8 1551.6" stroke="#000" stroke-width="1.6"/>
<path d="M1669.4 1546.3L1669.4 1551.6" stroke="#000" stroke-width="1.6"/>
<path d="M1663.4 1546.3L1663.4 1551.6" stroke="#000" stroke-width="1.6"/>
<path d="M1658.3 1546.3L1658.3 1551.6" stroke="#000" stroke-width="1.6"/>
<path d="M1653.9 1546.3L1653.9 1551.6" stroke="#000" stroke-width="1.6"/>
<path d="M1650.1 1546.3L1650.1 1551.6" stroke="#000" stroke-width="1.6"/>
<path d="M1832.9 1546.3L1832.9 1551.6" stroke="#000" stroke-width="1.6"/>
<path d="M1846.2 1546.3L1846.2 1551.6" stroke="#000" stroke-width="1.6"/>
<path d="M1855.6 1546.3L1855.6 1551.6" stroke="#000" stroke-width="1.6"/>
<path d="M1862.9 1546.3L1862.9 1551.6" stroke="#000" stroke-width="1.6"/>
<path d="M1868.9 1546.3L1868.9 1551.6" stroke="#000" stroke-width="1.6"/>
<path d="M1874 1546.3L1874 1551.6" stroke="#000" stroke-width="1.6"/>
<path d="M1878.3 1546.3L1878.3 1551.6" stroke="#000" stroke-width="1.6"/>
<path d="M1882.2 1546.3L1882.2 1551.6" stroke="#000" stroke-width="1.6"/>
<path d="M1905 1546.3L1905 1551.6" stroke="#000" stroke-width="1.6"/>
<path d="M1916.3 1546.3L1916.3 1551.6" stroke="#000" stroke-width="1.6"/>
<path d="M1924.3 1546.3L1924.3 1551.6" stroke="#000" stroke-width="1.6"/>
<path d="M1930.5 1546.3L1930.5 1551.6" stroke="#000" stroke-width="1.6"/>
<path d="M1935.6 1546.3L1935.6 1551.6" stroke="#000" stroke-width="1.6"/>
<path d="M1939.9 1546.3L1939.9 1551.6" stroke="#000" stroke-width="1.6"/>
<path d="M1943.6 1546.3L1943.6 1551.6" stroke="#000" stroke-width="1.6"/>
<path d="M1946.9 1546.3L1946.9 1551.6" stroke="#000" stroke-width="1.6"/>
<path d="M1969.1 1546.3L1969.1 1551.6" stroke="#000" stroke-width="1.6"/>
<path d="M1730.6 1546.3L1730.6 1551.6" stroke="#000" stroke-width="1.6"/>
<path d="M1737.8 1546.3L1737.8 1551.6" stroke="#000" stroke-width="1.6"/>
<path d="M1743.1 1546.3L1743.1 1551.6" stroke="#000" stroke-width="1.6"/>
<path d="M1748 1546.3L1748 1551.6" stroke="#000" stroke-width="1.6"/>
<path d="M1752.4 1546.3L1752.4 1551.6" stroke="#000" stroke-width="1.6"/>
<path d="M1755.9 1546.3L1755.9 1551.6" stroke="#000" stroke-width="1.6"/>
<path d="M1759.1 1546.3L1759.1 1551.6" stroke="#000" stroke-width="1.6"/>
<path d="M1761.2 1546.3L1761.2 1551.6" stroke="#000" stroke-width="1.6"/>
<path d="M1763.2 1546.3L1763.2 1551.6" stroke="#000" stroke-width="1.6"/>
<path d="M1765 1546.3L1765 1551.6" stroke="#000" stroke-width="1.6"/>
<path d="M1769 1546.3L1769 1551.6" stroke="#000" stroke-width="1.6"/>
<path d="M1770.8 1546.3L1770.8 1551.6" stroke="#000" stroke-width="1.6"/>
<path d="M1772.8 1546.3L1772.8 1551.6" stroke="#000" stroke-width="1.6"/>
<path d="M1774.9 1546.3L1774.9 1551.6" stroke="#000" stroke-width="1.6"/>
<path d="M1778.1 1546.3L1778.1 1551.6" stroke="#000" stroke-width="1.6"/>
<path d="M1781.6 1546.3L1781.6 1551.6" stroke="#000" stroke-width="1.6"/>
<path d="M1785.9 1546.3L1785.9 1551.6" stroke="#000" stroke-width="1.6"/>
<path d="M1790.9 1546.3L1790.9 1551.6" stroke="#000" stroke-width="1.6"/>
<path d="M1796.7 1546.3L1796.7 1551.6" stroke="#000" stroke-width="1.6"/>
<path d="M1803.4 1546.3L1803.4 1551.6" stroke="#000" stroke-width="1.6"/>
<path d="M1761.2 1553.3L1772.8 1553.3" stroke="#000" stroke-width="3.5"/>
<text x="1667.3" y="1590.6" font-size="27" text-anchor="middle">–10<tspan dy="-11.3" font-size="16.2">4</tspan></text>
<text x="1767" y="1590.6" font-size="27" text-anchor="middle">0</text>
<text x="1887.1" y="1590.6" font-size="27" text-anchor="middle">10<tspan dy="-11.3" font-size="16.2">4</tspan></text>
<text x="1950.7" y="1590.6" font-size="27" text-anchor="middle">10<tspan dy="-11.3" font-size="16.2">5</tspan></text>
<text x="1637.3" y="1638.7" font-size="31.6" >Bcl-2-PECy7</text>
<text font-size="31.8" text-anchor="middle" transform="translate(1621.2 1481.9) rotate(-90)">Cell count</text>
<path d="M1612.8 1393.8L1612.8 1226.2" stroke="#000" stroke-width="3"/>
<path d="M1612.8 1207.3L1626.5 1230.6L1612.8 1223.9L1598.8 1230.6Z"/>
<path d="M1823.8 1631.5L1968.2 1631.5" stroke="#000" stroke-width="3"/>
<path d="M1989.2 1631.5L1962.3 1615.4L1969.6 1631.5L1962.3 1647.5Z"/>
</g>
<g>
<text x="5" y="1780" font-size="41.5" font-weight="bold">k</text>
<path d="M374.6 1865.7 379.5 1865.3 384.5 1866.5 389.5 1869 392.5 1871.3 394.5 1873.4 397.4 1877.7 399.3 1882.7 400 1887.7 400 1894.7 399 1904.7 397.1 1912.7 394.3 1919.7 389.7 1927.7 385.6 1932.7 381.5 1935.9 378.5 1937.4 375.5 1938.3 370.5 1938.8 366.5 1938 363.5 1936.4 360.5 1933.5 358.2 1929.7 356.4 1924.7 355 1917.7 353.9 1908.7 353.8 1902.7 354.6 1897.7 355.8 1893.7 364.5 1873.9 366.5 1871 368.7 1868.7 371.5 1866.9 374.6 1865.7ZM321.4 1955.7 325.5 1955.2 327.5 1955.5 330.5 1956.4 334.5 1958.8 338.3 1962.7 340 1965.7 341.2 1969.7 341.6 1981.7 342.5 1983.7 344.5 1985.5 347.5 1987 353.7 1988.7 376.5 1992.5 381.5 1994.1 386.5 1996.3 390.5 1998.8 394.5 2002.1 400.9 2008.7 406.3 2015.7 415.8 2023.7 417.7 2026.7 418.5 2030.7 418.3 2035.7 417.2 2043.7 416.5 2046.7 415 2049.7 412.5 2052.5 409.5 2054.5 405.5 2056.5 395.6 2060.7 388.5 2065 385.5 2066.5 378.5 2069 372.5 2070.4 362.5 2071.4 341.5 2072 316.5 2071.4 303.5 2070.5 285.5 2068 276.5 2067.2 270.5 2067 256.5 2067.3 233.5 2065.8 208.5 2066 202.5 2065.8 197.5 2065.1 189.5 2063.1 183.5 2060.4 178.5 2057.6 174.5 2054.4 167.1 2045.7 166.1 2042.7 165.7 2037.7 166 2033.7 167 2030.7 168.5 2028.6 175.5 2020.6 180.5 2017.1 185.5 2014.7 191.5 2012.9 201.5 2011.3 217.5 2008 237.5 2005.7 251.5 2003.3 270.5 2000.7 278.5 1999.1 292.5 1997 301.2 1994.7 306.4 1992.7 310.3 1990.7 312.9 1988.7 313.7 1987.7 314.3 1985.7 314 1983.7 312 1977.7 311.2 1973.7 311.2 1969.7 311.9 1965.7 313.2 1962.7 315.5 1959.5 318.5 1957 321.4 1955.7ZM376.6 1880.7 379.5 1880.8 382.5 1881.8 385.5 1884 387.5 1886.6 388.8 1889.7 389.6 1892.7 390 1896.7 390 1901.7 389.4 1905.7 388.2 1909.7 386.3 1913.7 383.2 1918.7 380.5 1922.1 377.5 1924.5 374.7 1925.7 372.5 1925.9 370.5 1925.5 368.5 1924.4 366.9 1922.7 365.5 1920.1 364.5 1916.7 363.9 1912.7 363.7 1907.7 363.9 1903.7 364.5 1899.9 365.5 1896.3 367.5 1891.1 369.5 1886.9 372.5 1882.8 374.5 1881.4 376.6 1880.7ZM324.9 1966.7 326.5 1966.5 327.5 1966.7 328.9 1967.7 329.8 1968.7 330.4 1970.7 330.4 1971.7 329.5 1973.4 328.5 1974.1 327.5 1974.4 325.5 1974.3 323.5 1972.9 322.7 1971.7 322.5 1969.7 322.8 1968.7 323.5 1967.6 324.9 1966.7ZM338 1992.7 340.5 1992.4 345.5 1992.7 356.5 1994 373.5 1997.2 377.5 1998.3 382.5 2000.3 387.5 2002.8 390.5 2005 393.5 2008 399.5 2015.7 408.8 2022.7 410.9 2024.7 412.4 2026.7 413.3 2028.7 413.8 2031.7 413.2 2038.7 411.7 2045.7 410.3 2048.7 408.7 2050.7 405.5 2053.3 401.5 2055.4 387.5 2061.3 378.5 2064.5 372.5 2065.9 365.5 2066.6 334.5 2067.4 304.5 2066 283.5 2063.1 275.5 2062.4 258.5 2062.5 236.5 2061.2 213.5 2061.5 202.5 2061 197.5 2060.2 193.5 2059.2 189.5 2057.8 185.5 2055.7 172.5 2046.7 170.7 2044.7 169.9 2042.7 169.4 2038.7 169.6 2034.7 170.2 2032.7 171.5 2030.7 173.5 2028.9 183.6 2021.7 187.5 2019.5 191.5 2017.9 195.5 2016.9 218.5 2012.5 235.5 2010.7 251.5 2008 270.5 2005.5 280.5 2003.3 295.5 2000.9 311.5 1997.3 325.5 1995.4 338 1992.7ZM338.8 1997.7 346.5 1997 354.5 1997.5 372.5 2001.4 379.5 2003.7 384.5 2006.1 388.3 2008.7 390.5 2010.7 395.6 2016.7 398 2018.7 403.9 2022.7 407 2025.7 408.2 2027.7 408.9 2029.7 409.2 2033.7 407.9 2043.7 406.9 2046.7 405.9 2048.7 403 2051.7 399.9 2053.7 392.5 2057.2 383.5 2060.2 375.5 2062.1 368.5 2062.9 334.5 2063.7 305.5 2062.7 299.5 2062.1 283.6 2059.7 272.7 2058.7 259.5 2058.4 239.5 2057.1 218.5 2057.3 205.5 2056.7 197.5 2055.5 190.5 2053.2 177.5 2046.5 175.3 2044.7 174.6 2043.7 173.8 2041.7 173.5 2038.7 173.7 2035.7 174.2 2033.7 175.5 2031.7 178.1 2029.7 189.5 2023.6 192.5 2022.2 196.5 2021 218.5 2016.6 235.5 2014.8 251.5 2012.1 270.5 2009.7 281.5 2007.1 304.5 2002.9 313.5 2001.6 326.5 2000.4 338.8 1997.7ZM345.5 2000.7 350.5 2000.6 356.5 2001.3 372.5 2005.3 378.5 2007.4 382.5 2009.4 386.5 2012.1 392.8 2017.7 400.9 2023.7 403.7 2026.7 405 2029.7 405.4 2034.7 404.4 2042.7 403.6 2045.7 402.7 2047.7 400.2 2050.7 395.5 2053.9 390.5 2056.3 384.5 2058.2 374.5 2060.2 364.5 2060.8 336.5 2061.2 304.5 2060.5 283.7 2057.7 273.9 2056.7 262.5 2056 241.5 2054.1 218.5 2053.1 199.5 2051.1 190.5 2049.2 184.5 2047 180.6 2044.7 179.6 2043.7 178.6 2041.7 178.2 2038.7 178.5 2035.7 179.2 2033.7 180.9 2031.7 183.5 2030 187.5 2028.2 197.5 2025 217.5 2020.9 235.5 2018.9 251.5 2016 270.5 2013.8 281.5 2011.1 303.5 2006.7 312.5 2005.5 325.5 2004.6 330.5 2003.7 340.5 2001.3 345.5 2000.7ZM340.9 2004.7 348.5 2003.9 354.5 2004.4 359.5 2005.5 375.5 2010 380.5 2012.4 391.5 2019.3 396.1 2022.7 400.1 2026.7 401.2 2028.7 401.8 2030.7 402 2034.7 401.1 2042.7 400.2 2045.7 399.2 2047.7 396.7 2050.7 392.6 2053.7 388.5 2055.6 382.5 2057.3 373.5 2058.8 364.5 2059.3 336.5 2059.6 305.5 2059.1 278.7 2055.7 261.5 2054.3 245.5 2052.5 223.5 2051 196.5 2047.9 191.5 2046.9 187.5 2045.3 185.1 2043.7 184.3 2042.7 183.5 2040.7 183.3 2038.7 183.6 2035.7 184.4 2033.7 185.2 2032.7 188.5 2030.5 194.5 2028.5 220.5 2024.3 233.8 2022.7 251.5 2019.8 270.5 2017.6 302.5 2010.3 310.5 2009.2 325.5 2008 340.9 2004.7ZM343.4 2007.7 349.5 2007.4 354.5 2008 374.5 2013.2 379.5 2015.3 389.5 2020.1 393.2 2022.7 396.2 2025.7 398.3 2029.7 398.9 2033.7 398.7 2037.7 398 2042.7 397.2 2045.7 396.3 2047.7 393.9 2050.7 390.5 2053.2 386.5 2054.9 380.5 2056.5 372.5 2057.7 361.5 2058.1 336.5 2058.3 305.5 2057.9 280.4 2054.7 263.5 2053.2 245.5 2051.1 224.5 2049.3 198.5 2045.9 194.5 2045 191.6 2043.7 189.6 2041.7 189 2039.7 188.9 2036.7 189.4 2034.7 190 2033.7 192.6 2031.7 197.5 2030.1 221.5 2026.4 252.5 2022.2 270.5 2020.1 289.9 2016.7 304.5 2013.1 311.5 2012.3 324.5 2011.4 339.5 2008.2 343.4 2007.7ZM337.8 2011.7 343.5 2011.1 350.5 2011.3 372.5 2015.5 378.5 2017.3 386.5 2020.4 390.4 2022.7 392.8 2024.7 394.4 2026.7 395.4 2028.7 396.2 2032.7 395.7 2040.7 395.2 2043.7 394.2 2046.7 392.3 2049.7 388.5 2052.6 383.5 2054.5 377.5 2055.9 369.5 2056.7 353.5 2057.1 317.5 2057.1 304.5 2056.8 281.3 2053.7 263.5 2051.9 246.5 2049.7 229.5 2048.2 219.5 2046.7 201 2042.7 198.9 2041.7 197.8 2040.7 197.1 2039.7 196.5 2037.7 196.5 2035.7 197 2034.7 197.9 2033.7 200.5 2032.5 207.9 2030.7 227.5 2027.4 250.5 2024.2 270.5 2021.8 289.5 2019 305.5 2015.5 324.5 2014.2 337.8 2011.7ZM335.9 2014.7 340.5 2014.2 345.5 2014.4 373.5 2017.8 378.5 2019 384.5 2021.2 387.5 2022.7 390.5 2024.9 391.9 2026.7 393 2028.7 393.8 2032.7 393.7 2036.7 393.2 2041.7 391.7 2046.7 389.6 2049.7 386.7 2051.7 381.7 2053.7 376.5 2054.9 367.5 2055.8 350.5 2056.2 314.5 2056.1 305.5 2055.9 300.5 2055.3 281.5 2052.6 263.5 2050.7 247.5 2048.2 232.8 2046.7 227 2045.7 223.4 2044.7 219.1 2042.7 217 2040.7 213.8 2035.7 213.8 2034.7 214.4 2033.7 215.9 2032.7 218.3 2031.7 225.9 2029.7 231.2 2028.7 249.5 2025.8 288.6 2020.7 305.5 2017.3 323.5 2016.4 335.9 2014.7ZM335.6 2016.7 342.5 2016.6 373.5 2019.4 377.5 2020.3 382.5 2022 385.9 2023.7 388.6 2025.7 390.6 2028.7 391.4 2032.7 390.8 2040.7 389.6 2045.7 387.6 2048.7 384.9 2050.7 380.4 2052.7 375.5 2053.9 366.5 2054.8 350.5 2055.2 315.5 2055.2 305.5 2054.9 300.5 2054.3 280.5 2051.4 264.5 2049.4 248.5 2046.3 234.5 2043.9 231.2 2042.7 229.5 2041.4 227.7 2038.7 226.8 2035.7 227.3 2033.7 228.4 2032.7 230.3 2031.7 237.3 2029.7 247.9 2027.7 290.5 2021.8 305.5 2018.8 324.5 2017.9 335.6 2016.7ZM329.9 2018.7 335.5 2018.2 340.5 2018.1 355.5 2019.5 371.5 2020.4 375.5 2021.2 379.5 2022.4 382.5 2023.7 385.6 2025.7 386.7 2026.7 388 2028.7 388.8 2031.7 388.5 2037.1 386.8 2044.7 385.1 2047.7 382.8 2049.7 378.7 2051.7 374.5 2052.8 364.5 2053.8 350.5 2054.3 315.5 2054.2 305.5 2053.8 300.5 2053.3 268.5 2048.4 260.8 2046.7 255.1 2044.7 243.9 2039.7 240.7 2037.7 239.2 2035.7 239.1 2034.7 239.5 2033.7 240.7 2032.7 242.6 2031.7 249.3 2029.7 254 2028.7 275.5 2025 291.5 2022.9 305.5 2020 329.9 2018.7ZM331.6 2019.7 340.5 2019.4 354.5 2020.9 371.5 2021.8 377.5 2023.2 382.3 2025.7 383.5 2026.7 385 2028.7 385.7 2031.7 385.5 2034.8 383 2044.7 381.5 2047.4 379.5 2049.1 376.4 2050.7 372.5 2051.8 361.5 2052.9 349.5 2053.3 315.5 2053.2 305.5 2052.8 297.5 2051.7 271.1 2046.7 265 2044.7 263.2 2043.7 260.9 2041.7 256.2 2035.7 255.4 2033.7 255.8 2032.7 256.9 2031.7 258.9 2030.7 265.3 2028.7 274.5 2026.7 291.5 2024.3 305.5 2021.2 312.5 2020.7 323.5 2020.4 331.6 2019.7ZM332.8 2020.7 340.5 2020.6 354.5 2022.2 370.5 2023 373.5 2023.6 376.5 2024.5 380.1 2026.7 381.7 2028.7 382.3 2031.7 382 2033.7 378.7 2044.7 377.6 2046.7 375.5 2048.6 373.1 2049.7 370.5 2050.4 361.5 2051.7 350.5 2052.2 316.5 2052.1 305.5 2051.5 299.5 2050.7 285.4 2047.7 278.7 2045.7 273.8 2043.7 272.1 2042.7 270.1 2040.7 268.1 2037.7 266.8 2034.7 267 2032.7 267.9 2031.7 269.4 2030.7 272.5 2029.4 277.5 2028.1 290.5 2026.1 305.5 2022.4 311.5 2021.8 323.5 2021.4 332.8 2020.7ZM333.9 2021.7 340.5 2021.7 354.5 2023.6 370.5 2024.6 374.4 2025.7 377.4 2027.7 378.5 2029.7 378.4 2032.7 375.2 2039.7 373.9 2043.7 372.9 2045.7 370.6 2047.7 364.4 2049.7 358.5 2050.6 353.5 2051 337.5 2050.7 319.5 2051 312.9 2050.7 301.5 2049.4 296.5 2048.5 290.3 2046.7 287.6 2045.7 283.7 2043.7 281.2 2041.7 279.5 2039.7 277.5 2036.7 276.7 2034.7 276.7 2033.7 277.1 2032.7 278.1 2031.7 280 2030.7 290.5 2028.2 304.5 2023.8 311.5 2022.9 323.5 2022.5 333.9 2021.7ZM322.7 2023.7 333.5 2022.8 338.5 2022.8 342.5 2023.2 354.5 2025.2 368.5 2026.4 371.5 2027.2 373.5 2028.5 374.2 2029.7 374.2 2031.7 373.4 2033.7 370 2038.7 367.1 2044.7 364.9 2046.7 360.5 2048.5 356.5 2049.2 351.5 2049.6 337.5 2049 319.5 2049.6 310.4 2048.7 299.9 2046.7 296.8 2045.7 293.1 2043.7 291 2041.7 289.8 2039.7 289 2036.7 289.2 2034.7 290.6 2032.7 293.1 2030.7 298.4 2027.7 303.2 2025.7 310.5 2024.3 322.7 2023.7ZM325.9 2024.7 335.5 2023.9 341.5 2024.4 353.5 2027.2 363.5 2028.7 366.2 2029.7 367 2030.7 367.2 2031.7 362.7 2042.7 360.5 2045.2 357.5 2046.7 354.5 2047.4 351.5 2047.7 337.5 2046.6 324.5 2047.8 319.5 2047.9 316.5 2047.6 312.5 2046.7 309.6 2045.7 305.2 2043.7 302.1 2041.7 300.4 2039.7 298.9 2036.7 298.6 2033.7 299.2 2031.7 300.7 2029.7 302 2028.7 306.5 2026.6 312.5 2025.5 325.9 2024.7ZM329.1 2025.7 335.5 2025.3 340.5 2025.7 346.9 2027.7 356.5 2031.7 358.5 2033.3 359.6 2035.7 359.8 2038.7 359.1 2040.7 357.7 2042.7 356.3 2043.7 353.9 2044.7 351.5 2045.1 348.5 2045 340.5 2043.5 337.5 2043.3 334.5 2043.5 325.5 2045.5 320.5 2045.7 316.5 2045.1 313.5 2043.9 309.5 2041.1 306.8 2037.7 305.1 2033.7 305.1 2031.7 305.6 2030.7 307.9 2028.7 311.5 2027.4 315.5 2026.8 329.1 2025.7ZM328.4 2027.7 333.5 2027.2 336.5 2027.3 339 2027.7 341.6 2028.7 343.1 2029.7 346.5 2032.7 351.5 2035.3 353.3 2036.7 354 2037.7 354.2 2038.7 353.9 2039.7 352.5 2040.9 349.5 2041.6 345.5 2040.9 340.5 2039.3 337.5 2038.9 334.5 2039.4 327.5 2042 324.5 2042.7 320.5 2042.9 316.5 2041.9 313.5 2039.8 312 2037.7 311.4 2035.7 311.4 2033.7 311.9 2031.7 312.5 2031 314.5 2029.7 316.5 2029.2 328.4 2027.7ZM322 2032.7 328.5 2032.4 329.5 2032.7 329.8 2033.7 328.3 2036.7 326.1 2038.7 323.5 2039.7 320.5 2039.8 318.5 2039.1 317.5 2038.2 316.9 2036.7 317.1 2035.7 317.6 2034.7 318.8 2033.7 322 2032.7Z" fill="none" stroke="#000" stroke-width="1.1" stroke-linejoin="round"/>
<rect x="133.5" y="1807.7" width="313.8" height="313.2" fill="none" stroke="#000" stroke-width="1.9"/>
<path d="M332.4 1807.7L332.4 2120.8" stroke="#000" stroke-width="1.8"/>
<path d="M133.5 1952.6L447.3 1952.6" stroke="#000" stroke-width="1.8"/>
<path d="M125.5 1837L133.5 1837" stroke="#000" stroke-width="1.9"/>
<path d="M125.5 1912L133.5 1912" stroke="#000" stroke-width="1.9"/>
<path d="M125.5 1997.6L133.5 1997.6" stroke="#000" stroke-width="1.9"/>
<path d="M125.5 2048.8L133.5 2048.8" stroke="#000" stroke-width="1.9"/>
<path d="M125.5 2100.3L133.5 2100.3" stroke="#000" stroke-width="1.9"/>
<path d="M129 1889.4L133.5 1889.4" stroke="#000" stroke-width="1.5"/>
<path d="M129 1876.2L133.5 1876.2" stroke="#000" stroke-width="1.5"/>
<path d="M129 1866.8L133.5 1866.8" stroke="#000" stroke-width="1.5"/>
<path d="M129 1859.6L133.5 1859.6" stroke="#000" stroke-width="1.5"/>
<path d="M129 1853.6L133.5 1853.6" stroke="#000" stroke-width="1.5"/>
<path d="M129 1848.6L133.5 1848.6" stroke="#000" stroke-width="1.5"/>
<path d="M129 1844.3L133.5 1844.3" stroke="#000" stroke-width="1.5"/>
<path d="M129 1840.4L133.5 1840.4" stroke="#000" stroke-width="1.5"/>
<path d="M129 1971.8L133.5 1971.8" stroke="#000" stroke-width="1.5"/>
<path d="M129 1956.8L133.5 1956.8" stroke="#000" stroke-width="1.5"/>
<path d="M129 1946.1L133.5 1946.1" stroke="#000" stroke-width="1.5"/>
<path d="M129 1937.8L133.5 1937.8" stroke="#000" stroke-width="1.5"/>
<path d="M129 1931L133.5 1931" stroke="#000" stroke-width="1.5"/>
<path d="M129 1925.3L133.5 1925.3" stroke="#000" stroke-width="1.5"/>
<path d="M129 1920.3L133.5 1920.3" stroke="#000" stroke-width="1.5"/>
<path d="M129 1915.9L133.5 1915.9" stroke="#000" stroke-width="1.5"/>
<path d="M129 1814.4L133.5 1814.4" stroke="#000" stroke-width="1.5"/>
<path d="M129 1815.8L133.5 1815.8" stroke="#000" stroke-width="1.5"/>
<path d="M129 2002.7L133.5 2002.7" stroke="#000" stroke-width="1.5"/>
<path d="M129 2008.5L133.5 2008.5" stroke="#000" stroke-width="1.5"/>
<path d="M129 2014.2L133.5 2014.2" stroke="#000" stroke-width="1.5"/>
<path d="M129 2020L133.5 2020" stroke="#000" stroke-width="1.5"/>
<path d="M129 2025.1L133.5 2025.1" stroke="#000" stroke-width="1.5"/>
<path d="M129 2029.7L133.5 2029.7" stroke="#000" stroke-width="1.5"/>
<path d="M129 2033.8L133.5 2033.8" stroke="#000" stroke-width="1.5"/>
<path d="M129 2037.5L133.5 2037.5" stroke="#000" stroke-width="1.5"/>
<path d="M129 2040.8L133.5 2040.8" stroke="#000" stroke-width="1.5"/>
<path d="M129 2059.2L133.5 2059.2" stroke="#000" stroke-width="1.5"/>
<path d="M129 2062.7L133.5 2062.7" stroke="#000" stroke-width="1.5"/>
<path d="M129 2066.8L133.5 2066.8" stroke="#000" stroke-width="1.5"/>
<path d="M129 2071.2L133.5 2071.2" stroke="#000" stroke-width="1.5"/>
<path d="M129 2076.1L133.5 2076.1" stroke="#000" stroke-width="1.5"/>
<path d="M129 2081.2L133.5 2081.2" stroke="#000" stroke-width="1.5"/>
<path d="M129 2086.9L133.5 2086.9" stroke="#000" stroke-width="1.5"/>
<path d="M129 2093.4L133.5 2093.4" stroke="#000" stroke-width="1.5"/>
<path d="M129 2106.5L133.5 2106.5" stroke="#000" stroke-width="1.5"/>
<path d="M129 2112.3L133.5 2112.3" stroke="#000" stroke-width="1.5"/>
<path d="M126 2043.5L133.5 2043.5" stroke="#000" stroke-width="1.2"/>
<path d="M126 2045.6L133.5 2045.6" stroke="#000" stroke-width="1.2"/>
<path d="M126 2047.7L133.5 2047.7" stroke="#000" stroke-width="1.2"/>
<path d="M126 2049.8L133.5 2049.8" stroke="#000" stroke-width="1.2"/>
<path d="M126 2051.8L133.5 2051.8" stroke="#000" stroke-width="1.2"/>
<path d="M126 2053.9L133.5 2053.9" stroke="#000" stroke-width="1.2"/>
<path d="M166.5 2120.8L166.5 2129.8" stroke="#000" stroke-width="1.9"/>
<path d="M203.8 2120.8L203.8 2129.8" stroke="#000" stroke-width="1.9"/>
<path d="M238.9 2120.8L238.9 2129.8" stroke="#000" stroke-width="1.9"/>
<path d="M296.2 2120.8L296.2 2129.8" stroke="#000" stroke-width="1.9"/>
<path d="M386.8 2120.8L386.8 2129.8" stroke="#000" stroke-width="1.9"/>
<path d="M323.5 2120.8L323.5 2125.3" stroke="#000" stroke-width="1.5"/>
<path d="M339.4 2120.8L339.4 2125.3" stroke="#000" stroke-width="1.5"/>
<path d="M350.8 2120.8L350.8 2125.3" stroke="#000" stroke-width="1.5"/>
<path d="M359.5 2120.8L359.5 2125.3" stroke="#000" stroke-width="1.5"/>
<path d="M366.7 2120.8L366.7 2125.3" stroke="#000" stroke-width="1.5"/>
<path d="M372.8 2120.8L372.8 2125.3" stroke="#000" stroke-width="1.5"/>
<path d="M378.1 2120.8L378.1 2125.3" stroke="#000" stroke-width="1.5"/>
<path d="M382.7 2120.8L382.7 2125.3" stroke="#000" stroke-width="1.5"/>
<path d="M256.2 2120.8L256.2 2125.3" stroke="#000" stroke-width="1.5"/>
<path d="M266.2 2120.8L266.2 2125.3" stroke="#000" stroke-width="1.5"/>
<path d="M273.4 2120.8L273.4 2125.3" stroke="#000" stroke-width="1.5"/>
<path d="M278.9 2120.8L278.9 2125.3" stroke="#000" stroke-width="1.5"/>
<path d="M283.5 2120.8L283.5 2125.3" stroke="#000" stroke-width="1.5"/>
<path d="M287.3 2120.8L287.3 2125.3" stroke="#000" stroke-width="1.5"/>
<path d="M290.6 2120.8L290.6 2125.3" stroke="#000" stroke-width="1.5"/>
<path d="M293.5 2120.8L293.5 2125.3" stroke="#000" stroke-width="1.5"/>
<path d="M414.2 2120.8L414.2 2125.3" stroke="#000" stroke-width="1.5"/>
<path d="M430.1 2120.8L430.1 2125.3" stroke="#000" stroke-width="1.5"/>
<path d="M441.5 2120.8L441.5 2125.3" stroke="#000" stroke-width="1.5"/>
<path d="M200.4 2120.8L200.4 2125.3" stroke="#000" stroke-width="1.5"/>
<path d="M207.3 2120.8L207.3 2125.3" stroke="#000" stroke-width="1.5"/>
<path d="M197.4 2120.8L197.4 2125.3" stroke="#000" stroke-width="1.5"/>
<path d="M210.3 2120.8L210.3 2125.3" stroke="#000" stroke-width="1.5"/>
<path d="M194.2 2120.8L194.2 2125.3" stroke="#000" stroke-width="1.5"/>
<path d="M213.5 2120.8L213.5 2125.3" stroke="#000" stroke-width="1.5"/>
<path d="M190.5 2120.8L190.5 2125.3" stroke="#000" stroke-width="1.5"/>
<path d="M217.2 2120.8L217.2 2125.3" stroke="#000" stroke-width="1.5"/>
<path d="M186.5 2120.8L186.5 2125.3" stroke="#000" stroke-width="1.5"/>
<path d="M221.2 2120.8L221.2 2125.3" stroke="#000" stroke-width="1.5"/>
<path d="M182.4 2120.8L182.4 2125.3" stroke="#000" stroke-width="1.5"/>
<path d="M225.3 2120.8L225.3 2125.3" stroke="#000" stroke-width="1.5"/>
<path d="M178 2120.8L178 2125.3" stroke="#000" stroke-width="1.5"/>
<path d="M229.7 2120.8L229.7 2125.3" stroke="#000" stroke-width="1.5"/>
<path d="M173.4 2120.8L173.4 2125.3" stroke="#000" stroke-width="1.5"/>
<path d="M234.3 2120.8L234.3 2125.3" stroke="#000" stroke-width="1.5"/>
<path d="M143.4 2120.8L143.4 2125.3" stroke="#000" stroke-width="1.5"/>
<path d="M201.1 2120.8L201.1 2129.3" stroke="#000" stroke-width="1.2"/>
<path d="M202.9 2120.8L202.9 2129.3" stroke="#000" stroke-width="1.2"/>
<path d="M204.8 2120.8L204.8 2129.3" stroke="#000" stroke-width="1.2"/>
<path d="M206.6 2120.8L206.6 2129.3" stroke="#000" stroke-width="1.2"/>
<text x="109.2" y="1846.6" font-size="27.6" text-anchor="end">10<tspan dy="-12.4" font-size="16.6">5</tspan></text>
<text x="109.2" y="1921.6" font-size="27.6" text-anchor="end">10<tspan dy="-12.4" font-size="16.6">4</tspan></text>
<text x="109.2" y="2007.2" font-size="27.6" text-anchor="end">10<tspan dy="-12.4" font-size="16.6">3</tspan></text>
<text x="108.8" y="2058.4" font-size="27.6" text-anchor="end">0</text>
<text x="109.2" y="2109.9" font-size="27.6" text-anchor="end">–10<tspan dy="-12.4" font-size="16.6">3</tspan></text>
<text x="161.2" y="2165.4" font-size="27.6" text-anchor="middle">–10<tspan dy="-12.4" font-size="16.6">3</tspan></text>
<text x="203.8" y="2165.4" font-size="27.6" text-anchor="middle">0</text>
<text x="240.1" y="2165.4" font-size="27.6" text-anchor="middle">10<tspan dy="-12.4" font-size="16.6">3</tspan></text>
<text x="297.8" y="2165.4" font-size="27.6" text-anchor="middle">10<tspan dy="-12.4" font-size="16.6">4</tspan></text>
<text x="388.5" y="2165.4" font-size="27.6" text-anchor="middle">10<tspan dy="-12.4" font-size="16.6">5</tspan></text>
<text x="438.8" y="1840.5" font-size="27.6" text-anchor="end">5.4</text>
<text x="438.3" y="2112.3" font-size="27.6" text-anchor="end">38.5</text>
<text x="286.8" y="1791" font-size="30" text-anchor="middle">WT</text>
<path d="M787.7 1893.7 791.4 1893.5 794.4 1893.8 797.4 1894.7 800.4 1896.2 802.4 1897.8 804.8 1900.7 806.4 1903.7 807.6 1907.7 807.8 1910.7 807.4 1914.7 806.1 1918.7 804.4 1921.7 802.4 1923.9 799.4 1926.1 796.4 1927.5 793.4 1928.2 789.4 1928.6 786.4 1928.3 782.4 1927.2 779.4 1925.7 777 1923.7 774.6 1920.7 773.2 1917.7 772.5 1914.7 772.3 1910.7 772.9 1906.7 773.9 1903.7 775.8 1900.7 778.4 1897.9 781.4 1895.9 784.4 1894.5 787.7 1893.7ZM665.9 1954.7 668.4 1954.6 670.8 1955.7 672.6 1957.7 673.6 1960.7 673.4 1963.7 672.5 1965.7 670.4 1967.7 668.4 1968.4 665.4 1968.1 663.4 1966.9 661.9 1964.7 661.3 1962.7 661.4 1959.7 662.2 1957.7 663.9 1955.7 665.9 1954.7ZM691.3 1962.7 692.4 1962.1 693.4 1962.2 694.4 1963 695.4 1964.7 696.6 1968.7 697.3 1975.7 697 1988.7 696.7 1991.7 695.5 1996.7 695.6 1997.7 696.1 1998.7 698.4 2000.3 703.4 2001.7 714.4 2003.1 764.4 2007.9 771.4 2008.9 784.4 2011.9 798.4 2013.9 804.4 2015.2 812.4 2018.2 816.4 2020.3 820 2022.7 823.6 2025.7 827 2029.7 828.9 2033.7 829.5 2037.7 829 2042.7 827.2 2047.7 824.4 2052 820.4 2055.9 816.4 2058.6 811.4 2061.2 804.4 2064 797.4 2066.2 792.4 2067.3 786.4 2068.1 776.4 2069.1 769.4 2069.4 745.4 2068.6 724.4 2069.8 703.4 2070.6 686.4 2070.7 668.4 2070.3 649.4 2070.6 629.4 2070.2 609.4 2070.5 586.4 2070.2 578.4 2069.4 571.4 2067.3 568.4 2065.9 566.4 2064.5 562.4 2060.6 560.4 2057.7 558.9 2054.7 557.1 2048.7 555.8 2040.7 555.8 2032.7 556.9 2024.7 559 2017.7 560.4 2014.7 562.4 2011.7 566.4 2007.8 569.4 2005.9 574.4 2004 578.4 2003.1 584.4 2002.3 589.4 2002 628.4 2001.7 633.4 2001.4 636.6 2000.7 638.7 1999.7 639.6 1998.7 639.9 1997.7 638.4 1989.7 638.6 1986.7 639.7 1982.7 640.7 1980.7 642.4 1978.6 643.6 1977.7 645.4 1977.1 647.4 1977.3 649.4 1978.5 655.2 1985.7 658.4 1988.1 661.4 1989 668.4 1989.1 672.4 1989.5 676.1 1990.7 677.4 1991.7 677.5 1992.7 676.5 1993.7 672.4 1995.1 668.4 1995.4 661.4 1995.1 658.4 1995.6 656.4 1996.7 655.3 1997.7 655 1998.7 655.7 1999.7 658.9 2000.7 663.4 2001 680.4 2000.9 682.7 2000.7 685.4 1999.9 687.2 1998.7 687.6 1997.7 687.4 1996.7 685 1992.7 684.8 1991.7 687.1 1986.7 687.9 1983.7 688.1 1972.7 688.7 1968.7 689.5 1965.7 690.4 1963.8 691.3 1962.7ZM802.3 1978.7 804.4 1978.7 806.4 1979.7 808.1 1981.7 809.2 1984.7 809.2 1987.7 808.3 1990.7 806.4 1993 804.4 1993.8 802.4 1993.7 800.4 1992.5 798.4 1989.7 797.6 1986.7 797.8 1983.7 798.5 1981.7 800.4 1979.5 802.3 1978.7ZM787.5 1900.7 791.4 1900.1 793.4 1900.4 795.4 1901.1 797.4 1902.3 798.7 1903.7 800 1905.7 800.8 1907.7 801.1 1909.7 801.1 1912.7 799.8 1916.7 797.4 1919.7 795.4 1921 793.4 1921.8 791.4 1922.2 788.4 1922.1 786.4 1921.6 784.4 1920.7 781.4 1918.1 779.7 1914.7 779.4 1910.7 780.5 1906.7 781.8 1904.7 783.4 1903 785.4 1901.6 787.5 1900.7ZM645.6 1987.7 646.4 1987.2 647.6 1987.7 648.2 1988.7 648.2 1989.7 647.4 1990.4 646.4 1990.4 645.6 1989.7 645.3 1988.7 645.6 1987.7ZM640.6 2004.7 646.4 2004.5 659.4 2005.2 674.4 2005.2 682.4 2004.9 693.4 2003.9 716.3 2006.7 727.4 2007.6 746.4 2009.7 763.4 2011.1 771.4 2012.3 785.4 2015.7 800.4 2018.6 806.4 2020.5 811.4 2022.8 816.8 2026.7 818.8 2028.7 820.9 2031.7 821.9 2033.7 822.6 2036.7 822.5 2041.7 820.8 2046.7 818.4 2050.3 814.8 2053.7 809.4 2057.1 802.4 2060.4 794.4 2063 788.4 2064.3 778.4 2065.6 767.4 2066.2 743.4 2065.1 724.4 2066.5 704.4 2067.4 693.4 2067.5 671.4 2067 651.4 2067.5 629.4 2066.9 609.4 2067.2 588.4 2067 578.4 2066 574.4 2064.9 570.4 2063.3 567.4 2061.4 565.4 2059.6 563.4 2057.4 561.4 2054.3 559.8 2050.7 558.6 2046.7 557.7 2041.7 557.5 2036.7 557.7 2031.7 558.6 2026.7 559.7 2022.7 561.4 2018.5 563.1 2015.7 565.6 2012.7 569.4 2009.7 573.4 2007.8 578.4 2006.3 584.4 2005.5 588.4 2005.2 632.4 2005 640.6 2004.7ZM611.7 2007.7 671.4 2008.1 695.4 2007.1 704.4 2007.8 715.4 2009.3 727.4 2010.4 745.4 2012.6 761.4 2013.7 768.4 2014.5 797.4 2021.6 803.4 2023.6 807.8 2025.7 812.4 2028.9 815.5 2032.7 817.1 2036.7 817.3 2038.7 817 2041.7 815.6 2045.7 813.4 2048.8 809.4 2052.3 804.4 2055.4 798.4 2058.2 792.4 2060.3 784.4 2062 776.4 2063 766.4 2063.4 743.4 2062.3 724.4 2063.8 703.4 2064.7 691.4 2064.8 671.4 2064.2 651.4 2064.9 629.4 2064.1 608.4 2064.5 588.4 2064.3 579.4 2063.4 573.4 2061.5 568.4 2058.9 566 2056.7 563.5 2053.7 561 2048.7 559.9 2044.7 559.4 2041.7 559.1 2034.7 559.6 2030.7 560.5 2026.7 561.9 2022.7 563.4 2019.7 566.3 2015.7 569.4 2012.9 574.4 2010.3 578.4 2009 587.4 2007.8 611.7 2007.7ZM689.3 2009.7 695.4 2009.5 703.4 2010.1 715.4 2011.8 727.4 2012.9 742.4 2014.9 761.4 2016.2 768.4 2017 774.4 2018.4 793.4 2023.9 798.4 2025.6 802.4 2027.3 807.6 2030.7 809.6 2032.7 810.9 2034.7 811.7 2036.7 812.1 2038.7 811.9 2041.7 811.2 2043.7 810.1 2045.7 808.5 2047.7 803.6 2051.7 796.4 2055.6 789.4 2058.2 780.4 2060.1 772.4 2061 764.4 2061 748.4 2060 742.4 2059.9 725.4 2061.2 714.4 2061.6 702.4 2062.4 691.4 2062.4 673.4 2061.7 651.4 2062.7 629.4 2061.7 606.4 2062.2 587.4 2061.9 582.4 2061.3 577.4 2060.3 574.4 2059.3 570.4 2057.4 567.4 2055.1 565.3 2052.7 563.4 2049.7 561.8 2045.7 560.8 2040.7 560.7 2034.7 561.7 2028.7 563.6 2023.7 566.4 2019 569.4 2015.8 573.4 2013.3 578.4 2011.4 583.4 2010.5 588.4 2010 621.4 2009.9 639.4 2010.4 670.4 2010.6 679.4 2010.4 689.3 2009.7ZM582.3 2012.7 588.4 2012 618.4 2011.9 640.4 2012.7 672.4 2012.8 696.4 2011.8 704.4 2012.3 715.4 2014.1 741.4 2017.4 765.4 2018.9 770.4 2019.8 776.4 2021.4 791.4 2026.5 798.4 2029.5 801.8 2031.7 804.9 2034.7 806.5 2037.7 806.7 2040.7 805.8 2043.7 803.6 2046.7 800.3 2049.7 795.7 2052.7 791.4 2054.8 786.4 2056.5 780.4 2057.9 774.4 2058.7 765.4 2059 748.4 2057.7 742.4 2057.6 725.4 2058.9 714.4 2059.2 702.4 2060.2 692.4 2060.3 672.4 2059.3 651.4 2060.6 629.4 2059.5 601.4 2060.1 585.4 2059.6 579.4 2058.5 575.4 2057.3 571.4 2055.4 568.4 2053.3 566.1 2050.7 563.9 2046.7 562.6 2042.7 562.1 2038.7 562.2 2034.7 563.2 2029.7 565.2 2024.7 567.6 2020.7 570.4 2017.8 574.4 2015.2 578.4 2013.5 582.3 2012.7ZM581.8 2014.7 588.4 2013.9 616.4 2013.9 640.4 2014.9 672.4 2014.9 691.4 2013.9 697.4 2013.8 705.4 2014.5 716.4 2016.4 739.4 2019.7 765.4 2021.2 771.4 2022.3 777.4 2024.1 788.4 2028.3 793.4 2030.6 796.6 2032.7 799.7 2035.7 800.9 2037.7 801.4 2040.7 800.5 2043.7 798.5 2046.7 795.2 2049.7 792.1 2051.7 788.4 2053.5 783.4 2055.3 778.4 2056.4 773.4 2057 763.4 2057.1 748.4 2055.7 742.4 2055.4 736.4 2055.7 725.4 2056.6 714.4 2057 703.4 2058 697.4 2058.2 673.4 2057.1 651.4 2058.5 628.4 2057.5 601.4 2058.3 587.4 2057.8 577.4 2055.8 573.4 2054.1 570.4 2052.4 568.4 2050.6 566.2 2047.7 564.8 2044.7 563.8 2040.7 563.5 2036.7 564 2032.7 565.6 2027.7 567.7 2023.7 570.4 2020.4 574 2017.7 577.4 2015.9 581.8 2014.7ZM586.6 2015.7 618.4 2015.7 643.4 2017 674.4 2016.9 691.4 2015.9 698.4 2015.8 705.4 2016.5 716.4 2018.6 737.4 2022.2 744.4 2022.7 758.4 2022.9 765.4 2023.4 770.4 2024.2 776.4 2025.9 782.4 2028.2 789.7 2031.7 792.6 2033.7 795.5 2036.7 796.4 2038.7 796.7 2041.7 795.7 2044.7 794.2 2046.7 792.2 2048.7 789.3 2050.7 785.4 2052.6 781.4 2054 776.4 2055.1 772.4 2055.5 762.4 2055.5 747.4 2053.6 740.4 2053.3 715.4 2054.7 704.4 2055.9 698.4 2056.1 691.4 2056 673.4 2055 667.4 2055.2 651.4 2056.5 628.4 2055.5 600.4 2056.6 587.4 2056 577.4 2053.7 573.4 2051.9 570.4 2050 568.2 2047.7 566.5 2044.7 565.5 2041.7 565 2037.7 565.4 2033.7 566.5 2029.7 568.4 2025.8 570.7 2022.7 574.2 2019.7 577.4 2017.9 581.4 2016.6 586.6 2015.7ZM584.1 2017.7 589.4 2017.1 614.4 2017.3 643.4 2019.1 676.4 2018.8 694.4 2017.7 703.4 2018.1 736.4 2024.9 744.4 2025.4 762.4 2025.2 768.4 2025.8 773.4 2026.9 781.4 2029.8 788.4 2033.7 790.7 2035.7 792.2 2037.7 793 2039.7 793.1 2041.7 792.2 2044.7 790.8 2046.7 788.6 2048.7 786.4 2050.2 783.2 2051.7 779.4 2053 771.4 2054.2 762.4 2054.1 745.4 2051.4 738.4 2051 716.4 2052.4 702.4 2053.9 692.4 2054 672.4 2052.9 650.4 2054.5 627.4 2053.7 600.4 2055.1 588.4 2054.5 578.4 2052.2 575.4 2050.9 572.4 2049.1 570.4 2047.5 568.4 2044.9 567.4 2042.7 566.6 2039.7 566.5 2036.7 567.1 2032.7 568.6 2028.7 570.4 2025.7 573.2 2022.7 576.4 2020.3 579.4 2018.9 584.1 2017.7ZM588.3 2018.7 615.4 2019 635.4 2020.8 642.4 2021.2 676.4 2020.7 694.4 2019.7 703.4 2020.1 709.4 2021.2 730.4 2027 735.4 2028 744.4 2028.2 762.4 2027.2 767.4 2027.5 772.4 2028.5 779.4 2030.8 785.4 2034.1 787.3 2035.7 789.1 2037.7 790 2039.7 790.2 2041.7 789.8 2043.7 788.7 2045.7 786.8 2047.7 783.8 2049.7 780.4 2051.2 777.4 2052.1 770.4 2053.1 765.4 2053 760.4 2052.5 744.4 2049.1 735.4 2048.4 717.4 2049.9 707.4 2051.4 702.4 2051.8 693.4 2051.9 671.4 2050.9 650.4 2052.3 627.4 2051.9 619.4 2052.2 601.4 2053.6 595.4 2053.6 589.4 2053.1 585.4 2052.4 579.4 2050.7 576.4 2049.5 573.4 2047.7 571.1 2045.7 569.4 2043.3 568.4 2040.7 568 2037.7 568.4 2033.7 569.4 2030.6 571.4 2027.2 574.4 2023.9 576.4 2022.3 579.4 2020.7 584.4 2019.2 588.3 2018.7ZM584.5 2020.7 587.4 2020.2 591.4 2020 610.4 2020.3 620.4 2021 635.4 2022.9 643.4 2023.3 677.4 2022.6 694.4 2021.6 703.4 2021.9 707.4 2022.6 712.4 2024 720.4 2026.8 729.4 2030.6 734.4 2031.8 737.4 2032 742.4 2031.7 755.4 2029.7 761.4 2029.1 767.4 2029.2 772.4 2030 778.4 2032 783.4 2034.8 785.5 2036.7 787 2038.7 787.7 2041.7 787.3 2043.7 786.1 2045.7 784.4 2047.4 782.5 2048.7 777.4 2050.8 770.4 2051.9 765.4 2051.8 759.4 2051.1 753.8 2049.7 742.4 2046.1 737.4 2045.2 733.4 2045 728.4 2045.4 709.4 2049 703.4 2049.7 668.4 2048.9 647.4 2050.2 624.4 2050.2 601.4 2052.3 592.4 2052 585.4 2050.8 579.4 2048.9 576.4 2047.6 573.7 2045.7 571.8 2043.7 570.5 2041.7 569.8 2039.7 569.5 2036.7 570 2033.7 571.1 2030.7 573 2027.7 575.4 2025.1 578.4 2022.9 581.4 2021.6 584.5 2020.7ZM586.8 2021.7 597.4 2021.2 610.4 2021.6 618.4 2022.4 634.4 2024.8 643.4 2025.4 677.4 2024.5 694.4 2023.4 703.4 2023.7 707.4 2024.4 711.4 2025.6 716.4 2027.6 720.6 2029.7 723.5 2031.7 725.7 2033.7 727.2 2035.7 727.9 2037.7 727.7 2038.7 726 2040.7 721.4 2043.3 712.4 2046.3 705.4 2047.6 698.4 2047.6 676.4 2046.9 664.4 2047 644.4 2048.2 624.4 2048.5 601.4 2051 592.4 2050.7 585.4 2049.4 577.4 2046.2 575.2 2044.7 573.3 2042.7 572.1 2040.7 571.5 2038.7 571.3 2035.7 572 2032.7 573.5 2029.7 575.4 2027.2 577.4 2025.4 579.4 2024.1 583.4 2022.5 586.8 2021.7ZM763.8 2030.7 768.4 2030.8 773.4 2031.8 777.4 2033.1 781.4 2035.3 783.9 2037.7 785.1 2039.7 785.4 2042.7 784.5 2044.7 783.4 2046.1 781.4 2047.7 777.4 2049.5 772.4 2050.6 766.4 2050.8 760.4 2050 754.4 2048.3 748.6 2045.7 743.7 2042.7 741.4 2040.7 740.8 2039.7 740.8 2038.7 741.4 2037.7 742.6 2036.7 746.6 2034.7 753.4 2032.3 758.4 2031.2 763.8 2030.7ZM590.1 2022.7 600.4 2022.5 610.4 2023 618.4 2024 632.4 2026.6 642.4 2027.4 677.4 2026.5 695.4 2025.1 703.4 2025.3 707.4 2026 710.4 2026.9 716.2 2029.7 719.9 2032.7 721.2 2034.7 721.5 2036.7 721 2038.7 720.2 2039.7 716.4 2042.5 711.4 2044.5 705.4 2045.7 700.4 2045.8 680.4 2044.9 660.4 2045.2 642.4 2046.3 626.4 2046.6 604.4 2049.6 598.4 2049.9 593.4 2049.6 586.4 2048.3 582.1 2046.7 578.4 2044.9 576.4 2043.5 574.7 2041.7 573.6 2039.7 573.1 2037.7 573.1 2035.7 573.8 2032.7 575.4 2029.7 577.4 2027.4 579.7 2025.7 583.4 2024 586.4 2023.1 590.1 2022.7ZM759.9 2032.7 764.4 2032.2 769.4 2032.3 773.4 2033.1 777.4 2034.6 780.6 2036.7 782.4 2038.7 783.3 2040.7 783.3 2042.7 782.9 2043.7 781.5 2045.7 778.5 2047.7 775.4 2048.9 771.4 2049.6 767.4 2049.7 762.4 2049.2 758.4 2048.2 754.6 2046.7 751.3 2044.7 749.3 2042.7 748.4 2040.7 748.6 2038.7 750.3 2036.7 752.4 2035.3 756.1 2033.7 759.9 2032.7ZM595 2023.7 603.4 2023.7 610.4 2024.3 617.4 2025.4 629.4 2028.2 638.4 2029.1 676.4 2028.7 681.4 2028.4 694.4 2026.8 703.4 2026.8 709.4 2028.2 714.3 2030.7 717.2 2033.7 717.8 2035.7 717.8 2036.7 716.9 2038.7 716.1 2039.7 713.4 2041.6 709.4 2043.2 705.4 2044 699.4 2044.1 679.4 2042.8 656.4 2043.6 642.4 2044.4 628.4 2044.6 622.4 2045.2 604.4 2048.4 599.4 2048.7 594.4 2048.5 590.4 2047.9 586.4 2046.9 579.4 2043.7 577 2041.7 575.7 2039.7 575 2037.7 574.9 2035.7 575.6 2032.7 576.7 2030.7 578.4 2028.6 581 2026.7 584.4 2025.1 587.4 2024.3 595 2023.7ZM763.5 2033.7 767.4 2033.5 771.4 2034 774.4 2034.8 777.4 2036.2 779.4 2037.7 780.9 2039.7 781.3 2041.7 780.8 2043.7 779.4 2045.4 777.4 2046.8 774.4 2047.9 770.4 2048.5 766.4 2048.5 762.4 2048 759.4 2047.1 756.3 2045.7 754.8 2044.7 752.9 2042.7 752.3 2040.7 752.8 2038.7 754.4 2037 756.4 2035.7 759.4 2034.5 763.5 2033.7ZM587.2 2025.7 591.4 2025.1 596.4 2024.8 607.4 2025.2 615.4 2026.5 628.4 2030.2 635.4 2030.9 663.4 2030.6 677.4 2031 682.4 2030.4 693.4 2028.4 698.4 2028 702.4 2028.1 707.4 2029 711.2 2030.7 713.6 2032.7 714.4 2033.7 715 2035.7 714.5 2037.7 712.4 2039.9 708.7 2041.7 704.4 2042.6 697.4 2042.4 684.4 2040.8 679.4 2040.5 665.4 2041.6 644.4 2042.6 628.4 2042.6 622.4 2043.4 605.4 2047.1 600.4 2047.6 595.4 2047.5 589.4 2046.5 584.4 2044.7 579.6 2041.7 578.4 2040.5 577.3 2038.7 576.8 2036.7 576.9 2034.7 577.5 2032.7 578.7 2030.7 580.4 2029 582.4 2027.6 587.2 2025.7ZM761.4 2035.7 764.4 2035.1 768.4 2034.9 771.4 2035.4 774.4 2036.3 776.8 2037.7 778.4 2039.3 779.1 2040.7 779.1 2042.7 777.7 2044.7 776.4 2045.6 772.4 2047.1 769.4 2047.4 766.4 2047.3 763.4 2046.9 760.4 2045.9 756.8 2043.7 756 2042.7 755.5 2040.7 756.3 2038.7 757.3 2037.7 758.9 2036.7 761.4 2035.7ZM588.9 2026.7 598.4 2025.9 608.4 2026.6 615.4 2028.1 626.4 2032.3 630.4 2033.1 645.4 2032.6 662.4 2032.6 668.4 2033.1 678.4 2034.8 680.4 2034.4 687 2031.7 691.4 2030.4 696.4 2029.6 702.4 2029.5 706.4 2030.2 709.6 2031.7 711.7 2033.7 712.3 2035.7 711.6 2037.7 710.4 2038.9 707.4 2040.4 704.4 2041 699.4 2041.1 694.4 2040.5 689.4 2039.5 681.4 2037.1 678.4 2036.8 669.4 2039 661.4 2040 643.4 2040.9 630.4 2040.1 627.4 2040.1 623.4 2040.9 613.4 2044 607.4 2045.5 601.4 2046.4 596.4 2046.4 590.4 2045.4 585.5 2043.7 581.1 2040.7 579.1 2037.7 578.8 2035.7 579.1 2033.7 581.1 2030.7 584.4 2028.2 588.9 2026.7ZM764.3 2036.7 769.4 2036.5 773.6 2037.7 776.2 2039.7 776.7 2040.7 776.6 2042.7 775.9 2043.7 774.4 2044.8 770.4 2046 765.4 2045.8 761.7 2044.7 760.1 2043.7 759.2 2042.7 758.7 2041.7 758.6 2040.7 759 2039.7 760.4 2038.3 762.4 2037.2 764.3 2036.7ZM590.4 2027.7 595.4 2027.1 601.4 2027.1 606.4 2027.5 611.4 2028.5 616.4 2030.3 620.7 2032.7 623.1 2034.7 623.7 2035.7 623.7 2036.7 622.9 2037.7 621.6 2038.7 617.9 2040.7 612.9 2042.7 607.4 2044.3 602.4 2045.2 598.4 2045.4 594.4 2045.1 590.4 2044.2 586.5 2042.7 583.6 2040.7 581.8 2038.7 581.3 2037.7 580.9 2035.7 581.8 2032.7 583.5 2030.7 586.4 2028.8 590.4 2027.7ZM693.4 2031.7 699.4 2030.8 704.4 2031.2 707.9 2032.7 709 2033.7 709.6 2034.7 709.7 2035.7 709.4 2036.7 708.4 2037.9 707.1 2038.7 704.4 2039.5 699.4 2039.6 693.9 2038.7 690.9 2037.7 689.2 2036.7 688.4 2035.7 688.4 2034.7 689.2 2033.7 690.8 2032.7 693.4 2031.7ZM645.2 2034.7 653.2 2034.7 658.4 2035 662.3 2035.7 662.6 2036.7 657.4 2037.8 647.4 2038.6 642.4 2038.6 638 2037.7 637.1 2036.7 638.6 2035.7 645.2 2034.7ZM764.3 2038.7 767.4 2038.1 771.3 2038.7 773 2039.7 773.8 2040.7 774 2041.7 773.4 2042.9 771.4 2044.1 768.4 2044.5 765.4 2044.1 763.4 2043.2 762.1 2041.7 762.1 2040.7 762.7 2039.7 764.3 2038.7ZM592.5 2028.7 596.4 2028.3 601.4 2028.3 605.5 2028.7 610 2029.7 613.4 2031 616.2 2032.7 617.9 2034.7 618.2 2035.7 618 2036.7 616.5 2038.7 614.4 2040.1 611.1 2041.7 606.4 2043.2 602.4 2043.9 598.4 2044.2 594.4 2043.8 591.4 2043.1 587.8 2041.7 585.4 2040 583.6 2037.7 583.2 2035.7 583.6 2033.7 584.2 2032.7 586.3 2030.7 588.4 2029.7 592.5 2028.7ZM699.5 2032.7 702.4 2032.8 704.4 2033.3 706.1 2034.7 706.2 2035.7 705.4 2036.8 702.4 2037.7 699.4 2037.7 695.8 2036.7 694.5 2035.7 694.4 2034.7 695.5 2033.7 699.5 2032.7ZM594.9 2029.7 602.4 2029.6 608.4 2030.8 611.4 2032.2 613.4 2033.7 614 2034.7 614.3 2035.7 614.1 2036.7 612.6 2038.7 611.2 2039.7 608.4 2041 604.4 2042.3 601.4 2042.8 597.4 2042.9 594.4 2042.5 591.5 2041.7 588.4 2040.2 586.7 2038.7 585.6 2036.7 585.6 2034.7 586.8 2032.7 588.4 2031.5 591.4 2030.4 594.9 2029.7Z" fill="none" stroke="#000" stroke-width="1.1" stroke-linejoin="round"/>
<rect x="550.4" y="1807.7" width="314" height="313.2" fill="none" stroke="#000" stroke-width="1.9"/>
<path d="M748.7 1807.7L748.7 2120.8" stroke="#000" stroke-width="1.8"/>
<path d="M550.4 1952.1L864.4 1952.1" stroke="#000" stroke-width="1.8"/>
<path d="M542.4 1837L550.4 1837" stroke="#000" stroke-width="1.9"/>
<path d="M542.4 1912L550.4 1912" stroke="#000" stroke-width="1.9"/>
<path d="M542.4 1997.6L550.4 1997.6" stroke="#000" stroke-width="1.9"/>
<path d="M542.4 2048.8L550.4 2048.8" stroke="#000" stroke-width="1.9"/>
<path d="M542.4 2100.3L550.4 2100.3" stroke="#000" stroke-width="1.9"/>
<path d="M545.9 1889.4L550.4 1889.4" stroke="#000" stroke-width="1.5"/>
<path d="M545.9 1876.2L550.4 1876.2" stroke="#000" stroke-width="1.5"/>
<path d="M545.9 1866.8L550.4 1866.8" stroke="#000" stroke-width="1.5"/>
<path d="M545.9 1859.6L550.4 1859.6" stroke="#000" stroke-width="1.5"/>
<path d="M545.9 1853.6L550.4 1853.6" stroke="#000" stroke-width="1.5"/>
<path d="M545.9 1848.6L550.4 1848.6" stroke="#000" stroke-width="1.5"/>
<path d="M545.9 1844.3L550.4 1844.3" stroke="#000" stroke-width="1.5"/>
<path d="M545.9 1840.4L550.4 1840.4" stroke="#000" stroke-width="1.5"/>
<path d="M545.9 1971.8L550.4 1971.8" stroke="#000" stroke-width="1.5"/>
<path d="M545.9 1956.8L550.4 1956.8" stroke="#000" stroke-width="1.5"/>
<path d="M545.9 1946.1L550.4 1946.1" stroke="#000" stroke-width="1.5"/>
<path d="M545.9 1937.8L550.4 1937.8" stroke="#000" stroke-width="1.5"/>
<path d="M545.9 1931L550.4 1931" stroke="#000" stroke-width="1.5"/>
<path d="M545.9 1925.3L550.4 1925.3" stroke="#000" stroke-width="1.5"/>
<path d="M545.9 1920.3L550.4 1920.3" stroke="#000" stroke-width="1.5"/>
<path d="M545.9 1915.9L550.4 1915.9" stroke="#000" stroke-width="1.5"/>
<path d="M545.9 1814.4L550.4 1814.4" stroke="#000" stroke-width="1.5"/>
<path d="M545.9 1815.8L550.4 1815.8" stroke="#000" stroke-width="1.5"/>
<path d="M545.9 2002.7L550.4 2002.7" stroke="#000" stroke-width="1.5"/>
<path d="M545.9 2008.5L550.4 2008.5" stroke="#000" stroke-width="1.5"/>
<path d="M545.9 2014.2L550.4 2014.2" stroke="#000" stroke-width="1.5"/>
<path d="M545.9 2020L550.4 2020" stroke="#000" stroke-width="1.5"/>
<path d="M545.9 2025.1L550.4 2025.1" stroke="#000" stroke-width="1.5"/>
<path d="M545.9 2029.7L550.4 2029.7" stroke="#000" stroke-width="1.5"/>
<path d="M545.9 2033.8L550.4 2033.8" stroke="#000" stroke-width="1.5"/>
<path d="M545.9 2037.5L550.4 2037.5" stroke="#000" stroke-width="1.5"/>
<path d="M545.9 2040.8L550.4 2040.8" stroke="#000" stroke-width="1.5"/>
<path d="M545.9 2059.2L550.4 2059.2" stroke="#000" stroke-width="1.5"/>
<path d="M545.9 2062.7L550.4 2062.7" stroke="#000" stroke-width="1.5"/>
<path d="M545.9 2066.8L550.4 2066.8" stroke="#000" stroke-width="1.5"/>
<path d="M545.9 2071.2L550.4 2071.2" stroke="#000" stroke-width="1.5"/>
<path d="M545.9 2076.1L550.4 2076.1" stroke="#000" stroke-width="1.5"/>
<path d="M545.9 2081.2L550.4 2081.2" stroke="#000" stroke-width="1.5"/>
<path d="M545.9 2086.9L550.4 2086.9" stroke="#000" stroke-width="1.5"/>
<path d="M545.9 2093.4L550.4 2093.4" stroke="#000" stroke-width="1.5"/>
<path d="M545.9 2106.5L550.4 2106.5" stroke="#000" stroke-width="1.5"/>
<path d="M545.9 2112.3L550.4 2112.3" stroke="#000" stroke-width="1.5"/>
<path d="M542.9 2043.5L550.4 2043.5" stroke="#000" stroke-width="1.2"/>
<path d="M542.9 2045.6L550.4 2045.6" stroke="#000" stroke-width="1.2"/>
<path d="M542.9 2047.7L550.4 2047.7" stroke="#000" stroke-width="1.2"/>
<path d="M542.9 2049.8L550.4 2049.8" stroke="#000" stroke-width="1.2"/>
<path d="M542.9 2051.8L550.4 2051.8" stroke="#000" stroke-width="1.2"/>
<path d="M542.9 2053.9L550.4 2053.9" stroke="#000" stroke-width="1.2"/>
<path d="M583.5 2120.8L583.5 2129.8" stroke="#000" stroke-width="1.9"/>
<path d="M619.6 2120.8L619.6 2129.8" stroke="#000" stroke-width="1.9"/>
<path d="M656.2 2120.8L656.2 2129.8" stroke="#000" stroke-width="1.9"/>
<path d="M713.1 2120.8L713.1 2129.8" stroke="#000" stroke-width="1.9"/>
<path d="M803.6 2120.8L803.6 2129.8" stroke="#000" stroke-width="1.9"/>
<path d="M740.3 2120.8L740.3 2125.3" stroke="#000" stroke-width="1.5"/>
<path d="M756.3 2120.8L756.3 2125.3" stroke="#000" stroke-width="1.5"/>
<path d="M767.6 2120.8L767.6 2125.3" stroke="#000" stroke-width="1.5"/>
<path d="M776.3 2120.8L776.3 2125.3" stroke="#000" stroke-width="1.5"/>
<path d="M783.5 2120.8L783.5 2125.3" stroke="#000" stroke-width="1.5"/>
<path d="M789.6 2120.8L789.6 2125.3" stroke="#000" stroke-width="1.5"/>
<path d="M794.8 2120.8L794.8 2125.3" stroke="#000" stroke-width="1.5"/>
<path d="M799.4 2120.8L799.4 2125.3" stroke="#000" stroke-width="1.5"/>
<path d="M673.3 2120.8L673.3 2125.3" stroke="#000" stroke-width="1.5"/>
<path d="M683.3 2120.8L683.3 2125.3" stroke="#000" stroke-width="1.5"/>
<path d="M690.5 2120.8L690.5 2125.3" stroke="#000" stroke-width="1.5"/>
<path d="M696 2120.8L696 2125.3" stroke="#000" stroke-width="1.5"/>
<path d="M700.5 2120.8L700.5 2125.3" stroke="#000" stroke-width="1.5"/>
<path d="M704.3 2120.8L704.3 2125.3" stroke="#000" stroke-width="1.5"/>
<path d="M707.6 2120.8L707.6 2125.3" stroke="#000" stroke-width="1.5"/>
<path d="M710.5 2120.8L710.5 2125.3" stroke="#000" stroke-width="1.5"/>
<path d="M830.8 2120.8L830.8 2125.3" stroke="#000" stroke-width="1.5"/>
<path d="M846.8 2120.8L846.8 2125.3" stroke="#000" stroke-width="1.5"/>
<path d="M858.1 2120.8L858.1 2125.3" stroke="#000" stroke-width="1.5"/>
<path d="M612.2 2120.8L612.2 2125.3" stroke="#000" stroke-width="1.5"/>
<path d="M627 2120.8L627 2125.3" stroke="#000" stroke-width="1.5"/>
<path d="M605.8 2120.8L605.8 2125.3" stroke="#000" stroke-width="1.5"/>
<path d="M633.5 2120.8L633.5 2125.3" stroke="#000" stroke-width="1.5"/>
<path d="M598.9 2120.8L598.9 2125.3" stroke="#000" stroke-width="1.5"/>
<path d="M640.4 2120.8L640.4 2125.3" stroke="#000" stroke-width="1.5"/>
<path d="M590.9 2120.8L590.9 2125.3" stroke="#000" stroke-width="1.5"/>
<path d="M648.3 2120.8L648.3 2125.3" stroke="#000" stroke-width="1.5"/>
<path d="M582.5 2120.8L582.5 2125.3" stroke="#000" stroke-width="1.5"/>
<path d="M656.7 2120.8L656.7 2125.3" stroke="#000" stroke-width="1.5"/>
<path d="M573.6 2120.8L573.6 2125.3" stroke="#000" stroke-width="1.5"/>
<path d="M665.6 2120.8L665.6 2125.3" stroke="#000" stroke-width="1.5"/>
<path d="M564.2 2120.8L564.2 2125.3" stroke="#000" stroke-width="1.5"/>
<path d="M675 2120.8L675 2125.3" stroke="#000" stroke-width="1.5"/>
<path d="M554.3 2120.8L554.3 2125.3" stroke="#000" stroke-width="1.5"/>
<path d="M684.9 2120.8L684.9 2125.3" stroke="#000" stroke-width="1.5"/>
<path d="M613.7 2120.8L613.7 2129.3" stroke="#000" stroke-width="1.2"/>
<path d="M617.6 2120.8L617.6 2129.3" stroke="#000" stroke-width="1.2"/>
<path d="M621.6 2120.8L621.6 2129.3" stroke="#000" stroke-width="1.2"/>
<path d="M625.6 2120.8L625.6 2129.3" stroke="#000" stroke-width="1.2"/>
<text x="526.1" y="1845.6" font-size="27.6" text-anchor="end">10<tspan dy="-12.4" font-size="16.6">5</tspan></text>
<text x="526.1" y="1920.6" font-size="27.6" text-anchor="end">10<tspan dy="-12.4" font-size="16.6">4</tspan></text>
<text x="526.1" y="2006.2" font-size="27.6" text-anchor="end">10<tspan dy="-12.4" font-size="16.6">3</tspan></text>
<text x="525.6" y="2057.4" font-size="27.6" text-anchor="end">0</text>
<text x="526.1" y="2108.9" font-size="27.6" text-anchor="end">–10<tspan dy="-12.4" font-size="16.6">3</tspan></text>
<text x="577.6" y="2165.4" font-size="27.6" text-anchor="middle">–10<tspan dy="-12.4" font-size="16.6">3</tspan></text>
<text x="619.6" y="2165.4" font-size="27.6" text-anchor="middle">0</text>
<text x="656.2" y="2165.4" font-size="27.6" text-anchor="middle">10<tspan dy="-12.4" font-size="16.6">3</tspan></text>
<text x="714.6" y="2165.4" font-size="27.6" text-anchor="middle">10<tspan dy="-12.4" font-size="16.6">4</tspan></text>
<text x="805.1" y="2165.4" font-size="27.6" text-anchor="middle">10<tspan dy="-12.4" font-size="16.6">5</tspan></text>
<text x="855.5" y="1840.4" font-size="27.6" text-anchor="end">2.8</text>
<text x="855.5" y="2113.4" font-size="27.6" text-anchor="end">19.1</text>
<text x="702.2" y="1791" font-size="30" text-anchor="middle">PD-1 KO</text>
<text font-size="30.7" text-anchor="middle" transform="translate(24.5 2100) rotate(-90)">DAPI</text>
<path d="M13.4 2037L13.4 1828" stroke="#000" stroke-width="2.8"/>
<path d="M13.4 1810.7L27.2 1833L13.4 1826.5L-0.4 1833Z"/>
<text x="129" y="2216.2" font-size="32.3" >AnnexinV-PE</text>
<path d="M331.3 2204.8L612 2204.8" stroke="#000" stroke-width="2.8"/>
<path d="M637.5 2204.8L607 2188.3L615.5 2204.8L607 2221.3Z"/>
</g>
<g>
<text x="925" y="1780" font-size="41.5" font-weight="bold">l</text>
<rect x="1042.6" y="1904.2" width="71.3" height="226.8" fill="#fff" stroke="#000" stroke-width="2.9"/>
<rect x="1150.6" y="2005.4" width="71.3" height="125.5" fill="#088a08" stroke="#000" stroke-width="2.9"/>
<path d="M1025.5 1805.6L1025.5 2132.2" stroke="#000" stroke-width="2.8"/>
<path d="M1013.2 2130.9L1239 2130.9" stroke="#000" stroke-width="2.8"/>
<path d="M1013.2 2130.9L1025.5 2130.9" stroke="#000" stroke-width="2.8"/>
<text x="999.7" y="2142.2" font-size="32" text-anchor="end">0</text>
<path d="M1013.2 2066.1L1025.5 2066.1" stroke="#000" stroke-width="2.8"/>
<text x="999.7" y="2077.4" font-size="32" text-anchor="end">10</text>
<path d="M1013.2 2001.3L1025.5 2001.3" stroke="#000" stroke-width="2.8"/>
<text x="999.7" y="2012.6" font-size="32" text-anchor="end">20</text>
<path d="M1013.2 1936.5L1025.5 1936.5" stroke="#000" stroke-width="2.8"/>
<text x="999.7" y="1947.8" font-size="32" text-anchor="end">30</text>
<path d="M1013.2 1871.7L1025.5 1871.7" stroke="#000" stroke-width="2.8"/>
<text x="999.7" y="1883" font-size="32" text-anchor="end">40</text>
<path d="M1013.2 1806.9L1025.5 1806.9" stroke="#000" stroke-width="2.8"/>
<text x="999.7" y="1818.2" font-size="32" text-anchor="end">50</text>
<path d="M1078.2 1882.4V1924.1M1061.2 1882.4H1095.2M1061.2 1924.1H1095.2" stroke="#000" stroke-width="2.8" stroke-linecap="round" fill="none"/>
<path d="M1185.6 1988.6V2019.9M1168.6 1988.6H1202.6M1168.6 2019.9H1202.6" stroke="#000" stroke-width="2.8" stroke-linecap="round" fill="none"/>
<circle cx="1100.9" cy="1882.4" r="9.3" fill="#fdfdfd" stroke="#000" stroke-width="2.7"/>
<circle cx="1058.6" cy="1900.8" r="9.3" fill="#fdfdfd" stroke="#000" stroke-width="2.7"/>
<circle cx="1078.2" cy="1904.5" r="9.3" fill="#fdfdfd" stroke="#000" stroke-width="2.7"/>
<circle cx="1078.2" cy="1931.5" r="9.3" fill="#fdfdfd" stroke="#000" stroke-width="2.7"/>
<circle cx="1185.6" cy="1986.7" r="9.3" fill="#fdfdfd" stroke="#000" stroke-width="2.7"/>
<circle cx="1166" cy="1999" r="9.3" fill="#fdfdfd" stroke="#000" stroke-width="2.7"/>
<circle cx="1206.5" cy="2007.6" r="9.3" fill="#fdfdfd" stroke="#000" stroke-width="2.7"/>
<circle cx="1185.6" cy="2023.5" r="9.3" fill="#fdfdfd" stroke="#000" stroke-width="2.7"/>
<path d="M1071.3 1861.5L1182.8 1861.5" stroke="#000" stroke-width="2.8" stroke-linecap="round"/>
<text x="1131.6" y="1849.2" font-size="24.5" text-anchor="middle"><tspan font-style="italic">p</tspan> = 0.0003</text>
<text font-size="30.5" text-anchor="middle" transform="translate(941.4 1974.4) rotate(-90)">% AnnexinV<tspan dy="-11" font-size="18.3">+</tspan><tspan dy="11"> DAPI</tspan><tspan dy="-11" font-size="18.3">–</tspan></text>
<text x="1295" y="1780" font-size="41.5" font-weight="bold">m</text>
<rect x="1412" y="1886.4" width="71.3" height="244.6" fill="#fff" stroke="#000" stroke-width="2.9"/>
<rect x="1519.4" y="1998.7" width="70.7" height="132.3" fill="#088a08" stroke="#000" stroke-width="2.9"/>
<path d="M1395.5 1807.4L1395.5 2132.2" stroke="#000" stroke-width="2.8"/>
<path d="M1383.3 2130.9L1607.3 2130.9" stroke="#000" stroke-width="2.8"/>
<path d="M1383.3 2050.4L1395.5 2050.4" stroke="#000" stroke-width="2.8"/>
<text x="1369.1" y="2061.7" font-size="32" text-anchor="end">2</text>
<path d="M1383.3 1969.8L1395.5 1969.8" stroke="#000" stroke-width="2.8"/>
<text x="1369.1" y="1981.1" font-size="32" text-anchor="end">4</text>
<path d="M1383.3 1889.3L1395.5 1889.3" stroke="#000" stroke-width="2.8"/>
<text x="1369.1" y="1900.6" font-size="32" text-anchor="end">6</text>
<path d="M1383.3 1808.7L1395.5 1808.7" stroke="#000" stroke-width="2.8"/>
<text x="1369.1" y="1820" font-size="32" text-anchor="end">8</text>
<path d="M1447.7 1864.6V1906.3M1430.7 1864.6H1464.7M1430.7 1906.3H1464.7" stroke="#000" stroke-width="2.8" stroke-linecap="round" fill="none"/>
<path d="M1555.1 1988.6V2007M1538.1 1988.6H1572.1M1538.1 2007H1572.1" stroke="#000" stroke-width="2.8" stroke-linecap="round" fill="none"/>
<circle cx="1433.6" cy="1849.2" r="9.3" fill="#fdfdfd" stroke="#000" stroke-width="2.7"/>
<circle cx="1461.8" cy="1853.5" r="9.3" fill="#fdfdfd" stroke="#000" stroke-width="2.7"/>
<circle cx="1461.8" cy="1908.8" r="9.3" fill="#fdfdfd" stroke="#000" stroke-width="2.7"/>
<circle cx="1433.6" cy="1927.2" r="9.3" fill="#fdfdfd" stroke="#000" stroke-width="2.7"/>
<circle cx="1541" cy="1978.1" r="9.3" fill="#fdfdfd" stroke="#000" stroke-width="2.7"/>
<circle cx="1582.1" cy="1983.6" r="9.3" fill="#fdfdfd" stroke="#000" stroke-width="2.7"/>
<circle cx="1541" cy="2011.9" r="9.3" fill="#fdfdfd" stroke="#000" stroke-width="2.7"/>
<circle cx="1567.4" cy="2011.9" r="9.3" fill="#fdfdfd" stroke="#000" stroke-width="2.7"/>
<path d="M1444.4 1821.6L1555.3 1821.6" stroke="#000" stroke-width="2.8" stroke-linecap="round"/>
<text x="1502.9" y="1811.8" font-size="24.5" text-anchor="middle"><tspan font-style="italic">p</tspan> = 0.0026</text>
<text font-size="30.5" text-anchor="middle" transform="translate(1323.1 1974.4) rotate(-90)">% AnnexinV<tspan dy="-11" font-size="18.3">+</tspan><tspan dy="11"> DAPI</tspan><tspan dy="-11" font-size="18.3">+</tspan></text>
<text x="1665" y="1780" font-size="41.5" font-weight="bold">o</text>
<rect x="1799.3" y="2060" width="71.3" height="70.9" fill="#fff" stroke="#000" stroke-width="2.9"/>
<rect x="1907.3" y="1918.9" width="70.7" height="212.1" fill="#088a08" stroke="#000" stroke-width="2.9"/>
<path d="M1780.9 1805.6L1780.9 2132.2" stroke="#000" stroke-width="2.8"/>
<path d="M1768.7 2130.9L1997 2130.9" stroke="#000" stroke-width="2.8"/>
<path d="M1768.7 1806.9L1780.9 1806.9" stroke="#000" stroke-width="2.8"/>
<text x="1756.4" y="1818.2" font-size="32" text-anchor="end">45</text>
<path d="M1768.7 1887.9L1780.9 1887.9" stroke="#000" stroke-width="2.8"/>
<text x="1756.4" y="1899.2" font-size="32" text-anchor="end">40</text>
<path d="M1768.7 1969.5L1780.9 1969.5" stroke="#000" stroke-width="2.8"/>
<text x="1756.4" y="1980.8" font-size="32" text-anchor="end">35</text>
<path d="M1768.7 2050.5L1780.9 2050.5" stroke="#000" stroke-width="2.8"/>
<text x="1756.4" y="2061.8" font-size="32" text-anchor="end">30</text>
<path d="M1835 2035.8V2083.7M1818 2035.8H1852M1818 2083.7H1852" stroke="#000" stroke-width="2.8" stroke-linecap="round" fill="none"/>
<path d="M1943 1868.9V1967.1M1926 1868.9H1960M1926 1967.1H1960" stroke="#000" stroke-width="2.8" stroke-linecap="round" fill="none"/>
<circle cx="1820.8" cy="2028.4" r="9.3" fill="#fdfdfd" stroke="#000" stroke-width="2.7"/>
<circle cx="1862" cy="2049.9" r="9.3" fill="#fdfdfd" stroke="#000" stroke-width="2.7"/>
<circle cx="1820.8" cy="2078.8" r="9.3" fill="#fdfdfd" stroke="#000" stroke-width="2.7"/>
<circle cx="1849.7" cy="2078.8" r="9.3" fill="#fdfdfd" stroke="#000" stroke-width="2.7"/>
<circle cx="1943" cy="1856.6" r="9.3" fill="#fdfdfd" stroke="#000" stroke-width="2.7"/>
<circle cx="1943" cy="1898.3" r="9.3" fill="#fdfdfd" stroke="#000" stroke-width="2.7"/>
<circle cx="1929.5" cy="1957.9" r="9.3" fill="#fdfdfd" stroke="#000" stroke-width="2.7"/>
<circle cx="1957.1" cy="1957.9" r="9.3" fill="#fdfdfd" stroke="#000" stroke-width="2.7"/>
<path d="M1834.1 1830.2L1946.9 1830.2" stroke="#000" stroke-width="2.8" stroke-linecap="round"/>
<text x="1893.9" y="1819.8" font-size="24.5" text-anchor="middle"><tspan font-style="italic">p</tspan> = 0.0021</text>
<text font-size="32" text-anchor="middle" transform="translate(1691.3 1970.8) rotate(-90)">Bcl-2 MFI (x10<tspan dy="-11.5" font-size="19.2">2</tspan><tspan dy="11.5">)</tspan></text>
<rect x="1310.8" y="2161" width="381.1" height="45.4" fill="#fff" stroke="#333" stroke-width="1.2"/>
<rect x="1320.7" y="2169.7" width="47.7" height="26.9" fill="#fdfdfd" stroke="#000" stroke-width="2.6"/>
<rect x="1496.9" y="2169.7" width="47.7" height="26.9" fill="#088a08" stroke="#000" stroke-width="2.6"/>
<text x="1383.3" y="2194.2" font-size="32" >WT</text>
<text x="1556.9" y="2197.2" font-size="32" >PD-1 KO</text>
</g>
</svg>
</body></html>
